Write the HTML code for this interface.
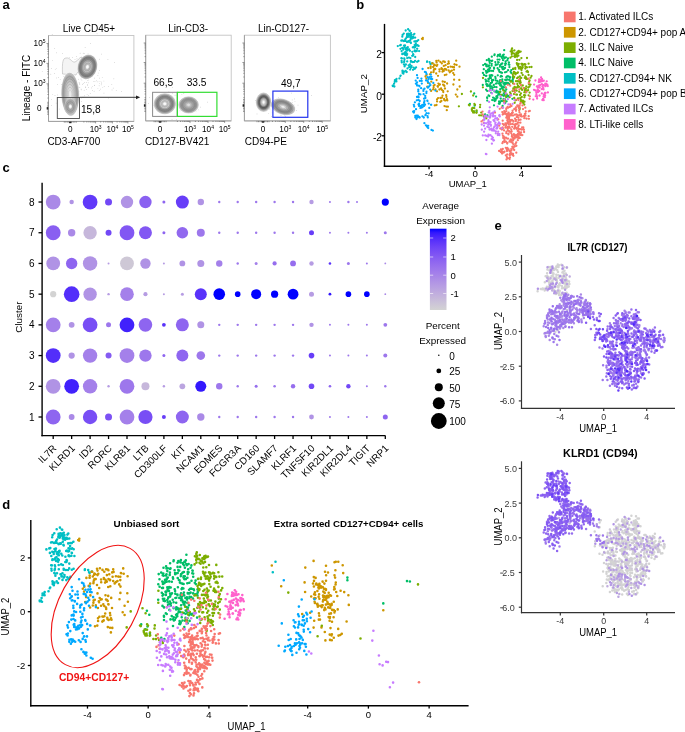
<!DOCTYPE html>
<html><head><meta charset="utf-8"><style>
html,body{margin:0;padding:0;background:#fff;}
svg{display:block;will-change:transform;}
text{font-family:"Liberation Sans", sans-serif;}
</style></head><body>
<svg width="685" height="732" viewBox="0 0 685 732" font-family='"Liberation Sans", sans-serif'>
<rect width="685" height="732" fill="#fff"/>
<text x="2.4" y="8.8" font-size="13" text-anchor="start" font-weight="bold" fill="#000" >a</text>
<rect x="48.5" y="35.5" width="85.4" height="85.9" fill="none" stroke="#c4c4c4" stroke-width="0.9"/>
<line x1="48.5" y1="35.5" x2="48.5" y2="121.4" stroke="#9a9a9a" stroke-width="0.9"/>
<line x1="48.5" y1="121.4" x2="133.9" y2="121.4" stroke="#9a9a9a" stroke-width="0.9"/>
<g stroke="#555" stroke-width="0.6"><line x1="64.3" y1="121.4" x2="64.3" y2="122.7"/><line x1="65.8" y1="121.4" x2="65.8" y2="122.7"/><line x1="67.3" y1="121.4" x2="67.3" y2="122.7"/><line x1="68.8" y1="121.4" x2="68.8" y2="122.7"/><line x1="70.3" y1="121.4" x2="70.3" y2="122.7"/><line x1="71.8" y1="121.4" x2="71.8" y2="122.7"/><line x1="73.3" y1="121.4" x2="73.3" y2="122.7"/><line x1="74.8" y1="121.4" x2="74.8" y2="122.7"/><line x1="76.3" y1="121.4" x2="76.3" y2="122.7"/><line x1="83.86" y1="121.4" x2="83.86" y2="122.5"/><line x1="86.82" y1="121.4" x2="86.82" y2="122.5"/><line x1="88.91" y1="121.4" x2="88.91" y2="122.5"/><line x1="90.54" y1="121.4" x2="90.54" y2="122.5"/><line x1="91.87" y1="121.4" x2="91.87" y2="122.5"/><line x1="93" y1="121.4" x2="93" y2="122.5"/><line x1="93.97" y1="121.4" x2="93.97" y2="122.5"/><line x1="94.83" y1="121.4" x2="94.83" y2="122.5"/><line x1="100.66" y1="121.4" x2="100.66" y2="122.5"/><line x1="103.62" y1="121.4" x2="103.62" y2="122.5"/><line x1="105.71" y1="121.4" x2="105.71" y2="122.5"/><line x1="107.34" y1="121.4" x2="107.34" y2="122.5"/><line x1="108.67" y1="121.4" x2="108.67" y2="122.5"/><line x1="109.8" y1="121.4" x2="109.8" y2="122.5"/><line x1="110.77" y1="121.4" x2="110.77" y2="122.5"/><line x1="111.63" y1="121.4" x2="111.63" y2="122.5"/><line x1="117.07" y1="121.4" x2="117.07" y2="122.5"/><line x1="119.8" y1="121.4" x2="119.8" y2="122.5"/><line x1="121.73" y1="121.4" x2="121.73" y2="122.5"/><line x1="123.23" y1="121.4" x2="123.23" y2="122.5"/><line x1="124.46" y1="121.4" x2="124.46" y2="122.5"/><line x1="125.5" y1="121.4" x2="125.5" y2="122.5"/><line x1="126.4" y1="121.4" x2="126.4" y2="122.5"/><line x1="127.19" y1="121.4" x2="127.19" y2="122.5"/><line x1="95.6" y1="121.4" x2="95.6" y2="123.4"/><line x1="112.4" y1="121.4" x2="112.4" y2="123.4"/><line x1="127.9" y1="121.4" x2="127.9" y2="123.4"/></g>
<rect x="69.1" y="121.7" width="2.4" height="1.5" fill="#222"/>
<g stroke="#555" stroke-width="0.6"><line x1="47.2" y1="102.3" x2="48.5" y2="102.3"/><line x1="47.2" y1="103.8" x2="48.5" y2="103.8"/><line x1="47.2" y1="105.3" x2="48.5" y2="105.3"/><line x1="47.2" y1="106.8" x2="48.5" y2="106.8"/><line x1="47.2" y1="108.3" x2="48.5" y2="108.3"/><line x1="47.2" y1="109.8" x2="48.5" y2="109.8"/><line x1="47.2" y1="111.3" x2="48.5" y2="111.3"/><line x1="47.2" y1="112.8" x2="48.5" y2="112.8"/><line x1="47.2" y1="114.3" x2="48.5" y2="114.3"/><line x1="47.4" y1="98.06" x2="48.5" y2="98.06"/><line x1="47.4" y1="94.47" x2="48.5" y2="94.47"/><line x1="47.4" y1="91.92" x2="48.5" y2="91.92"/><line x1="47.4" y1="89.94" x2="48.5" y2="89.94"/><line x1="47.4" y1="88.33" x2="48.5" y2="88.33"/><line x1="47.4" y1="86.96" x2="48.5" y2="86.96"/><line x1="47.4" y1="85.78" x2="48.5" y2="85.78"/><line x1="47.4" y1="84.73" x2="48.5" y2="84.73"/><line x1="47.4" y1="77.66" x2="48.5" y2="77.66"/><line x1="47.4" y1="74.07" x2="48.5" y2="74.07"/><line x1="47.4" y1="71.52" x2="48.5" y2="71.52"/><line x1="47.4" y1="69.54" x2="48.5" y2="69.54"/><line x1="47.4" y1="67.93" x2="48.5" y2="67.93"/><line x1="47.4" y1="66.56" x2="48.5" y2="66.56"/><line x1="47.4" y1="65.38" x2="48.5" y2="65.38"/><line x1="47.4" y1="64.33" x2="48.5" y2="64.33"/><line x1="47.4" y1="57.41" x2="48.5" y2="57.41"/><line x1="47.4" y1="53.91" x2="48.5" y2="53.91"/><line x1="47.4" y1="51.42" x2="48.5" y2="51.42"/><line x1="47.4" y1="49.49" x2="48.5" y2="49.49"/><line x1="47.4" y1="47.91" x2="48.5" y2="47.91"/><line x1="47.4" y1="46.58" x2="48.5" y2="46.58"/><line x1="47.4" y1="45.43" x2="48.5" y2="45.43"/><line x1="47.4" y1="44.41" x2="48.5" y2="44.41"/><line x1="46.5" y1="83.8" x2="48.5" y2="83.8"/><line x1="46.5" y1="63.4" x2="48.5" y2="63.4"/><line x1="46.5" y1="43.5" x2="48.5" y2="43.5"/></g>
<rect x="46.7" y="107.1" width="1.5" height="2.4" fill="#222"/>
<text x="88.9" y="31.5" font-size="10" text-anchor="middle" font-weight="normal" fill="#000" >Live CD45+</text>
<text x="45.5" y="45.7" font-size="8.2" text-anchor="end">10<tspan font-size="5" dy="-3">5</tspan></text>
<text x="45.5" y="65.6" font-size="8.2" text-anchor="end">10<tspan font-size="5" dy="-3">4</tspan></text>
<text x="45.5" y="86" font-size="8.2" text-anchor="end">10<tspan font-size="5" dy="-3">3</tspan></text>
<text x="41.6" y="111.2" font-size="8.2" text-anchor="end" font-weight="normal" fill="#000" >0</text>
<text x="70.3" y="131.5" font-size="8.2" text-anchor="middle" font-weight="normal" fill="#000" >0</text>
<text x="95.6" y="131.5" font-size="8.2" text-anchor="middle">10<tspan font-size="5" dy="-3">3</tspan></text>
<text x="112.4" y="131.5" font-size="8.2" text-anchor="middle">10<tspan font-size="5" dy="-3">4</tspan></text>
<text x="127.9" y="131.5" font-size="8.2" text-anchor="middle">10<tspan font-size="5" dy="-3">5</tspan></text>
<text x="26.6" y="88" font-size="10" text-anchor="middle" transform="rotate(-90 26.6 88)" dy="3.7">Lineage - FITC</text>
<text x="47.4" y="144.9" font-size="10" text-anchor="start" font-weight="normal" fill="#000" >CD3-AF700</text>
<g fill="#888" fill-opacity="0.8"><circle cx="71.93" cy="89.21" r="0.35"/><circle cx="72.29" cy="74.33" r="0.35"/><circle cx="63.84" cy="76.16" r="0.35"/><circle cx="88.34" cy="87.63" r="0.35"/><circle cx="87.44" cy="84.48" r="0.35"/><circle cx="79.74" cy="83.34" r="0.35"/><circle cx="55.01" cy="95.39" r="0.35"/><circle cx="81.08" cy="88.98" r="0.35"/><circle cx="54.7" cy="48.61" r="0.35"/><circle cx="64.32" cy="71.57" r="0.35"/><circle cx="78.67" cy="79.17" r="0.35"/><circle cx="81.25" cy="68.44" r="0.35"/><circle cx="78.7" cy="87.09" r="0.35"/><circle cx="67.07" cy="110.92" r="0.35"/><circle cx="81.68" cy="101.55" r="0.35"/><circle cx="67.56" cy="66.69" r="0.35"/><circle cx="70.87" cy="78.08" r="0.35"/><circle cx="82.58" cy="84.47" r="0.35"/><circle cx="69.63" cy="62.78" r="0.35"/><circle cx="68.75" cy="101.98" r="0.35"/><circle cx="65.3" cy="84.41" r="0.35"/><circle cx="80.12" cy="53.18" r="0.35"/><circle cx="75.58" cy="103.51" r="0.35"/><circle cx="50.83" cy="74.21" r="0.35"/><circle cx="73.73" cy="65.29" r="0.35"/><circle cx="80.97" cy="78.88" r="0.35"/><circle cx="57.42" cy="94.9" r="0.35"/><circle cx="83.03" cy="97.03" r="0.35"/><circle cx="92.29" cy="86.52" r="0.35"/><circle cx="76.43" cy="56.61" r="0.35"/><circle cx="82.39" cy="68.99" r="0.35"/><circle cx="69.57" cy="57.23" r="0.35"/><circle cx="63.39" cy="70.44" r="0.35"/><circle cx="90.47" cy="43.43" r="0.35"/><circle cx="57.51" cy="84.31" r="0.35"/><circle cx="92.32" cy="90.41" r="0.35"/><circle cx="52.2" cy="34.67" r="0.35"/><circle cx="79.29" cy="66.75" r="0.35"/><circle cx="61.56" cy="97.59" r="0.35"/><circle cx="88.22" cy="82.83" r="0.35"/><circle cx="77.95" cy="87.82" r="0.35"/><circle cx="94.13" cy="91.14" r="0.35"/><circle cx="81.22" cy="89.86" r="0.35"/><circle cx="56.18" cy="103.07" r="0.35"/><circle cx="86.46" cy="89.53" r="0.35"/><circle cx="51.31" cy="68.59" r="0.35"/><circle cx="85.11" cy="47.4" r="0.35"/><circle cx="72.79" cy="98.35" r="0.35"/><circle cx="59.27" cy="108.98" r="0.35"/><circle cx="81.62" cy="77.3" r="0.35"/><circle cx="78.9" cy="91.7" r="0.35"/><circle cx="76.44" cy="100.62" r="0.35"/><circle cx="67.06" cy="72.53" r="0.35"/><circle cx="87.5" cy="80.48" r="0.35"/><circle cx="64.43" cy="97.04" r="0.35"/><circle cx="92.59" cy="71.99" r="0.35"/><circle cx="58.44" cy="77.57" r="0.35"/><circle cx="73.21" cy="74.64" r="0.35"/><circle cx="91.86" cy="61.52" r="0.35"/><circle cx="90.13" cy="57.17" r="0.35"/><circle cx="65.56" cy="91.37" r="0.35"/><circle cx="88.54" cy="95.46" r="0.35"/><circle cx="79.14" cy="82.56" r="0.35"/><circle cx="76.83" cy="90.36" r="0.35"/><circle cx="72.89" cy="84.99" r="0.35"/><circle cx="81.87" cy="80.02" r="0.35"/><circle cx="84.17" cy="90.19" r="0.35"/><circle cx="99.13" cy="85.85" r="0.35"/><circle cx="69.87" cy="73.29" r="0.35"/><circle cx="74.84" cy="96.63" r="0.35"/><circle cx="70.96" cy="86.94" r="0.35"/><circle cx="97.05" cy="33.84" r="0.35"/><circle cx="61.51" cy="84.39" r="0.35"/><circle cx="79.78" cy="84.29" r="0.35"/><circle cx="69.83" cy="91.79" r="0.35"/><circle cx="78.39" cy="70.6" r="0.35"/><circle cx="104.16" cy="86.39" r="0.35"/><circle cx="68.35" cy="78.21" r="0.35"/><circle cx="72.29" cy="78.87" r="0.35"/><circle cx="42.26" cy="71.24" r="0.35"/><circle cx="87.1" cy="58.97" r="0.35"/><circle cx="74.2" cy="97.16" r="0.35"/><circle cx="85.27" cy="106.84" r="0.35"/><circle cx="54.58" cy="73.64" r="0.35"/><circle cx="70.91" cy="91.22" r="0.35"/><circle cx="88.1" cy="31.71" r="0.35"/><circle cx="88.06" cy="53.94" r="0.35"/><circle cx="83.2" cy="53.14" r="0.35"/><circle cx="77.11" cy="101.5" r="0.35"/><circle cx="73.21" cy="83.44" r="0.35"/><circle cx="84.57" cy="82.54" r="0.35"/><circle cx="73.94" cy="107.6" r="0.35"/><circle cx="87.58" cy="74.71" r="0.35"/><circle cx="107.94" cy="59.36" r="0.35"/><circle cx="85.98" cy="75.22" r="0.35"/><circle cx="76.59" cy="92.69" r="0.35"/><circle cx="77.67" cy="91.5" r="0.35"/><circle cx="56.67" cy="52.83" r="0.35"/><circle cx="82.38" cy="62.66" r="0.35"/><circle cx="62.68" cy="53.54" r="0.35"/><circle cx="90.2" cy="93.44" r="0.35"/><circle cx="92.68" cy="63.12" r="0.35"/><circle cx="75.01" cy="59.47" r="0.35"/><circle cx="84.19" cy="108.61" r="0.35"/><circle cx="64.32" cy="108.09" r="0.35"/><circle cx="86.86" cy="76.8" r="0.35"/><circle cx="51.34" cy="105.32" r="0.35"/><circle cx="73.84" cy="69.15" r="0.35"/><circle cx="79.8" cy="87.38" r="0.35"/><circle cx="92.98" cy="61.64" r="0.35"/><circle cx="88.63" cy="106.77" r="0.35"/><circle cx="92.43" cy="76.75" r="0.35"/><circle cx="66.07" cy="98.33" r="0.35"/><circle cx="76.38" cy="82.24" r="0.35"/><circle cx="92.09" cy="75.26" r="0.35"/><circle cx="47.44" cy="73.03" r="0.35"/><circle cx="52.75" cy="94.74" r="0.35"/><circle cx="78.8" cy="69" r="0.35"/><circle cx="74.88" cy="94.99" r="0.35"/><circle cx="75.95" cy="103.88" r="0.35"/><circle cx="74.26" cy="98.73" r="0.35"/><circle cx="92.9" cy="108.98" r="0.35"/><circle cx="66.94" cy="95.84" r="0.35"/><circle cx="52.49" cy="60.5" r="0.35"/><circle cx="51.45" cy="99.24" r="0.35"/><circle cx="60.22" cy="79.77" r="0.35"/><circle cx="72.69" cy="79.49" r="0.35"/><circle cx="67.9" cy="84.21" r="0.35"/><circle cx="96.5" cy="80.8" r="0.35"/><circle cx="81.37" cy="98.01" r="0.35"/><circle cx="72.62" cy="57.33" r="0.35"/><circle cx="68.34" cy="99.32" r="0.35"/><circle cx="55.25" cy="69.24" r="0.35"/><circle cx="87.09" cy="94.27" r="0.35"/><circle cx="75.09" cy="94.49" r="0.35"/><circle cx="76.99" cy="58.78" r="0.35"/><circle cx="56.23" cy="68.5" r="0.35"/><circle cx="86.07" cy="69.82" r="0.35"/><circle cx="64.17" cy="66.12" r="0.35"/><circle cx="56.62" cy="77.89" r="0.35"/></g>
<g fill="#888" fill-opacity="0.8"><circle cx="83.2" cy="83.64" r="0.35"/><circle cx="71.4" cy="83.28" r="0.35"/><circle cx="88.58" cy="60.58" r="0.35"/><circle cx="102.25" cy="77.24" r="0.35"/><circle cx="72.7" cy="71.25" r="0.35"/><circle cx="97.91" cy="75.41" r="0.35"/><circle cx="102.8" cy="87.48" r="0.35"/><circle cx="101.66" cy="83.27" r="0.35"/><circle cx="108.34" cy="86.6" r="0.35"/><circle cx="99.51" cy="59.16" r="0.35"/><circle cx="103.97" cy="93.09" r="0.35"/><circle cx="92.03" cy="75.3" r="0.35"/><circle cx="114.4" cy="62.42" r="0.35"/><circle cx="99.69" cy="104.24" r="0.35"/><circle cx="85.72" cy="86.9" r="0.35"/><circle cx="113.86" cy="78.8" r="0.35"/><circle cx="100.61" cy="89.03" r="0.35"/><circle cx="85.94" cy="79.11" r="0.35"/><circle cx="97.93" cy="88.25" r="0.35"/><circle cx="94.65" cy="78.05" r="0.35"/><circle cx="84.84" cy="76.41" r="0.35"/><circle cx="103.92" cy="81.02" r="0.35"/><circle cx="86.47" cy="71.58" r="0.35"/><circle cx="121.67" cy="91.4" r="0.35"/><circle cx="101.37" cy="54.07" r="0.35"/><circle cx="101.21" cy="84.81" r="0.35"/><circle cx="111.84" cy="84.28" r="0.35"/><circle cx="94.33" cy="85.22" r="0.35"/><circle cx="75.56" cy="90.33" r="0.35"/><circle cx="98.25" cy="72.98" r="0.35"/><circle cx="108.26" cy="98.09" r="0.35"/><circle cx="80.98" cy="73.34" r="0.35"/><circle cx="97.91" cy="81.83" r="0.35"/><circle cx="91.02" cy="70.26" r="0.35"/><circle cx="116.2" cy="90.37" r="0.35"/><circle cx="83.06" cy="66.55" r="0.35"/><circle cx="112.03" cy="89.89" r="0.35"/><circle cx="113.21" cy="88.1" r="0.35"/><circle cx="86.28" cy="82.61" r="0.35"/><circle cx="73.4" cy="72.52" r="0.35"/><circle cx="94.41" cy="85.23" r="0.35"/><circle cx="87.72" cy="78.76" r="0.35"/><circle cx="99.59" cy="83.77" r="0.35"/><circle cx="101.38" cy="82.09" r="0.35"/><circle cx="91.76" cy="87.89" r="0.35"/><circle cx="95.49" cy="71.74" r="0.35"/><circle cx="88.74" cy="80" r="0.35"/><circle cx="93.9" cy="81.57" r="0.35"/><circle cx="95" cy="81.76" r="0.35"/><circle cx="93.66" cy="67.42" r="0.35"/><circle cx="99.21" cy="90.54" r="0.35"/><circle cx="99.35" cy="78.11" r="0.35"/><circle cx="99.46" cy="70.34" r="0.35"/><circle cx="76.04" cy="80.6" r="0.35"/><circle cx="85.7" cy="87.4" r="0.35"/><circle cx="84.16" cy="53.71" r="0.35"/><circle cx="84.6" cy="95.78" r="0.35"/><circle cx="91.18" cy="66.31" r="0.35"/><circle cx="87.37" cy="85.21" r="0.35"/><circle cx="99.97" cy="81.77" r="0.35"/></g>
<path d="M62.5,74 C62,62 63,58 66,58 C70,57 72,63 75,62 C78,61 79,57 82,57 L81,70 C78,71 77,73 76,75 Z" fill="#f4f4f4" stroke="#aaaaaa" stroke-width="0.5"/>
<defs><radialGradient id="rg1" cx="0.5" cy="0.5" r="0.5"><stop offset="0" stop-color="#eeeeee"/><stop offset="0.35" stop-color="#d8d8d8"/><stop offset="0.6" stop-color="#c0c0c0"/><stop offset="0.78" stop-color="#a4a4a4"/><stop offset="0.9" stop-color="#b8b8b8"/><stop offset="1" stop-color="#f4f4f4"/></radialGradient></defs>
<g transform="translate(70.2,94.2) rotate(-2)"><ellipse rx="9" ry="22" fill="url(#rg1)"/><ellipse rx="8.55" ry="20.9" fill="none" stroke="#666" stroke-width="0.5" stroke-opacity="0.35"/><ellipse rx="7.38" ry="18.04" fill="none" stroke="#666" stroke-width="0.5" stroke-opacity="0.45"/><ellipse rx="6.3" ry="15.4" fill="none" stroke="#666" stroke-width="0.5" stroke-opacity="0.5"/><ellipse rx="5.22" ry="12.76" fill="none" stroke="#666" stroke-width="0.5" stroke-opacity="0.45"/><ellipse rx="4.05" ry="9.9" fill="none" stroke="#666" stroke-width="0.5" stroke-opacity="0.4"/><ellipse rx="2.88" ry="7.04" fill="none" stroke="#666" stroke-width="0.5" stroke-opacity="0.35"/><ellipse rx="1.8" ry="4.4" fill="none" stroke="#666" stroke-width="0.5" stroke-opacity="0.3"/></g>
<defs><radialGradient id="rg2" cx="0.5" cy="0.5" r="0.5"><stop offset="0" stop-color="#ffffff"/><stop offset="0.15" stop-color="#eeeeee"/><stop offset="0.35" stop-color="#b0b0b0"/><stop offset="0.6" stop-color="#a0a0a0"/><stop offset="0.85" stop-color="#b8b8b8"/><stop offset="1" stop-color="#c8c8c8"/></radialGradient></defs>
<g transform="translate(70.4,106.5) rotate(0)"><ellipse rx="6.2" ry="8.2" fill="url(#rg2)"/><ellipse rx="4.96" ry="6.56" fill="none" stroke="#666" stroke-width="0.5" stroke-opacity="0.3"/><ellipse rx="3.41" ry="4.51" fill="none" stroke="#666" stroke-width="0.5" stroke-opacity="0.4"/><ellipse rx="2.17" ry="2.87" fill="none" stroke="#666" stroke-width="0.5" stroke-opacity="0.4"/></g>
<defs><radialGradient id="rg3" cx="0.5" cy="0.5" r="0.5"><stop offset="0" stop-color="#ffffff"/><stop offset="0.12" stop-color="#f0f0f0"/><stop offset="0.25" stop-color="#b8b8b8"/><stop offset="0.4" stop-color="#c4c4c4"/><stop offset="0.6" stop-color="#8c8c8c"/><stop offset="0.78" stop-color="#7c7c7c"/><stop offset="0.9" stop-color="#b0b0b0"/><stop offset="1" stop-color="#f2f2f2"/></radialGradient></defs>
<g transform="translate(87.4,66.9) rotate(15)"><ellipse rx="9.8" ry="12.6" fill="url(#rg3)"/><ellipse rx="9.31" ry="11.97" fill="none" stroke="#666" stroke-width="0.5" stroke-opacity="0.35"/><ellipse rx="8.04" ry="10.33" fill="none" stroke="#666" stroke-width="0.5" stroke-opacity="0.45"/><ellipse rx="6.86" ry="8.82" fill="none" stroke="#666" stroke-width="0.5" stroke-opacity="0.5"/><ellipse rx="5.68" ry="7.31" fill="none" stroke="#666" stroke-width="0.5" stroke-opacity="0.45"/><ellipse rx="4.41" ry="5.67" fill="none" stroke="#666" stroke-width="0.5" stroke-opacity="0.4"/><ellipse rx="3.14" ry="4.03" fill="none" stroke="#666" stroke-width="0.5" stroke-opacity="0.35"/><ellipse rx="1.96" ry="2.52" fill="none" stroke="#666" stroke-width="0.5" stroke-opacity="0.3"/></g>
<rect x="57.3" y="97.5" width="22.2" height="21" fill="none" stroke="#4a4a4a" stroke-width="0.9"/>
<text x="80.9" y="113.4" font-size="10.2" text-anchor="start" font-weight="normal" fill="#000" >15,8</text>
<line x1="79.5" y1="97.3" x2="137" y2="97.3" stroke="#222" stroke-width="0.9"/>
<path d="M140.2,97.3 L136,95.4 L136,99.2 Z" fill="#222"/>
<rect x="145.7" y="35.2" width="85.5" height="85.7" fill="none" stroke="#c4c4c4" stroke-width="0.9"/>
<line x1="145.7" y1="35.2" x2="145.7" y2="120.9" stroke="#9a9a9a" stroke-width="0.9"/>
<line x1="145.7" y1="120.9" x2="231.2" y2="120.9" stroke="#9a9a9a" stroke-width="0.9"/>
<g stroke="#555" stroke-width="0.6"><line x1="154.1" y1="120.9" x2="154.1" y2="122.2"/><line x1="155.6" y1="120.9" x2="155.6" y2="122.2"/><line x1="157.1" y1="120.9" x2="157.1" y2="122.2"/><line x1="158.6" y1="120.9" x2="158.6" y2="122.2"/><line x1="160.1" y1="120.9" x2="160.1" y2="122.2"/><line x1="161.6" y1="120.9" x2="161.6" y2="122.2"/><line x1="163.1" y1="120.9" x2="163.1" y2="122.2"/><line x1="164.6" y1="120.9" x2="164.6" y2="122.2"/><line x1="166.1" y1="120.9" x2="166.1" y2="122.2"/><line x1="177.42" y1="120.9" x2="177.42" y2="122"/><line x1="180.59" y1="120.9" x2="180.59" y2="122"/><line x1="182.84" y1="120.9" x2="182.84" y2="122"/><line x1="184.58" y1="120.9" x2="184.58" y2="122"/><line x1="186.01" y1="120.9" x2="186.01" y2="122"/><line x1="187.21" y1="120.9" x2="187.21" y2="122"/><line x1="188.26" y1="120.9" x2="188.26" y2="122"/><line x1="189.18" y1="120.9" x2="189.18" y2="122"/><line x1="195.42" y1="120.9" x2="195.42" y2="122"/><line x1="198.59" y1="120.9" x2="198.59" y2="122"/><line x1="200.84" y1="120.9" x2="200.84" y2="122"/><line x1="202.58" y1="120.9" x2="202.58" y2="122"/><line x1="204.01" y1="120.9" x2="204.01" y2="122"/><line x1="205.21" y1="120.9" x2="205.21" y2="122"/><line x1="206.26" y1="120.9" x2="206.26" y2="122"/><line x1="207.18" y1="120.9" x2="207.18" y2="122"/><line x1="213" y1="120.9" x2="213" y2="122"/><line x1="215.92" y1="120.9" x2="215.92" y2="122"/><line x1="217.99" y1="120.9" x2="217.99" y2="122"/><line x1="219.6" y1="120.9" x2="219.6" y2="122"/><line x1="220.92" y1="120.9" x2="220.92" y2="122"/><line x1="222.03" y1="120.9" x2="222.03" y2="122"/><line x1="222.99" y1="120.9" x2="222.99" y2="122"/><line x1="223.84" y1="120.9" x2="223.84" y2="122"/><line x1="190" y1="120.9" x2="190" y2="122.9"/><line x1="208" y1="120.9" x2="208" y2="122.9"/><line x1="224.6" y1="120.9" x2="224.6" y2="122.9"/></g>
<rect x="158.9" y="121.2" width="2.4" height="1.5" fill="#222"/>
<g stroke="#555" stroke-width="0.6"><line x1="144.4" y1="99.5" x2="145.7" y2="99.5"/><line x1="144.4" y1="101" x2="145.7" y2="101"/><line x1="144.4" y1="102.5" x2="145.7" y2="102.5"/><line x1="144.4" y1="104" x2="145.7" y2="104"/><line x1="144.4" y1="105.5" x2="145.7" y2="105.5"/><line x1="144.4" y1="107" x2="145.7" y2="107"/><line x1="144.4" y1="108.5" x2="145.7" y2="108.5"/><line x1="144.4" y1="110" x2="145.7" y2="110"/><line x1="144.4" y1="111.5" x2="145.7" y2="111.5"/><line x1="144.6" y1="97.67" x2="145.7" y2="97.67"/><line x1="144.6" y1="94.02" x2="145.7" y2="94.02"/><line x1="144.6" y1="91.44" x2="145.7" y2="91.44"/><line x1="144.6" y1="89.43" x2="145.7" y2="89.43"/><line x1="144.6" y1="87.79" x2="145.7" y2="87.79"/><line x1="144.6" y1="86.41" x2="145.7" y2="86.41"/><line x1="144.6" y1="85.21" x2="145.7" y2="85.21"/><line x1="144.6" y1="84.15" x2="145.7" y2="84.15"/><line x1="144.6" y1="76.97" x2="145.7" y2="76.97"/><line x1="144.6" y1="73.32" x2="145.7" y2="73.32"/><line x1="144.6" y1="70.74" x2="145.7" y2="70.74"/><line x1="144.6" y1="68.73" x2="145.7" y2="68.73"/><line x1="144.6" y1="67.09" x2="145.7" y2="67.09"/><line x1="144.6" y1="65.71" x2="145.7" y2="65.71"/><line x1="144.6" y1="64.51" x2="145.7" y2="64.51"/><line x1="144.6" y1="63.45" x2="145.7" y2="63.45"/><line x1="144.6" y1="56.63" x2="145.7" y2="56.63"/><line x1="144.6" y1="53.2" x2="145.7" y2="53.2"/><line x1="144.6" y1="50.76" x2="145.7" y2="50.76"/><line x1="144.6" y1="48.87" x2="145.7" y2="48.87"/><line x1="144.6" y1="47.33" x2="145.7" y2="47.33"/><line x1="144.6" y1="46.02" x2="145.7" y2="46.02"/><line x1="144.6" y1="44.89" x2="145.7" y2="44.89"/><line x1="144.6" y1="43.89" x2="145.7" y2="43.89"/><line x1="143.7" y1="83.2" x2="145.7" y2="83.2"/><line x1="143.7" y1="62.5" x2="145.7" y2="62.5"/><line x1="143.7" y1="43" x2="145.7" y2="43"/></g>
<rect x="143.9" y="104.3" width="1.5" height="2.4" fill="#222"/>
<text x="188.2" y="31.5" font-size="10" text-anchor="middle" font-weight="normal" fill="#000" >Lin-CD3-</text>
<text x="160.1" y="131.5" font-size="8.2" text-anchor="middle" font-weight="normal" fill="#000" >0</text>
<text x="190" y="131.5" font-size="8.2" text-anchor="middle">10<tspan font-size="5" dy="-3">3</tspan></text>
<text x="208" y="131.5" font-size="8.2" text-anchor="middle">10<tspan font-size="5" dy="-3">4</tspan></text>
<text x="224.6" y="131.5" font-size="8.2" text-anchor="middle">10<tspan font-size="5" dy="-3">5</tspan></text>
<text x="144.9" y="144.9" font-size="10" text-anchor="start" font-weight="normal" fill="#000" >CD127-BV421</text>
<g fill="#888" fill-opacity="0.8"><circle cx="195.77" cy="108.24" r="0.35"/><circle cx="174.71" cy="107.58" r="0.35"/><circle cx="198.16" cy="109.83" r="0.35"/><circle cx="189.33" cy="97.5" r="0.35"/><circle cx="172.92" cy="108.38" r="0.35"/><circle cx="170.85" cy="110.41" r="0.35"/><circle cx="183.35" cy="109.45" r="0.35"/><circle cx="172.03" cy="119.28" r="0.35"/><circle cx="192.36" cy="102.71" r="0.35"/><circle cx="176.27" cy="119.57" r="0.35"/><circle cx="170.19" cy="109.24" r="0.35"/><circle cx="188.73" cy="104.04" r="0.35"/><circle cx="158.66" cy="105.13" r="0.35"/><circle cx="180.03" cy="110.78" r="0.35"/><circle cx="185.96" cy="104.15" r="0.35"/><circle cx="186.95" cy="107.24" r="0.35"/><circle cx="177.88" cy="104.33" r="0.35"/><circle cx="171.59" cy="108.12" r="0.35"/><circle cx="160.24" cy="100.23" r="0.35"/><circle cx="175.07" cy="95.22" r="0.35"/><circle cx="168.9" cy="91.95" r="0.35"/><circle cx="165.44" cy="107.41" r="0.35"/><circle cx="182.93" cy="103.67" r="0.35"/><circle cx="171.75" cy="95.5" r="0.35"/><circle cx="200.59" cy="107.1" r="0.35"/><circle cx="190.31" cy="98.71" r="0.35"/><circle cx="172.41" cy="93.08" r="0.35"/><circle cx="185.93" cy="109.61" r="0.35"/><circle cx="148.44" cy="103.69" r="0.35"/><circle cx="183.82" cy="93.43" r="0.35"/><circle cx="149.44" cy="97.61" r="0.35"/><circle cx="166.19" cy="95.58" r="0.35"/><circle cx="175.44" cy="105.5" r="0.35"/><circle cx="183.88" cy="108.21" r="0.35"/><circle cx="196.04" cy="110.99" r="0.35"/><circle cx="156.63" cy="100.97" r="0.35"/><circle cx="160.16" cy="97.54" r="0.35"/><circle cx="173.86" cy="104.03" r="0.35"/><circle cx="181.86" cy="94.48" r="0.35"/><circle cx="157.67" cy="103.86" r="0.35"/><circle cx="172.21" cy="102.13" r="0.35"/><circle cx="174.12" cy="99.44" r="0.35"/><circle cx="184.82" cy="106.13" r="0.35"/><circle cx="173.77" cy="99.97" r="0.35"/><circle cx="172.56" cy="87.67" r="0.35"/><circle cx="161.26" cy="104.22" r="0.35"/><circle cx="153.94" cy="105.2" r="0.35"/><circle cx="177.06" cy="95.73" r="0.35"/><circle cx="171.49" cy="102.12" r="0.35"/><circle cx="181.44" cy="107.67" r="0.35"/><circle cx="174.49" cy="98.89" r="0.35"/><circle cx="172.98" cy="103.61" r="0.35"/><circle cx="185.28" cy="105.77" r="0.35"/><circle cx="164.88" cy="95.87" r="0.35"/><circle cx="169.78" cy="99.56" r="0.35"/><circle cx="159.43" cy="103.3" r="0.35"/><circle cx="168.13" cy="104.63" r="0.35"/><circle cx="182.33" cy="101.52" r="0.35"/><circle cx="207.54" cy="102.07" r="0.35"/><circle cx="190.42" cy="104.73" r="0.35"/></g>
<defs><radialGradient id="rg4" cx="0.5" cy="0.5" r="0.5"><stop offset="0" stop-color="#ffffff"/><stop offset="0.1" stop-color="#f4f4f4"/><stop offset="0.25" stop-color="#c0c0c0"/><stop offset="0.38" stop-color="#d0d0d0"/><stop offset="0.55" stop-color="#8e8e8e"/><stop offset="0.72" stop-color="#858585"/><stop offset="0.87" stop-color="#b5b5b5"/><stop offset="1" stop-color="#f6f6f6"/></radialGradient></defs>
<g transform="translate(164.8,103.8) rotate(0)"><ellipse rx="11.2" ry="10.6" fill="url(#rg4)"/><ellipse rx="10.64" ry="10.07" fill="none" stroke="#666" stroke-width="0.5" stroke-opacity="0.35"/><ellipse rx="9.18" ry="8.69" fill="none" stroke="#666" stroke-width="0.5" stroke-opacity="0.45"/><ellipse rx="7.84" ry="7.42" fill="none" stroke="#666" stroke-width="0.5" stroke-opacity="0.5"/><ellipse rx="6.5" ry="6.15" fill="none" stroke="#666" stroke-width="0.5" stroke-opacity="0.45"/><ellipse rx="5.04" ry="4.77" fill="none" stroke="#666" stroke-width="0.5" stroke-opacity="0.4"/><ellipse rx="3.58" ry="3.39" fill="none" stroke="#666" stroke-width="0.5" stroke-opacity="0.35"/><ellipse rx="2.24" ry="2.12" fill="none" stroke="#666" stroke-width="0.5" stroke-opacity="0.3"/></g>
<defs><radialGradient id="rg5" cx="0.5" cy="0.5" r="0.5"><stop offset="0" stop-color="#e0e0e0"/><stop offset="0.15" stop-color="#d8d8d8"/><stop offset="0.35" stop-color="#b0b0b0"/><stop offset="0.6" stop-color="#959595"/><stop offset="0.78" stop-color="#a0a0a0"/><stop offset="0.9" stop-color="#c8c8c8"/><stop offset="1" stop-color="#f6f6f6"/></radialGradient></defs>
<g transform="translate(188.6,104.9) rotate(0)"><ellipse rx="10.3" ry="8.6" fill="url(#rg5)"/><ellipse rx="9.79" ry="8.17" fill="none" stroke="#666" stroke-width="0.5" stroke-opacity="0.35"/><ellipse rx="8.45" ry="7.05" fill="none" stroke="#666" stroke-width="0.5" stroke-opacity="0.45"/><ellipse rx="7.21" ry="6.02" fill="none" stroke="#666" stroke-width="0.5" stroke-opacity="0.5"/><ellipse rx="5.97" ry="4.99" fill="none" stroke="#666" stroke-width="0.5" stroke-opacity="0.45"/><ellipse rx="4.64" ry="3.87" fill="none" stroke="#666" stroke-width="0.5" stroke-opacity="0.4"/><ellipse rx="3.3" ry="2.75" fill="none" stroke="#666" stroke-width="0.5" stroke-opacity="0.35"/><ellipse rx="2.06" ry="1.72" fill="none" stroke="#666" stroke-width="0.5" stroke-opacity="0.3"/></g>
<rect x="152.6" y="92.3" width="24.6" height="24.1" fill="none" stroke="#8a8a8a" stroke-width="1.0"/>
<rect x="177.4" y="92.3" width="39.5" height="24.1" fill="none" stroke="#33dd33" stroke-width="1.2"/>
<text x="163.3" y="86.4" font-size="10.2" text-anchor="middle" font-weight="normal" fill="#000" >66,5</text>
<text x="196.6" y="86.4" font-size="10.2" text-anchor="middle" font-weight="normal" fill="#000" >33.5</text>
<rect x="244.4" y="35.2" width="86" height="85.7" fill="none" stroke="#c4c4c4" stroke-width="0.9"/>
<line x1="244.4" y1="35.2" x2="244.4" y2="120.9" stroke="#9a9a9a" stroke-width="0.9"/>
<line x1="244.4" y1="120.9" x2="330.4" y2="120.9" stroke="#9a9a9a" stroke-width="0.9"/>
<g stroke="#555" stroke-width="0.6"><line x1="257" y1="120.9" x2="257" y2="122.2"/><line x1="258.5" y1="120.9" x2="258.5" y2="122.2"/><line x1="260" y1="120.9" x2="260" y2="122.2"/><line x1="261.5" y1="120.9" x2="261.5" y2="122.2"/><line x1="263" y1="120.9" x2="263" y2="122.2"/><line x1="264.5" y1="120.9" x2="264.5" y2="122.2"/><line x1="266" y1="120.9" x2="266" y2="122.2"/><line x1="267.5" y1="120.9" x2="267.5" y2="122.2"/><line x1="269" y1="120.9" x2="269" y2="122.2"/><line x1="272.44" y1="120.9" x2="272.44" y2="122"/><line x1="275.68" y1="120.9" x2="275.68" y2="122"/><line x1="277.98" y1="120.9" x2="277.98" y2="122"/><line x1="279.76" y1="120.9" x2="279.76" y2="122"/><line x1="281.22" y1="120.9" x2="281.22" y2="122"/><line x1="282.45" y1="120.9" x2="282.45" y2="122"/><line x1="283.52" y1="120.9" x2="283.52" y2="122"/><line x1="284.46" y1="120.9" x2="284.46" y2="122"/><line x1="290.84" y1="120.9" x2="290.84" y2="122"/><line x1="294.08" y1="120.9" x2="294.08" y2="122"/><line x1="296.38" y1="120.9" x2="296.38" y2="122"/><line x1="298.16" y1="120.9" x2="298.16" y2="122"/><line x1="299.62" y1="120.9" x2="299.62" y2="122"/><line x1="300.85" y1="120.9" x2="300.85" y2="122"/><line x1="301.92" y1="120.9" x2="301.92" y2="122"/><line x1="302.86" y1="120.9" x2="302.86" y2="122"/><line x1="309.27" y1="120.9" x2="309.27" y2="122"/><line x1="312.53" y1="120.9" x2="312.53" y2="122"/><line x1="314.84" y1="120.9" x2="314.84" y2="122"/><line x1="316.63" y1="120.9" x2="316.63" y2="122"/><line x1="318.1" y1="120.9" x2="318.1" y2="122"/><line x1="319.33" y1="120.9" x2="319.33" y2="122"/><line x1="320.41" y1="120.9" x2="320.41" y2="122"/><line x1="321.35" y1="120.9" x2="321.35" y2="122"/><line x1="285.3" y1="120.9" x2="285.3" y2="122.9"/><line x1="303.7" y1="120.9" x2="303.7" y2="122.9"/><line x1="322.2" y1="120.9" x2="322.2" y2="122.9"/></g>
<rect x="261.8" y="121.2" width="2.4" height="1.5" fill="#222"/>
<g stroke="#555" stroke-width="0.6"><line x1="243.1" y1="99.5" x2="244.4" y2="99.5"/><line x1="243.1" y1="101" x2="244.4" y2="101"/><line x1="243.1" y1="102.5" x2="244.4" y2="102.5"/><line x1="243.1" y1="104" x2="244.4" y2="104"/><line x1="243.1" y1="105.5" x2="244.4" y2="105.5"/><line x1="243.1" y1="107" x2="244.4" y2="107"/><line x1="243.1" y1="108.5" x2="244.4" y2="108.5"/><line x1="243.1" y1="110" x2="244.4" y2="110"/><line x1="243.1" y1="111.5" x2="244.4" y2="111.5"/><line x1="243.3" y1="97.67" x2="244.4" y2="97.67"/><line x1="243.3" y1="94.02" x2="244.4" y2="94.02"/><line x1="243.3" y1="91.44" x2="244.4" y2="91.44"/><line x1="243.3" y1="89.43" x2="244.4" y2="89.43"/><line x1="243.3" y1="87.79" x2="244.4" y2="87.79"/><line x1="243.3" y1="86.41" x2="244.4" y2="86.41"/><line x1="243.3" y1="85.21" x2="244.4" y2="85.21"/><line x1="243.3" y1="84.15" x2="244.4" y2="84.15"/><line x1="243.3" y1="76.97" x2="244.4" y2="76.97"/><line x1="243.3" y1="73.32" x2="244.4" y2="73.32"/><line x1="243.3" y1="70.74" x2="244.4" y2="70.74"/><line x1="243.3" y1="68.73" x2="244.4" y2="68.73"/><line x1="243.3" y1="67.09" x2="244.4" y2="67.09"/><line x1="243.3" y1="65.71" x2="244.4" y2="65.71"/><line x1="243.3" y1="64.51" x2="244.4" y2="64.51"/><line x1="243.3" y1="63.45" x2="244.4" y2="63.45"/><line x1="243.3" y1="56.63" x2="244.4" y2="56.63"/><line x1="243.3" y1="53.2" x2="244.4" y2="53.2"/><line x1="243.3" y1="50.76" x2="244.4" y2="50.76"/><line x1="243.3" y1="48.87" x2="244.4" y2="48.87"/><line x1="243.3" y1="47.33" x2="244.4" y2="47.33"/><line x1="243.3" y1="46.02" x2="244.4" y2="46.02"/><line x1="243.3" y1="44.89" x2="244.4" y2="44.89"/><line x1="243.3" y1="43.89" x2="244.4" y2="43.89"/><line x1="242.4" y1="83.2" x2="244.4" y2="83.2"/><line x1="242.4" y1="62.5" x2="244.4" y2="62.5"/><line x1="242.4" y1="43" x2="244.4" y2="43"/></g>
<rect x="242.6" y="104.3" width="1.5" height="2.4" fill="#222"/>
<text x="283.5" y="31.5" font-size="10" text-anchor="middle" font-weight="normal" fill="#000" >Lin-CD127-</text>
<text x="263" y="131.5" font-size="8.2" text-anchor="middle" font-weight="normal" fill="#000" >0</text>
<text x="285.3" y="131.5" font-size="8.2" text-anchor="middle">10<tspan font-size="5" dy="-3">3</tspan></text>
<text x="303.7" y="131.5" font-size="8.2" text-anchor="middle">10<tspan font-size="5" dy="-3">4</tspan></text>
<text x="322.2" y="131.5" font-size="8.2" text-anchor="middle">10<tspan font-size="5" dy="-3">5</tspan></text>
<text x="244.7" y="144.9" font-size="10" text-anchor="start" font-weight="normal" fill="#000" >CD94-PE</text>
<g fill="#888" fill-opacity="0.8"><circle cx="291.39" cy="93.12" r="0.35"/><circle cx="268.98" cy="106.24" r="0.35"/><circle cx="285.23" cy="116.68" r="0.35"/><circle cx="281.87" cy="111.4" r="0.35"/><circle cx="287.2" cy="109.74" r="0.35"/><circle cx="284.12" cy="104.22" r="0.35"/><circle cx="284.11" cy="99.61" r="0.35"/><circle cx="292.18" cy="99.91" r="0.35"/><circle cx="280.99" cy="115.6" r="0.35"/><circle cx="275.32" cy="105.1" r="0.35"/><circle cx="291.96" cy="105.13" r="0.35"/><circle cx="268.31" cy="106.29" r="0.35"/><circle cx="284.99" cy="108.55" r="0.35"/><circle cx="268.73" cy="113.76" r="0.35"/><circle cx="298" cy="105.09" r="0.35"/><circle cx="281.22" cy="102.86" r="0.35"/><circle cx="294.97" cy="101.48" r="0.35"/><circle cx="286.09" cy="102.6" r="0.35"/><circle cx="269.67" cy="108.59" r="0.35"/><circle cx="294.01" cy="104.95" r="0.35"/><circle cx="269.87" cy="109.06" r="0.35"/><circle cx="277.41" cy="106.55" r="0.35"/><circle cx="296.27" cy="110.66" r="0.35"/><circle cx="271.76" cy="116.42" r="0.35"/><circle cx="278.04" cy="108.93" r="0.35"/><circle cx="270.23" cy="104.78" r="0.35"/><circle cx="257" cy="113.93" r="0.35"/><circle cx="294.39" cy="98.92" r="0.35"/><circle cx="259.94" cy="96.89" r="0.35"/><circle cx="292.11" cy="102.7" r="0.35"/><circle cx="277.27" cy="103.44" r="0.35"/><circle cx="276.55" cy="99.56" r="0.35"/><circle cx="278.29" cy="97.81" r="0.35"/><circle cx="277.14" cy="106.54" r="0.35"/><circle cx="283.61" cy="103.84" r="0.35"/><circle cx="267.16" cy="105.8" r="0.35"/><circle cx="272.18" cy="112.83" r="0.35"/><circle cx="287.21" cy="104.42" r="0.35"/><circle cx="272.35" cy="101.49" r="0.35"/><circle cx="266.75" cy="103.24" r="0.35"/><circle cx="281.54" cy="107.58" r="0.35"/><circle cx="284.83" cy="115.49" r="0.35"/><circle cx="269.54" cy="105.06" r="0.35"/><circle cx="311.54" cy="95.66" r="0.35"/><circle cx="271.74" cy="105.85" r="0.35"/><circle cx="279.85" cy="107.04" r="0.35"/><circle cx="275.14" cy="106.83" r="0.35"/><circle cx="278.63" cy="108.86" r="0.35"/><circle cx="255.29" cy="100.57" r="0.35"/><circle cx="277.97" cy="99.84" r="0.35"/></g>
<defs><radialGradient id="rg6" cx="0.5" cy="0.5" r="0.5"><stop offset="0" stop-color="#ffffff"/><stop offset="0.15" stop-color="#f0f0f0"/><stop offset="0.35" stop-color="#b8b8b8"/><stop offset="0.55" stop-color="#555555"/><stop offset="0.68" stop-color="#6a6a6a"/><stop offset="0.82" stop-color="#b0b0b0"/><stop offset="1" stop-color="#f6f6f6"/></radialGradient></defs>
<g transform="translate(263.6,102.2) rotate(0)"><ellipse rx="7.8" ry="9.8" fill="url(#rg6)"/><ellipse rx="7.41" ry="9.31" fill="none" stroke="#666" stroke-width="0.5" stroke-opacity="0.35"/><ellipse rx="6.4" ry="8.04" fill="none" stroke="#666" stroke-width="0.5" stroke-opacity="0.45"/><ellipse rx="5.46" ry="6.86" fill="none" stroke="#666" stroke-width="0.5" stroke-opacity="0.5"/><ellipse rx="4.52" ry="5.68" fill="none" stroke="#666" stroke-width="0.5" stroke-opacity="0.45"/><ellipse rx="3.51" ry="4.41" fill="none" stroke="#666" stroke-width="0.5" stroke-opacity="0.4"/><ellipse rx="2.5" ry="3.14" fill="none" stroke="#666" stroke-width="0.5" stroke-opacity="0.35"/><ellipse rx="1.56" ry="1.96" fill="none" stroke="#666" stroke-width="0.5" stroke-opacity="0.3"/></g>
<defs><radialGradient id="rg7" cx="0.5" cy="0.5" r="0.5"><stop offset="0" stop-color="#f4f4f4"/><stop offset="0.2" stop-color="#d8d8d8"/><stop offset="0.4" stop-color="#a8a8a8"/><stop offset="0.62" stop-color="#8a8a8a"/><stop offset="0.8" stop-color="#a8a8a8"/><stop offset="0.92" stop-color="#cfcfcf"/><stop offset="1" stop-color="#f6f6f6"/></radialGradient></defs>
<g transform="translate(283,106.8) rotate(18)"><ellipse rx="12.8" ry="7.8" fill="url(#rg7)"/><ellipse rx="12.16" ry="7.41" fill="none" stroke="#666" stroke-width="0.5" stroke-opacity="0.35"/><ellipse rx="10.5" ry="6.4" fill="none" stroke="#666" stroke-width="0.5" stroke-opacity="0.45"/><ellipse rx="8.96" ry="5.46" fill="none" stroke="#666" stroke-width="0.5" stroke-opacity="0.5"/><ellipse rx="7.42" ry="4.52" fill="none" stroke="#666" stroke-width="0.5" stroke-opacity="0.45"/><ellipse rx="5.76" ry="3.51" fill="none" stroke="#666" stroke-width="0.5" stroke-opacity="0.4"/><ellipse rx="4.1" ry="2.5" fill="none" stroke="#666" stroke-width="0.5" stroke-opacity="0.35"/><ellipse rx="2.56" ry="1.56" fill="none" stroke="#666" stroke-width="0.5" stroke-opacity="0.3"/></g>
<rect x="272.9" y="91.1" width="34.9" height="26.2" fill="none" stroke="#2233ee" stroke-width="1.2"/>
<text x="290.8" y="87.2" font-size="10.2" text-anchor="middle" font-weight="normal" fill="#000" >49,7</text>
<text x="356.2" y="8.8" font-size="13" text-anchor="start" font-weight="bold" fill="#000" >b</text>
<path d="M502.1 66.9h0M503.0 66.8h0M491.6 65.7h0M490.3 89.1h0M486.7 64.7h0M498.3 94.5h0M504.7 83.0h0M509.8 76.9h0M512.9 79.0h0M503.9 69.0h0M486.2 65.9h0M492.9 80.3h0M503.1 55.8h0M490.1 67.9h0M506.3 89.3h0M495.7 64.4h0M486.7 81.1h0M489.7 62.8h0M502.1 72.8h0M509.4 80.0h0M509.4 67.1h0M502.1 88.3h0M502.3 79.4h0M495.8 80.3h0M501.6 56.7h0M494.5 86.9h0M512.7 81.6h0M497.6 59.6h0M489.1 60.8h0M497.7 64.3h0M498.1 62.1h0M501.0 72.5h0M491.3 92.8h0M504.5 58.3h0M488.4 78.8h0M489.7 75.3h0M512.7 80.0h0M505.9 63.7h0M494.0 67.7h0M490.4 83.7h0M505.9 80.1h0M497.5 91.3h0M491.7 86.3h0M490.1 60.6h0M500.1 65.2h0M487.2 90.9h0M495.9 83.6h0M511.0 80.8h0M505.6 61.4h0M500.3 91.7h0M499.1 69.8h0M495.3 62.1h0M491.4 88.5h0M498.9 83.5h0M504.7 84.8h0M500.2 85.4h0M499.9 56.1h0M505.0 72.3h0M491.8 61.1h0M497.9 92.2h0M498.5 69.7h0M486.8 60.2h0M504.2 57.4h0M485.9 70.9h0M494.4 55.2h0M500.0 82.1h0M499.8 81.3h0M500.6 76.7h0M502.1 67.6h0M482.9 72.9h0M501.9 80.8h0M509.0 62.6h0M486.4 75.8h0M502.7 87.9h0M506.5 79.9h0M509.3 84.1h0M489.3 69.3h0M490.0 86.8h0M502.3 63.5h0M500.0 54.3h0M491.2 70.8h0M495.6 78.3h0M498.1 55.0h0M500.0 66.7h0M491.1 75.7h0M491.8 56.7h0M502.3 58.3h0M491.9 82.5h0M488.0 69.6h0M500.2 89.2h0M491.0 78.1h0M496.5 87.2h0M502.6 81.6h0M500.2 65.4h0M494.1 68.7h0M488.8 59.0h0M508.8 62.3h0M504.2 50.2h0M487.5 84.3h0M496.6 83.4h0M487.6 71.5h0M507.4 60.2h0M508.1 70.2h0M513.1 68.9h0M491.9 80.2h0M493.1 71.0h0M504.7 84.1h0M488.8 79.3h0M499.5 59.6h0M504.3 90.7h0M503.5 83.6h0M492.5 87.7h0M501.5 86.7h0M500.5 81.7h0M506.6 82.8h0M486.1 89.7h0M505.5 91.1h0M509.4 64.8h0M508.3 76.4h0M510.0 77.7h0M497.8 75.3h0M508.0 58.4h0M499.3 71.6h0M497.4 81.0h0M507.5 79.4h0M497.6 68.2h0M496.4 96.5h0M508.7 64.5h0M486.9 85.8h0M492.3 75.5h0M501.2 85.4h0M502.7 55.5h0M505.0 68.0h0M503.1 60.2h0M498.7 62.3h0M493.3 80.0h0M505.3 80.0h0M507.1 76.4h0M489.3 71.1h0M501.8 56.7h0M500.8 82.4h0M492.1 81.6h0M488.7 81.3h0M492.2 60.7h0M505.2 79.8h0M501.1 75.9h0M502.8 88.9h0M483.8 69.2h0M482.8 85.0h0M511.3 70.1h0M487.6 72.1h0M505.2 65.2h0M500.6 84.1h0M507.8 76.3h0M505.9 57.4h0M489.2 78.4h0M506.6 83.7h0M486.9 66.4h0M489.4 68.3h0M496.4 92.4h0M499.7 71.9h0M501.7 63.6h0M485.5 79.6h0M498.9 92.0h0M494.5 91.4h0M502.7 69.2h0M495.3 76.9h0M488.7 66.2h0M503.1 86.6h0M489.1 65.4h0M510.6 71.7h0M502.6 68.8h0M487.9 86.0h0M497.3 96.1h0M485.1 63.9h0M483.2 65.1h0M498.3 62.4h0M507.9 82.8h0M494.6 54.4h0M511.3 72.9h0M505.0 94.8h0M486.3 84.2h0M491.2 75.1h0M502.1 67.8h0M505.0 87.4h0M512.7 77.1h0M493.8 85.0h0M505.2 63.6h0M498.6 93.9h0M500.1 80.1h0M496.5 64.6h0M506.3 77.2h0M495.7 65.2h0M489.9 76.7h0M486.0 81.7h0M503.8 54.6h0M489.8 85.2h0M485.7 75.8h0M496.5 90.7h0M501.2 64.2h0M501.7 57.3h0M498.3 62.3h0M502.0 76.3h0M486.6 80.7h0M483.9 74.9h0M486.4 72.8h0M506.5 71.8h0M502.9 87.5h0M491.7 63.9h0M498.3 55.3h0M490.6 83.1h0M497.5 81.4h0M506.4 80.1h0M497.5 56.3h0M492.4 89.5h0M498.9 103.7h0M494.0 105.3h0M493.1 97.6h0M505.2 103.1h0M503.6 101.3h0M494.6 98.4h0M503.6 98.9h0M499.7 94.5h0M494.7 101.0h0M499.8 103.0h0M503.7 93.3h0M500.7 98.5h0M488.6 95.4h0M487.1 97.5h0M499.9 102.5h0M508.7 95.8h0M499.1 101.4h0M492.2 100.1h0M497.3 97.7h0M506.3 97.0h0M502.6 106.0h0M507.2 95.7h0M502.3 95.2h0M501.3 101.0h0M495.5 100.4h0M508.2 96.4h0M497.3 97.5h0M498.9 103.4h0M512.4 98.8h0M496.3 98.7h0M494.1 100.1h0M506.6 101.3h0M503.2 101.2h0M487.2 100.6h0M487.2 98.1h0M505.4 93.2h0M504.6 100.8h0M489.3 96.0h0M499.6 103.8h0M503.7 95.8h0M485.1 114.4h0M487.5 115.3h0M473.1 107.8h0M476.1 96.6h0M476.5 111.2h0M469.9 104.0h0M474.6 105.7h0M474.2 93.5h0" stroke="#00BE67" stroke-width="2.3" stroke-linecap="round" fill="none"/>
<path d="M521.6 72.9h0M514.2 77.0h0M515.3 67.8h0M514.6 86.8h0M525.4 64.5h0M517.1 78.2h0M513.6 73.1h0M519.8 76.3h0M510.4 81.7h0M521.2 77.9h0M520.1 95.0h0M521.9 68.0h0M521.4 58.1h0M518.1 98.5h0M525.9 88.6h0M518.7 63.9h0M518.3 66.7h0M528.9 84.1h0M515.3 68.9h0M522.4 65.4h0M517.6 87.4h0M529.5 86.5h0M518.0 86.1h0M515.2 88.8h0M515.2 89.3h0M514.2 98.0h0M512.5 91.1h0M522.1 89.9h0M525.0 90.3h0M528.0 72.0h0M528.6 95.3h0M514.7 102.8h0M524.3 92.3h0M519.7 108.9h0M513.1 83.4h0M515.6 87.7h0M517.6 81.2h0M520.1 83.4h0M515.0 72.7h0M530.5 84.6h0M513.8 77.7h0M525.6 92.4h0M519.0 68.6h0M528.3 87.6h0M522.8 85.5h0M520.9 93.4h0M515.5 74.3h0M516.1 100.0h0M529.4 67.1h0M525.8 66.9h0M517.7 72.8h0M526.1 77.5h0M525.2 95.3h0M515.3 100.4h0M523.0 100.7h0M531.5 67.0h0M524.8 90.2h0M515.4 87.7h0M528.1 90.2h0M524.8 77.9h0M513.2 68.7h0M524.1 101.8h0M526.5 71.6h0M522.7 75.0h0M516.8 63.2h0M520.0 79.0h0M520.2 81.0h0M520.3 78.3h0M527.7 90.6h0M516.3 94.7h0M521.3 100.4h0M522.2 68.3h0M517.9 72.5h0M524.0 64.5h0M524.1 95.2h0M531.5 76.0h0M514.0 73.2h0M529.6 92.6h0M519.3 67.0h0M520.7 82.5h0M516.2 87.5h0M516.7 90.7h0M530.6 77.7h0M511.4 81.5h0M517.1 64.4h0M529.6 80.5h0M527.3 71.0h0M520.3 98.0h0M517.9 65.4h0M519.5 80.7h0M524.3 104.5h0M524.5 64.1h0M528.6 75.0h0M512.7 74.3h0M520.6 68.7h0M528.6 63.7h0M523.3 102.9h0M526.3 86.4h0M521.2 88.4h0M521.5 70.1h0M525.3 68.6h0M524.0 88.2h0M516.0 81.2h0M517.0 94.7h0M524.5 101.7h0M524.4 97.3h0M517.4 84.0h0M518.0 77.3h0M520.4 66.8h0M527.0 58.0h0M521.0 88.5h0M518.8 81.6h0M516.9 73.1h0M524.9 77.9h0M525.4 66.7h0M527.0 67.3h0M513.9 71.8h0M519.1 86.8h0M522.4 102.3h0M514.4 91.0h0M529.1 81.9h0M522.1 63.9h0M521.8 96.9h0M513.1 76.1h0M521.3 85.6h0M520.7 99.4h0M525.8 89.9h0M521.4 63.8h0M514.0 94.1h0M520.7 101.3h0M519.2 91.7h0M524.7 88.3h0M519.4 59.8h0M513.3 88.3h0M527.2 78.9h0M525.3 76.3h0M522.7 67.2h0M518.0 85.8h0M513.4 89.2h0M526.1 78.9h0M517.9 51.3h0M510.7 51.4h0M515.3 54.8h0M516.4 52.9h0M512.1 48.3h0M520.7 51.6h0M518.1 53.2h0M513.5 53.3h0M517.6 53.5h0M515.0 57.1h0M518.4 55.7h0M510.4 57.7h0M516.3 55.5h0M519.5 52.1h0M517.1 56.7h0M517.4 52.6h0M511.7 49.5h0M514.1 53.6h0M517.7 51.7h0M514.4 50.4h0M512.0 52.5h0M515.8 54.7h0M512.4 51.1h0M511.7 54.1h0M517.1 60.0h0M514.2 56.3h0M518.8 50.9h0M511.9 56.3h0M473.1 112.5h0M474.3 108.2h0M472.4 108.0h0M484.3 115.8h0M483.5 116.1h0M473.9 111.1h0M476.7 112.5h0M471.9 110.1h0M476.4 112.8h0M474.2 112.5h0M481.2 112.6h0M486.3 118.3h0M486.1 116.5h0M472.4 111.2h0M468.9 104.9h0M471.8 109.2h0M469.5 105.4h0M481.1 115.4h0M479.2 115.3h0M476.6 110.3h0M475.0 104.9h0M461.9 94.0h0M470.9 91.5h0M480.2 104.8h0M480.0 107.2h0M483.0 78.0h0M473.2 95.5h0M474.4 103.9h0M458.9 106.3h0M482.9 87.3h0M510.7 93.7h0M505.9 94.1h0M505.1 99.3h0M509.6 97.2h0M501.3 94.9h0M504.9 92.5h0M506.8 94.4h0M505.6 96.4h0M510.1 92.4h0M503.6 99.9h0M505.1 92.8h0M503.3 90.4h0M499.9 92.1h0M504.6 101.7h0M510.4 95.0h0" stroke="#7CAE00" stroke-width="2.3" stroke-linecap="round" fill="none"/>
<path d="M413.0 55.7h0M416.8 45.5h0M404.0 45.7h0M407.9 35.7h0M403.2 48.4h0M400.0 45.3h0M417.4 45.1h0M400.8 45.0h0M414.4 41.4h0M412.0 38.5h0M408.2 36.7h0M414.8 50.5h0M415.2 37.6h0M413.2 37.0h0M412.3 51.8h0M402.6 34.9h0M415.3 45.3h0M414.6 51.0h0M404.2 58.3h0M415.2 57.0h0M409.3 34.4h0M410.3 40.1h0M404.2 53.4h0M406.8 50.2h0M415.3 51.4h0M412.9 47.3h0M407.1 33.9h0M405.5 40.9h0M415.1 47.2h0M397.8 46.1h0M401.6 51.1h0M414.4 33.8h0M407.8 37.0h0M405.2 40.4h0M401.3 40.7h0M416.0 41.1h0M415.8 43.4h0M407.4 47.4h0M409.2 49.4h0M411.0 35.0h0M417.1 48.8h0M402.3 54.2h0M414.5 47.7h0M407.8 47.2h0M413.7 47.2h0M406.7 55.5h0M411.1 33.1h0M410.7 42.5h0M410.3 37.6h0M402.2 40.5h0M407.0 42.0h0M402.7 54.0h0M413.1 54.2h0M404.7 46.5h0M408.7 41.2h0M417.2 48.8h0M418.6 45.9h0M409.8 35.2h0M406.5 54.2h0M405.7 30.5h0M408.3 36.3h0M410.9 43.0h0M403.3 49.5h0M405.8 49.3h0M411.5 35.0h0M409.8 30.9h0M405.9 38.4h0M410.8 38.1h0M407.5 41.8h0M417.1 41.2h0M407.5 47.3h0M408.1 29.2h0M418.3 40.1h0M404.6 54.0h0M402.3 36.7h0M406.2 48.3h0M405.0 45.4h0M419.1 51.1h0M414.6 45.1h0M409.5 30.7h0M404.2 46.1h0M405.2 39.4h0M408.4 33.6h0M404.6 47.4h0M402.4 53.6h0M413.4 54.8h0M410.6 36.5h0M412.0 37.1h0M408.7 41.7h0M413.7 37.8h0M407.5 41.7h0M406.9 36.5h0M412.2 55.8h0M409.8 33.8h0M405.5 52.0h0M402.3 47.8h0M405.2 54.9h0M403.7 41.0h0M403.8 33.6h0M404.2 40.9h0M407.4 48.5h0M409.9 50.8h0M413.8 34.6h0M407.3 50.5h0M400.5 48.8h0M416.8 51.0h0M406.6 53.4h0M412.8 47.3h0M404.7 52.6h0M407.1 34.8h0M407.2 54.1h0M409.5 66.6h0M416.1 67.3h0M401.9 58.4h0M401.8 62.4h0M404.4 64.7h0M414.6 68.8h0M415.1 60.8h0M413.7 67.6h0M417.1 61.8h0M405.7 70.8h0M408.6 65.3h0M412.7 62.0h0M418.5 61.0h0M407.2 58.1h0M414.2 61.9h0M411.0 67.7h0M410.9 60.9h0M404.5 59.3h0M407.5 68.4h0M401.4 58.2h0M410.0 64.4h0M410.4 58.1h0M407.2 61.4h0M415.1 68.5h0M410.1 69.6h0M406.7 72.0h0M403.9 64.4h0M409.3 66.9h0M406.4 71.9h0M401.6 61.0h0M411.5 67.0h0M409.0 57.6h0M405.9 64.5h0M404.6 66.4h0M404.3 61.1h0M413.0 69.8h0M410.9 61.8h0M411.5 65.9h0M404.1 62.0h0M399.4 78.4h0M396.5 79.0h0M394.9 80.1h0M402.5 70.7h0M394.1 83.7h0M400.7 75.6h0M403.8 72.1h0M402.4 71.0h0M400.4 76.1h0M396.4 81.4h0M403.9 71.7h0M403.4 73.7h0M396.1 80.2h0M394.8 81.5h0M402.6 72.9h0M394.4 86.5h0M392.7 85.6h0M392.8 86.1h0M393.2 86.0h0M393.6 85.8h0M393.1 85.8h0M427.0 61.9h0M430.3 63.7h0M429.6 62.1h0M427.1 61.4h0M430.6 64.2h0M432.4 63.2h0" stroke="#00BFC4" stroke-width="2.3" stroke-linecap="round" fill="none"/>
<path d="M443.8 70.9h0M444.8 75.1h0M448.1 67.1h0M434.3 64.7h0M443.2 61.4h0M446.4 74.6h0M437.3 64.8h0M441.6 68.9h0M428.2 68.1h0M434.4 68.9h0M447.8 63.8h0M439.4 69.3h0M441.8 63.4h0M439.5 71.4h0M432.6 63.3h0M445.6 65.2h0M443.1 71.0h0M433.9 69.9h0M450.6 66.7h0M443.8 65.9h0M456.2 60.7h0M432.1 63.3h0M433.5 72.2h0M449.8 72.3h0M448.9 63.4h0M450.7 71.3h0M454.6 64.5h0M454.4 64.3h0M456.6 64.9h0M444.4 61.6h0M436.6 62.4h0M431.1 72.4h0M448.6 61.4h0M434.9 65.1h0M433.1 67.0h0M445.0 69.0h0M448.6 70.5h0M436.3 61.0h0M446.2 69.8h0M438.5 60.6h0M435.3 69.0h0M446.2 69.5h0M434.1 65.6h0M444.9 62.1h0M452.5 67.0h0M442.5 71.7h0M433.7 71.1h0M430.7 68.0h0M430.6 67.9h0M442.7 69.5h0M441.5 68.2h0M451.9 70.6h0M436.7 65.9h0M454.0 67.2h0M453.2 73.1h0M440.4 61.9h0M430.7 66.3h0M436.2 73.5h0M447.1 83.5h0M439.2 84.8h0M444.8 82.0h0M431.3 81.6h0M437.6 86.2h0M443.1 84.7h0M444.4 85.9h0M442.7 81.5h0M447.7 91.3h0M439.4 89.5h0M437.9 86.8h0M443.7 85.0h0M443.3 92.1h0M441.8 89.8h0M433.6 87.3h0M445.0 88.6h0M436.6 80.1h0M434.6 84.9h0M438.0 75.8h0M443.1 91.0h0M441.1 88.4h0M433.7 85.6h0M433.1 89.4h0M437.0 91.3h0M444.9 88.5h0M438.4 83.6h0M435.4 89.4h0M439.9 84.5h0M447.9 106.7h0M444.2 99.9h0M446.2 95.2h0M437.0 99.3h0M445.1 100.5h0M446.2 106.6h0M441.2 101.2h0M436.5 105.0h0M440.4 97.9h0M442.5 95.6h0M446.9 100.0h0M447.3 100.4h0M440.3 101.9h0M447.0 99.2h0M434.8 105.4h0M440.8 98.1h0M437.1 101.4h0M446.4 96.9h0M444.5 106.1h0M441.9 97.7h0M444.1 98.9h0M441.4 100.9h0M446.8 110.2h0M438.1 98.1h0M457.3 96.7h0M459.7 86.5h0M453.4 84.5h0M459.3 79.9h0M454.1 79.7h0M455.8 94.6h0M454.0 69.7h0M459.5 66.7h0M457.3 89.5h0M454.2 74.8h0M426.6 74.9h0M426.4 78.7h0M425.5 76.5h0M428.0 82.9h0M429.9 74.3h0M431.1 90.9h0M427.3 86.7h0M422.0 38.8h0M422.8 37.9h0M422.7 39.2h0" stroke="#CD9600" stroke-width="2.3" stroke-linecap="round" fill="none"/>
<path d="M429.1 86.4h0M421.7 80.9h0M418.3 89.7h0M417.1 82.3h0M426.0 72.4h0M419.0 93.9h0M417.0 75.2h0M426.4 93.1h0M417.1 85.5h0M431.4 76.8h0M424.9 71.9h0M418.3 91.4h0M424.5 88.7h0M421.4 78.6h0M415.9 83.7h0M427.9 81.9h0M423.6 89.4h0M431.0 78.9h0M426.5 91.6h0M426.1 80.4h0M429.7 77.1h0M427.5 87.1h0M417.6 85.3h0M422.6 69.0h0M419.4 86.3h0M435.4 90.6h0M426.5 74.0h0M416.8 82.9h0M427.9 87.7h0M429.6 83.5h0M415.7 80.6h0M423.4 90.9h0M427.5 77.2h0M430.2 89.6h0M433.3 82.9h0M427.6 80.7h0M419.4 85.9h0M430.8 74.6h0M417.6 77.9h0M428.7 78.9h0M432.2 79.1h0M430.4 85.1h0M428.6 113.3h0M416.0 109.2h0M419.1 104.9h0M425.2 95.9h0M422.4 116.3h0M414.2 111.1h0M420.2 106.5h0M418.6 97.2h0M425.4 110.7h0M421.4 107.7h0M425.4 115.2h0M425.4 98.0h0M424.5 101.1h0M418.5 104.4h0M413.8 104.8h0M417.5 117.4h0M415.3 117.4h0M424.9 104.5h0M417.0 97.0h0M413.1 111.7h0M417.8 115.7h0M429.3 107.9h0M422.6 107.1h0M424.1 105.5h0M425.0 104.7h0M416.5 119.1h0M424.1 98.7h0M418.4 96.4h0M427.5 101.1h0M420.4 94.4h0M422.1 105.1h0M423.6 94.2h0M414.9 102.3h0M419.7 101.0h0M426.4 113.4h0M416.6 115.6h0M421.5 105.9h0M427.5 116.1h0M418.6 116.6h0M416.8 100.3h0M413.9 112.6h0M426.6 113.3h0M423.8 117.5h0M418.4 99.9h0M420.3 107.9h0M419.0 105.9h0M427.3 100.7h0M424.1 105.9h0M419.7 117.5h0M423.4 104.6h0M414.2 106.5h0M419.1 103.7h0M427.8 117.4h0M415.3 115.9h0M428.7 103.6h0M424.4 123.2h0M432.9 130.6h0M431.5 129.9h0M428.2 125.8h0M427.3 125.8h0M428.2 128.1h0M427.0 126.7h0M425.9 125.3h0M419.8 80.9h0M421.8 83.6h0M421.1 88.2h0M424.1 102.5h0M431.2 104.8h0M431.0 104.8h0" stroke="#00A9FF" stroke-width="2.3" stroke-linecap="round" fill="none"/>
<path d="M540.3 80.5h0M542.4 100.0h0M538.5 91.1h0M541.9 84.1h0M538.1 92.1h0M543.6 96.5h0M541.0 81.6h0M542.0 80.5h0M537.0 96.5h0M541.7 89.1h0M539.4 95.6h0M547.9 92.4h0M536.5 95.7h0M544.3 96.2h0M547.3 84.6h0M543.1 85.1h0M545.3 83.6h0M535.8 96.2h0M543.8 80.7h0M540.2 80.0h0M543.9 94.5h0M536.4 94.2h0M543.7 100.2h0M538.6 85.7h0M545.5 93.0h0M544.7 95.4h0M546.1 83.9h0M539.8 81.8h0M537.7 89.3h0M537.9 87.2h0M545.9 85.4h0M539.4 91.1h0M545.4 86.2h0M542.7 86.9h0M539.1 79.3h0M541.1 77.5h0M539.7 87.5h0M541.8 93.4h0M542.6 81.2h0M544.8 97.2h0M535.4 80.5h0M537.6 90.7h0M536.9 86.5h0M547.8 86.1h0M538.1 90.1h0M540.0 79.9h0M543.5 89.4h0M537.1 98.5h0M545.1 95.5h0M539.6 95.7h0M539.0 81.1h0M536.3 92.4h0M543.8 85.2h0M538.8 82.1h0M535.4 90.4h0M540.2 85.0h0M542.4 86.3h0M546.7 81.3h0M543.1 98.9h0M539.5 80.6h0M534.0 89.8h0M544.9 93.0h0M533.3 99.6h0M534.1 84.6h0M542.0 78.8h0M543.3 88.1h0M537.3 86.6h0" stroke="#FF61CC" stroke-width="2.3" stroke-linecap="round" fill="none"/>
<path d="M498.3 119.3h0M515.9 107.5h0M516.2 109.6h0M518.7 120.2h0M508.9 116.7h0M508.6 112.7h0M524.1 115.6h0M507.7 119.2h0M514.3 109.0h0M503.4 113.2h0M511.9 119.9h0M518.4 117.7h0M507.7 119.6h0M502.3 112.1h0M507.3 120.4h0M512.2 115.1h0M507.6 107.0h0M508.6 115.5h0M510.3 121.4h0M526.6 118.7h0M524.5 117.9h0M517.9 122.4h0M520.7 116.2h0M519.6 105.3h0M520.6 119.7h0M513.0 115.5h0M503.7 113.9h0M519.2 110.7h0M519.0 108.3h0M506.3 111.2h0M519.4 115.2h0M506.8 116.0h0M513.4 121.6h0M510.5 114.1h0M515.0 118.7h0M508.0 117.6h0M505.1 112.6h0M525.8 111.4h0M510.4 115.3h0M521.9 116.5h0M524.3 118.2h0M515.8 109.5h0M495.0 112.6h0M508.1 107.7h0M502.7 114.5h0M528.8 111.3h0M517.3 105.5h0M520.4 122.7h0M507.2 114.0h0M517.6 115.5h0M502.7 120.7h0M512.8 112.8h0M501.8 107.4h0M525.3 107.7h0M524.1 116.3h0M499.7 108.8h0M512.6 110.7h0M511.5 120.2h0M525.5 115.7h0M528.9 118.8h0M508.0 117.9h0M506.2 109.0h0M516.1 119.9h0M509.9 114.9h0M518.4 122.7h0M529.8 110.9h0M507.7 107.5h0M506.3 117.7h0M510.9 115.6h0M506.4 108.3h0M513.4 121.0h0M512.4 115.1h0M510.4 120.2h0M522.5 105.4h0M509.9 106.9h0M516.0 110.8h0M516.5 114.5h0M508.6 113.9h0M510.2 104.5h0M509.1 117.7h0M504.3 111.1h0M519.2 107.2h0M511.5 106.0h0M509.2 119.4h0M519.8 107.5h0M519.5 112.6h0M524.9 113.8h0M502.4 107.9h0M512.0 113.0h0M523.0 109.1h0M521.0 114.4h0M518.7 105.6h0M528.7 116.2h0M525.4 113.6h0M507.8 115.2h0M518.5 119.8h0M515.0 114.7h0M516.8 117.0h0M505.6 113.9h0M517.9 106.5h0M522.4 135.1h0M517.8 128.1h0M508.7 122.5h0M502.6 127.4h0M506.3 127.4h0M504.1 130.4h0M523.3 127.4h0M518.7 136.9h0M523.9 129.7h0M515.8 121.2h0M524.1 132.0h0M521.4 129.5h0M505.7 126.8h0M510.3 120.3h0M520.4 134.7h0M507.6 122.5h0M515.3 135.6h0M507.2 138.6h0M515.7 135.8h0M499.2 125.7h0M509.8 131.7h0M518.7 125.3h0M502.1 128.1h0M506.1 125.2h0M513.1 139.1h0M516.0 127.7h0M502.9 135.8h0M516.3 137.3h0M503.7 136.5h0M502.4 128.7h0M516.9 128.9h0M506.4 131.8h0M517.8 140.2h0M510.3 121.8h0M512.0 135.1h0M520.0 129.1h0M505.4 123.5h0M508.6 121.8h0M508.4 134.4h0M512.2 126.8h0M518.1 137.9h0M514.9 126.9h0M517.4 137.3h0M508.9 130.9h0M514.4 134.7h0M514.6 138.6h0M507.7 128.5h0M508.1 138.6h0M509.9 121.7h0M514.7 136.3h0M513.4 138.6h0M517.7 135.9h0M517.7 130.9h0M508.5 133.6h0M514.4 124.8h0M514.1 128.5h0M514.3 137.7h0M516.8 124.0h0M507.7 130.3h0M518.1 136.8h0M511.2 141.9h0M512.5 137.2h0M513.0 140.6h0M510.6 124.2h0M515.5 124.2h0M504.1 137.5h0M520.8 132.8h0M500.3 128.5h0M503.2 137.9h0M504.4 140.5h0M501.9 129.5h0M497.9 133.7h0M519.9 132.9h0M502.0 128.5h0M512.6 123.9h0M503.9 125.0h0M505.4 127.7h0M511.9 136.4h0M511.3 129.5h0M506.3 133.2h0M513.5 134.8h0M508.7 124.1h0M511.7 131.3h0M507.9 126.8h0M511.1 140.7h0M504.5 139.2h0M516.3 135.1h0M502.9 128.3h0M514.4 128.7h0M513.9 134.2h0M511.3 133.3h0M519.0 129.3h0M507.2 123.3h0M518.7 131.7h0M502.7 123.8h0M521.7 135.0h0M502.5 133.7h0M515.3 125.1h0M509.2 126.5h0M519.7 138.0h0M520.3 135.0h0M518.3 126.6h0M521.1 132.3h0M509.7 127.7h0M513.1 140.4h0M505.9 137.6h0M517.9 133.7h0M523.5 129.7h0M522.1 127.3h0M519.1 134.5h0M509.6 159.0h0M507.2 143.5h0M502.1 153.6h0M511.0 142.0h0M507.4 148.0h0M514.6 146.5h0M510.6 153.0h0M501.4 151.1h0M509.5 150.8h0M510.0 153.8h0M513.1 148.6h0M512.6 153.8h0M513.1 155.4h0M512.5 147.0h0M516.3 152.7h0M509.5 150.9h0M507.0 151.1h0M506.5 159.4h0M504.5 151.7h0M508.6 149.4h0M506.8 149.5h0M511.2 149.1h0M503.8 152.5h0M511.5 154.3h0M505.8 155.3h0M510.2 140.4h0M510.6 141.1h0M510.6 139.7h0M507.7 158.0h0M511.0 139.3h0M513.3 147.7h0M514.2 150.0h0M507.4 142.9h0M500.9 149.4h0M502.8 152.5h0M510.0 157.3h0M513.5 144.4h0M501.5 150.4h0M506.9 157.1h0M505.8 147.8h0M512.3 146.9h0M501.7 150.2h0M509.7 155.0h0M502.4 143.2h0M504.5 142.1h0M513.4 155.8h0M513.0 153.8h0M511.2 153.4h0M512.6 143.0h0M500.7 151.6h0M510.9 141.7h0M504.0 152.2h0M514.6 146.5h0M510.8 152.9h0M502.5 151.8h0M516.2 142.4h0M499.1 150.9h0M507.2 154.5h0M502.8 149.0h0M510.1 154.9h0M503.0 141.8h0M509.6 151.2h0M505.9 141.7h0M515.6 143.8h0M511.4 150.5h0M500.8 152.1h0M509.5 141.5h0M514.8 146.4h0M516.4 145.8h0M514.6 146.6h0M520.3 103.4h0M520.9 85.1h0M510.2 85.7h0M507.9 84.8h0M518.4 100.0h0M529.6 98.8h0M500.8 81.1h0M526.4 92.0h0M519.4 89.5h0M513.3 90.5h0M504.3 102.0h0M515.9 99.6h0M523.5 88.2h0M489.3 90.8h0M515.7 89.1h0M505.9 87.4h0M520.7 84.9h0M510.9 95.2h0M529.9 96.3h0M514.9 92.5h0M514.3 83.9h0M520.8 102.8h0M528.8 83.0h0M519.2 79.5h0M528.6 78.7h0M483.2 120.2h0M481.5 121.4h0M482.7 114.5h0M482.5 111.6h0M483.8 122.9h0" stroke="#F8766D" stroke-width="2.3" stroke-linecap="round" fill="none"/>
<path d="M498.2 123.8h0M494.7 126.3h0M496.4 128.6h0M490.8 124.7h0M491.2 128.7h0M493.6 115.8h0M484.7 116.6h0M498.8 122.5h0M488.5 135.8h0M488.4 120.2h0M495.8 133.3h0M485.9 115.6h0M493.5 120.2h0M481.7 124.5h0M495.5 122.7h0M484.6 119.4h0M499.5 123.1h0M497.6 127.0h0M493.3 139.7h0M488.9 127.3h0M498.6 134.2h0M489.2 116.7h0M499.5 115.1h0M497.0 125.4h0M488.5 134.7h0M499.3 135.2h0M484.1 131.7h0M489.5 129.5h0M499.9 123.9h0M493.3 130.5h0M493.0 115.8h0M497.3 119.8h0M488.1 136.5h0M488.9 135.2h0M494.6 111.3h0M495.2 118.3h0M490.5 135.2h0M499.4 134.1h0M494.3 130.5h0M491.2 113.3h0M490.9 125.8h0M497.8 135.1h0M496.5 125.4h0M484.4 123.0h0M497.1 118.2h0M493.0 116.4h0M495.3 124.0h0M488.7 112.4h0M491.9 136.6h0M493.3 140.6h0M486.1 123.3h0M482.8 135.4h0M495.9 131.4h0M491.6 139.1h0M497.1 128.4h0M486.4 140.0h0M488.6 123.5h0M490.1 116.7h0M496.8 128.0h0M488.2 124.8h0M490.6 122.1h0M494.0 140.3h0M499.2 115.8h0M499.8 116.4h0M490.4 116.8h0M494.2 121.2h0M492.1 129.4h0M481.8 129.7h0M490.6 115.7h0M489.0 112.5h0M483.9 120.1h0M485.1 128.7h0M498.2 131.7h0M493.1 114.0h0M491.9 143.7h0M487.1 116.8h0M495.2 116.1h0M493.9 127.4h0M492.0 130.4h0M494.5 120.2h0M489.6 124.2h0M492.9 112.6h0M487.8 122.3h0M487.3 126.8h0M489.9 117.7h0M484.6 115.9h0M486.9 116.3h0M486.4 135.8h0M484.0 125.7h0M489.4 110.9h0M492.9 137.6h0M484.0 117.8h0M485.2 135.4h0M489.0 121.7h0M498.0 134.1h0M501.8 128.3h0M490.4 114.5h0M491.5 130.0h0M493.5 129.6h0M493.0 129.2h0M503.1 107.7h0M492.0 93.4h0M494.4 90.7h0M505.8 93.5h0M504.3 103.5h0M500.6 96.4h0M497.6 106.6h0M491.2 90.0h0M504.4 99.3h0M508.4 104.4h0M489.4 90.9h0M507.9 99.2h0M514.4 100.1h0M489.1 101.9h0M489.8 107.3h0M512.7 103.8h0M511.3 95.3h0M510.1 95.5h0M485.9 154.0h0M486.4 154.2h0" stroke="#C77CFF" stroke-width="2.3" stroke-linecap="round" fill="none"/>
<line x1="384.5" y1="23.9" x2="384.5" y2="166.9" stroke="#000" stroke-width="1.4"/>
<line x1="383.8" y1="166.2" x2="551.8" y2="166.2" stroke="#000" stroke-width="1.4"/>
<line x1="381.6" y1="52.6" x2="384.5" y2="52.6" stroke="#000" stroke-width="1.3"/>
<text x="382.1" y="57.9" font-size="10.3" text-anchor="end" font-weight="normal" fill="#000" >2</text>
<line x1="381.6" y1="94.2" x2="384.5" y2="94.2" stroke="#000" stroke-width="1.3"/>
<text x="382.1" y="99.5" font-size="10.3" text-anchor="end" font-weight="normal" fill="#000" >0</text>
<line x1="381.6" y1="135.8" x2="384.5" y2="135.8" stroke="#000" stroke-width="1.3"/>
<text x="382.1" y="141.1" font-size="10.3" text-anchor="end" font-weight="normal" fill="#000" >-2</text>
<line x1="429.04" y1="166.2" x2="429.04" y2="169.2" stroke="#000" stroke-width="1.3"/>
<text x="429.04" y="177.4" font-size="9.7" text-anchor="middle" font-weight="normal" fill="#000" >-4</text>
<line x1="475.2" y1="166.2" x2="475.2" y2="169.2" stroke="#000" stroke-width="1.3"/>
<text x="475.2" y="177.4" font-size="9.7" text-anchor="middle" font-weight="normal" fill="#000" >0</text>
<line x1="521.36" y1="166.2" x2="521.36" y2="169.2" stroke="#000" stroke-width="1.3"/>
<text x="521.36" y="177.4" font-size="9.7" text-anchor="middle" font-weight="normal" fill="#000" >4</text>
<text x="467.7" y="187.4" font-size="9.5" text-anchor="middle" font-weight="normal" fill="#000" >UMAP_1</text>
<text x="367.5" y="93.6" font-size="9.8" text-anchor="middle" transform="rotate(-90 367.5 93.6)">UMAP_2</text>
<rect x="563.9" y="11.6" width="11.7" height="10.7" fill="#F8766D" stroke="none" stroke-width="1"/>
<text x="578.3" y="20.3" font-size="10" text-anchor="start" font-weight="normal" fill="#000" >1. Activated ILCs</text>
<rect x="563.9" y="26.95" width="11.7" height="10.7" fill="#CD9600" stroke="none" stroke-width="1"/>
<text x="578.3" y="35.65" font-size="10" text-anchor="start" font-weight="normal" fill="#000" >2. CD127+CD94+ pop A</text>
<rect x="563.9" y="42.3" width="11.7" height="10.7" fill="#7CAE00" stroke="none" stroke-width="1"/>
<text x="578.3" y="51" font-size="10" text-anchor="start" font-weight="normal" fill="#000" >3. ILC Naive</text>
<rect x="563.9" y="57.65" width="11.7" height="10.7" fill="#00BE67" stroke="none" stroke-width="1"/>
<text x="578.3" y="66.35" font-size="10" text-anchor="start" font-weight="normal" fill="#000" >4. ILC Naive</text>
<rect x="563.9" y="73" width="11.7" height="10.7" fill="#00BFC4" stroke="none" stroke-width="1"/>
<text x="578.3" y="81.7" font-size="10" text-anchor="start" font-weight="normal" fill="#000" >5. CD127-CD94+ NK</text>
<rect x="563.9" y="88.35" width="11.7" height="10.7" fill="#00A9FF" stroke="none" stroke-width="1"/>
<text x="578.3" y="97.05" font-size="10" text-anchor="start" font-weight="normal" fill="#000" >6. CD127+CD94+ pop B</text>
<rect x="563.9" y="103.7" width="11.7" height="10.7" fill="#C77CFF" stroke="none" stroke-width="1"/>
<text x="578.3" y="112.4" font-size="10" text-anchor="start" font-weight="normal" fill="#000" >7. Activated ILCs</text>
<rect x="563.9" y="119.05" width="11.7" height="10.7" fill="#FF61CC" stroke="none" stroke-width="1"/>
<text x="578.3" y="127.75" font-size="10" text-anchor="start" font-weight="normal" fill="#000" >8. LTi-like cells</text>
<text x="2.4" y="172" font-size="13" text-anchor="start" font-weight="bold" fill="#000" >c</text>
<circle cx="53.2" cy="202.03" r="7.4" fill="#aa89e7"/><circle cx="71.65" cy="202.03" r="2.2" fill="#b093e5"/><circle cx="90.1" cy="202.03" r="7.4" fill="#6139f9"/><circle cx="108.55" cy="202.03" r="3.5" fill="#7248f6"/><circle cx="127" cy="202.03" r="6.2" fill="#b093e5"/><circle cx="145.45" cy="202.03" r="6.2" fill="#8a61f1"/><circle cx="163.9" cy="202.03" r="1.5" fill="#8e65f0"/><circle cx="182.35" cy="202.03" r="6.5" fill="#673df8"/><circle cx="200.8" cy="202.03" r="3.2" fill="#b093e5"/><circle cx="219.25" cy="202.03" r="1.2" fill="#9d77ec"/><circle cx="237.7" cy="202.03" r="1.2" fill="#9d77ec"/><circle cx="256.15" cy="202.03" r="1.2" fill="#9d77ec"/><circle cx="274.6" cy="202.03" r="1.2" fill="#9d77ec"/><circle cx="293.05" cy="202.03" r="1.2" fill="#9d77ec"/><circle cx="311.5" cy="202.03" r="2.2" fill="#b69ce3"/><circle cx="329.95" cy="202.03" r="1" fill="#9d77ec"/><circle cx="348.4" cy="202.03" r="1.2" fill="#9d77ec"/><circle cx="357" cy="202.03" r="1" fill="#9d77ec"/><circle cx="385.3" cy="202.03" r="3.6" fill="#0000ff"/><circle cx="53.2" cy="232.74" r="7.4" fill="#895ff1"/><circle cx="71.65" cy="232.74" r="3.7" fill="#aa89e7"/><circle cx="90.1" cy="232.74" r="6.7" fill="#c6b7db"/><circle cx="108.55" cy="232.74" r="3" fill="#7248f6"/><circle cx="127" cy="232.74" r="7.4" fill="#8257f3"/><circle cx="145.45" cy="232.74" r="6.5" fill="#8257f3"/><circle cx="163.9" cy="232.74" r="1.5" fill="#8e65f0"/><circle cx="182.35" cy="232.74" r="5.8" fill="#9168ef"/><circle cx="200.8" cy="232.74" r="4" fill="#9d77ec"/><circle cx="219.25" cy="232.74" r="1.2" fill="#9d77ec"/><circle cx="237.7" cy="232.74" r="1.2" fill="#9d77ec"/><circle cx="256.15" cy="232.74" r="1.2" fill="#9d77ec"/><circle cx="274.6" cy="232.74" r="1.2" fill="#9d77ec"/><circle cx="293.05" cy="232.74" r="1.2" fill="#9d77ec"/><circle cx="311.5" cy="232.74" r="2.5" fill="#673df8"/><circle cx="329.95" cy="232.74" r="1" fill="#9d77ec"/><circle cx="348.4" cy="232.74" r="1" fill="#9d77ec"/><circle cx="366.85" cy="232.74" r="1" fill="#9d77ec"/><circle cx="385.3" cy="232.74" r="1.5" fill="#9d77ec"/><circle cx="53.2" cy="263.45" r="6.9" fill="#b093e5"/><circle cx="71.65" cy="263.45" r="5.7" fill="#8e65f0"/><circle cx="90.1" cy="263.45" r="7.2" fill="#b093e5"/><circle cx="108.55" cy="263.45" r="1" fill="#b69ce3"/><circle cx="127" cy="263.45" r="6.9" fill="#cec8d6"/><circle cx="145.45" cy="263.45" r="5.2" fill="#b093e5"/><circle cx="163.9" cy="263.45" r="1" fill="#b69ce3"/><circle cx="182.35" cy="263.45" r="2.9" fill="#b093e5"/><circle cx="200.8" cy="263.45" r="3.5" fill="#b093e5"/><circle cx="219.25" cy="263.45" r="3.2" fill="#a480ea"/><circle cx="237.7" cy="263.45" r="1.2" fill="#9d77ec"/><circle cx="256.15" cy="263.45" r="1.5" fill="#a480ea"/><circle cx="274.6" cy="263.45" r="2.1" fill="#966eee"/><circle cx="293.05" cy="263.45" r="2.9" fill="#966eee"/><circle cx="311.5" cy="263.45" r="2.2" fill="#b69ce3"/><circle cx="329.95" cy="263.45" r="1.3" fill="#5932fa"/><circle cx="348.4" cy="263.45" r="1.5" fill="#9d77ec"/><circle cx="366.85" cy="263.45" r="1" fill="#9d77ec"/><circle cx="385.3" cy="263.45" r="0.9" fill="#aa89e7"/><circle cx="53.2" cy="294.16" r="3.1" fill="#d3d3d3"/><circle cx="71.65" cy="294.16" r="7.8" fill="#532efa"/><circle cx="90.1" cy="294.16" r="6.7" fill="#b093e5"/><circle cx="108.55" cy="294.16" r="1.2" fill="#b69ce3"/><circle cx="127" cy="294.16" r="6.8" fill="#a480ea"/><circle cx="145.45" cy="294.16" r="2.1" fill="#b69ce3"/><circle cx="163.9" cy="294.16" r="1" fill="#b69ce3"/><circle cx="182.35" cy="294.16" r="1.5" fill="#b69ce3"/><circle cx="200.8" cy="294.16" r="6" fill="#5932fa"/><circle cx="219.25" cy="294.16" r="5.8" fill="#0000ff"/><circle cx="237.7" cy="294.16" r="2.8" fill="#0000ff"/><circle cx="256.15" cy="294.16" r="5" fill="#0000ff"/><circle cx="274.6" cy="294.16" r="3.6" fill="#0000ff"/><circle cx="293.05" cy="294.16" r="5.4" fill="#0000ff"/><circle cx="311.5" cy="294.16" r="2.5" fill="#b69ce3"/><circle cx="329.95" cy="294.16" r="1.4" fill="#3318fd"/><circle cx="348.4" cy="294.16" r="2.8" fill="#0000ff"/><circle cx="366.85" cy="294.16" r="2.8" fill="#0000ff"/><circle cx="385.3" cy="294.16" r="0.9" fill="#aa89e7"/><circle cx="53.2" cy="324.87" r="7.4" fill="#a480ea"/><circle cx="71.65" cy="324.87" r="2.9" fill="#b093e5"/><circle cx="90.1" cy="324.87" r="7.4" fill="#784ef5"/><circle cx="108.55" cy="324.87" r="2.5" fill="#9d77ec"/><circle cx="127" cy="324.87" r="7.4" fill="#4121fc"/><circle cx="145.45" cy="324.87" r="6.8" fill="#8e65f0"/><circle cx="163.9" cy="324.87" r="1.9" fill="#5932fa"/><circle cx="182.35" cy="324.87" r="6.5" fill="#8e65f0"/><circle cx="200.8" cy="324.87" r="3.5" fill="#b093e5"/><circle cx="219.25" cy="324.87" r="1.2" fill="#9d77ec"/><circle cx="237.7" cy="324.87" r="1.2" fill="#9d77ec"/><circle cx="256.15" cy="324.87" r="1.2" fill="#9d77ec"/><circle cx="274.6" cy="324.87" r="1.2" fill="#9d77ec"/><circle cx="293.05" cy="324.87" r="1.2" fill="#9d77ec"/><circle cx="311.5" cy="324.87" r="2.2" fill="#b093e5"/><circle cx="329.95" cy="324.87" r="1" fill="#9d77ec"/><circle cx="348.4" cy="324.87" r="1" fill="#9d77ec"/><circle cx="366.85" cy="324.87" r="1" fill="#9d77ec"/><circle cx="385.3" cy="324.87" r="1.9" fill="#9d77ec"/><circle cx="53.2" cy="355.58" r="7.4" fill="#532efa"/><circle cx="71.65" cy="355.58" r="3.1" fill="#b093e5"/><circle cx="90.1" cy="355.58" r="7.2" fill="#a480ea"/><circle cx="108.55" cy="355.58" r="3" fill="#855bf2"/><circle cx="127" cy="355.58" r="7.4" fill="#a480ea"/><circle cx="145.45" cy="355.58" r="6.2" fill="#9d77ec"/><circle cx="163.9" cy="355.58" r="1.5" fill="#8e65f0"/><circle cx="182.35" cy="355.58" r="6" fill="#8e65f0"/><circle cx="200.8" cy="355.58" r="4.3" fill="#9d77ec"/><circle cx="219.25" cy="355.58" r="1.2" fill="#9d77ec"/><circle cx="237.7" cy="355.58" r="1.2" fill="#9d77ec"/><circle cx="256.15" cy="355.58" r="1.2" fill="#9d77ec"/><circle cx="274.6" cy="355.58" r="1.2" fill="#9d77ec"/><circle cx="293.05" cy="355.58" r="1.2" fill="#9d77ec"/><circle cx="311.5" cy="355.58" r="2.8" fill="#673df8"/><circle cx="329.95" cy="355.58" r="1" fill="#9d77ec"/><circle cx="348.4" cy="355.58" r="1" fill="#9d77ec"/><circle cx="366.85" cy="355.58" r="1" fill="#9d77ec"/><circle cx="385.3" cy="355.58" r="2" fill="#9d77ec"/><circle cx="53.2" cy="386.29" r="7.4" fill="#b093e5"/><circle cx="71.65" cy="386.29" r="7.4" fill="#4121fc"/><circle cx="90.1" cy="386.29" r="7.2" fill="#a480ea"/><circle cx="108.55" cy="386.29" r="1.2" fill="#b69ce3"/><circle cx="127" cy="386.29" r="7.4" fill="#9d77ec"/><circle cx="145.45" cy="386.29" r="4" fill="#c6b7db"/><circle cx="163.9" cy="386.29" r="1.2" fill="#b69ce3"/><circle cx="182.35" cy="386.29" r="2.9" fill="#bba5e0"/><circle cx="200.8" cy="386.29" r="5.5" fill="#3318fd"/><circle cx="219.25" cy="386.29" r="3.2" fill="#9d77ec"/><circle cx="237.7" cy="386.29" r="1.2" fill="#9d77ec"/><circle cx="256.15" cy="386.29" r="1.5" fill="#966eee"/><circle cx="274.6" cy="386.29" r="1.3" fill="#9d77ec"/><circle cx="293.05" cy="386.29" r="2.2" fill="#966eee"/><circle cx="311.5" cy="386.29" r="2.8" fill="#7248f6"/><circle cx="329.95" cy="386.29" r="1.3" fill="#8e65f0"/><circle cx="348.4" cy="386.29" r="2.2" fill="#7248f6"/><circle cx="366.85" cy="386.29" r="1" fill="#9d77ec"/><circle cx="385.3" cy="386.29" r="1.2" fill="#9d77ec"/><circle cx="53.2" cy="417" r="7.4" fill="#8e65f0"/><circle cx="71.65" cy="417" r="2.9" fill="#aa89e7"/><circle cx="90.1" cy="417" r="7.2" fill="#784ef5"/><circle cx="108.55" cy="417" r="3.5" fill="#7c51f4"/><circle cx="127" cy="417" r="7.4" fill="#a480ea"/><circle cx="145.45" cy="417" r="7.1" fill="#784ef5"/><circle cx="163.9" cy="417" r="2" fill="#673df8"/><circle cx="182.35" cy="417" r="6.5" fill="#8e65f0"/><circle cx="200.8" cy="417" r="3.7" fill="#aa89e7"/><circle cx="219.25" cy="417" r="1.2" fill="#9d77ec"/><circle cx="237.7" cy="417" r="1.2" fill="#9d77ec"/><circle cx="256.15" cy="417" r="1.2" fill="#9d77ec"/><circle cx="274.6" cy="417" r="1.2" fill="#9d77ec"/><circle cx="293.05" cy="417" r="1.2" fill="#9d77ec"/><circle cx="311.5" cy="417" r="2.4" fill="#b093e5"/><circle cx="329.95" cy="417" r="1" fill="#9d77ec"/><circle cx="348.4" cy="417" r="1" fill="#9d77ec"/><circle cx="366.85" cy="417" r="1" fill="#9d77ec"/><circle cx="385.3" cy="417" r="2.5" fill="#8e65f0"/>
<line x1="42.1" y1="182.8" x2="42.1" y2="436.3" stroke="#000" stroke-width="1.4"/>
<line x1="41.4" y1="435.6" x2="385.3" y2="435.6" stroke="#000" stroke-width="1.4"/>
<line x1="38.5" y1="417" x2="42" y2="417" stroke="#000" stroke-width="1.3"/>
<text x="34.6" y="420.6" font-size="10" text-anchor="end" font-weight="normal" fill="#000" >1</text>
<line x1="38.5" y1="386.29" x2="42" y2="386.29" stroke="#000" stroke-width="1.3"/>
<text x="34.6" y="389.89" font-size="10" text-anchor="end" font-weight="normal" fill="#000" >2</text>
<line x1="38.5" y1="355.58" x2="42" y2="355.58" stroke="#000" stroke-width="1.3"/>
<text x="34.6" y="359.18" font-size="10" text-anchor="end" font-weight="normal" fill="#000" >3</text>
<line x1="38.5" y1="324.87" x2="42" y2="324.87" stroke="#000" stroke-width="1.3"/>
<text x="34.6" y="328.47" font-size="10" text-anchor="end" font-weight="normal" fill="#000" >4</text>
<line x1="38.5" y1="294.16" x2="42" y2="294.16" stroke="#000" stroke-width="1.3"/>
<text x="34.6" y="297.76" font-size="10" text-anchor="end" font-weight="normal" fill="#000" >5</text>
<line x1="38.5" y1="263.45" x2="42" y2="263.45" stroke="#000" stroke-width="1.3"/>
<text x="34.6" y="267.05" font-size="10" text-anchor="end" font-weight="normal" fill="#000" >6</text>
<line x1="38.5" y1="232.74" x2="42" y2="232.74" stroke="#000" stroke-width="1.3"/>
<text x="34.6" y="236.34" font-size="10" text-anchor="end" font-weight="normal" fill="#000" >7</text>
<line x1="38.5" y1="202.03" x2="42" y2="202.03" stroke="#000" stroke-width="1.3"/>
<text x="34.6" y="205.63" font-size="10" text-anchor="end" font-weight="normal" fill="#000" >8</text>
<line x1="53.2" y1="435.6" x2="53.2" y2="439" stroke="#000" stroke-width="1.3"/>
<text x="57.1" y="448.9" font-size="9.9" text-anchor="end" transform="rotate(-45 57.1 448.9)">IL7R</text>
<line x1="71.65" y1="435.6" x2="71.65" y2="439" stroke="#000" stroke-width="1.3"/>
<text x="75.55" y="448.9" font-size="9.9" text-anchor="end" transform="rotate(-45 75.55 448.9)">KLRD1</text>
<line x1="90.1" y1="435.6" x2="90.1" y2="439" stroke="#000" stroke-width="1.3"/>
<text x="94" y="448.9" font-size="9.9" text-anchor="end" transform="rotate(-45 94 448.9)">ID2</text>
<line x1="108.55" y1="435.6" x2="108.55" y2="439" stroke="#000" stroke-width="1.3"/>
<text x="112.45" y="448.9" font-size="9.9" text-anchor="end" transform="rotate(-45 112.45 448.9)">RORC</text>
<line x1="127" y1="435.6" x2="127" y2="439" stroke="#000" stroke-width="1.3"/>
<text x="130.9" y="448.9" font-size="9.9" text-anchor="end" transform="rotate(-45 130.9 448.9)">KLRB1</text>
<line x1="145.45" y1="435.6" x2="145.45" y2="439" stroke="#000" stroke-width="1.3"/>
<text x="149.35" y="448.9" font-size="9.9" text-anchor="end" transform="rotate(-45 149.35 448.9)">LTB</text>
<line x1="163.9" y1="435.6" x2="163.9" y2="439" stroke="#000" stroke-width="1.3"/>
<text x="167.8" y="448.9" font-size="9.9" text-anchor="end" transform="rotate(-45 167.8 448.9)">CD300LF</text>
<line x1="182.35" y1="435.6" x2="182.35" y2="439" stroke="#000" stroke-width="1.3"/>
<text x="186.25" y="448.9" font-size="9.9" text-anchor="end" transform="rotate(-45 186.25 448.9)">KIT</text>
<line x1="200.8" y1="435.6" x2="200.8" y2="439" stroke="#000" stroke-width="1.3"/>
<text x="204.7" y="448.9" font-size="9.9" text-anchor="end" transform="rotate(-45 204.7 448.9)">NCAM1</text>
<line x1="219.25" y1="435.6" x2="219.25" y2="439" stroke="#000" stroke-width="1.3"/>
<text x="223.15" y="448.9" font-size="9.9" text-anchor="end" transform="rotate(-45 223.15 448.9)">EOMES</text>
<line x1="237.7" y1="435.6" x2="237.7" y2="439" stroke="#000" stroke-width="1.3"/>
<text x="241.6" y="448.9" font-size="9.9" text-anchor="end" transform="rotate(-45 241.6 448.9)">FCGR3A</text>
<line x1="256.15" y1="435.6" x2="256.15" y2="439" stroke="#000" stroke-width="1.3"/>
<text x="260.05" y="448.9" font-size="9.9" text-anchor="end" transform="rotate(-45 260.05 448.9)">CD160</text>
<line x1="274.6" y1="435.6" x2="274.6" y2="439" stroke="#000" stroke-width="1.3"/>
<text x="278.5" y="448.9" font-size="9.9" text-anchor="end" transform="rotate(-45 278.5 448.9)">SLAMF7</text>
<line x1="293.05" y1="435.6" x2="293.05" y2="439" stroke="#000" stroke-width="1.3"/>
<text x="296.95" y="448.9" font-size="9.9" text-anchor="end" transform="rotate(-45 296.95 448.9)">KLRF1</text>
<line x1="311.5" y1="435.6" x2="311.5" y2="439" stroke="#000" stroke-width="1.3"/>
<text x="315.4" y="448.9" font-size="9.9" text-anchor="end" transform="rotate(-45 315.4 448.9)">TNFSF10</text>
<line x1="329.95" y1="435.6" x2="329.95" y2="439" stroke="#000" stroke-width="1.3"/>
<text x="333.85" y="448.9" font-size="9.9" text-anchor="end" transform="rotate(-45 333.85 448.9)">KIR2DL1</text>
<line x1="348.4" y1="435.6" x2="348.4" y2="439" stroke="#000" stroke-width="1.3"/>
<text x="352.3" y="448.9" font-size="9.9" text-anchor="end" transform="rotate(-45 352.3 448.9)">KIR2DL4</text>
<line x1="366.85" y1="435.6" x2="366.85" y2="439" stroke="#000" stroke-width="1.3"/>
<text x="370.75" y="448.9" font-size="9.9" text-anchor="end" transform="rotate(-45 370.75 448.9)">TIGIT</text>
<line x1="385.3" y1="435.6" x2="385.3" y2="439" stroke="#000" stroke-width="1.3"/>
<text x="389.2" y="448.9" font-size="9.9" text-anchor="end" transform="rotate(-45 389.2 448.9)">NRP1</text>
<text x="22.5" y="317.1" font-size="9.8" text-anchor="middle" transform="rotate(-90 22.5 317.1)">Cluster</text>
<text x="440.6" y="209.2" font-size="9.9" text-anchor="middle" font-weight="normal" fill="#000" >Average</text>
<text x="440.6" y="224.4" font-size="9.9" text-anchor="middle" font-weight="normal" fill="#000" >Expression</text>
<defs><linearGradient id="cb" x1="0" y1="0" x2="0" y2="1"><stop offset="0" stop-color="#0000ff"/><stop offset="0.05" stop-color="#3318fd"/><stop offset="0.1" stop-color="#4926fb"/><stop offset="0.15" stop-color="#5932fa"/><stop offset="0.2" stop-color="#673df8"/><stop offset="0.25" stop-color="#7248f6"/><stop offset="0.3" stop-color="#7c51f4"/><stop offset="0.35" stop-color="#855bf2"/><stop offset="0.4" stop-color="#8e65f0"/><stop offset="0.45" stop-color="#966eee"/><stop offset="0.5" stop-color="#9d77ec"/><stop offset="0.55" stop-color="#a480ea"/><stop offset="0.6" stop-color="#aa89e7"/><stop offset="0.65" stop-color="#b093e5"/><stop offset="0.7" stop-color="#b69ce3"/><stop offset="0.75" stop-color="#bba5e0"/><stop offset="0.8" stop-color="#c1aede"/><stop offset="0.85" stop-color="#c6b7db"/><stop offset="0.9" stop-color="#cac1d9"/><stop offset="0.95" stop-color="#cfcad6"/><stop offset="1" stop-color="#d3d3d3"/></linearGradient></defs>
<rect x="429.9" y="228.7" width="16.6" height="81.3" fill="url(#cb)" stroke="none" stroke-width="1"/>
<line x1="429.9" y1="238" x2="433.2" y2="238" stroke="#fff" stroke-width="0.6"/>
<line x1="443.2" y1="238" x2="446.5" y2="238" stroke="#fff" stroke-width="0.6"/>
<text x="450.4" y="241.4" font-size="9.5" text-anchor="start" font-weight="normal" fill="#000" >2</text>
<line x1="429.9" y1="257" x2="433.2" y2="257" stroke="#fff" stroke-width="0.6"/>
<line x1="443.2" y1="257" x2="446.5" y2="257" stroke="#fff" stroke-width="0.6"/>
<text x="450.4" y="260.4" font-size="9.5" text-anchor="start" font-weight="normal" fill="#000" >1</text>
<line x1="429.9" y1="275.2" x2="433.2" y2="275.2" stroke="#fff" stroke-width="0.6"/>
<line x1="443.2" y1="275.2" x2="446.5" y2="275.2" stroke="#fff" stroke-width="0.6"/>
<text x="450.4" y="278.6" font-size="9.5" text-anchor="start" font-weight="normal" fill="#000" >0</text>
<line x1="429.9" y1="293.5" x2="433.2" y2="293.5" stroke="#fff" stroke-width="0.6"/>
<line x1="443.2" y1="293.5" x2="446.5" y2="293.5" stroke="#fff" stroke-width="0.6"/>
<text x="450.4" y="296.9" font-size="9.5" text-anchor="start" font-weight="normal" fill="#000" >-1</text>
<text x="442.7" y="329.1" font-size="9.9" text-anchor="middle" font-weight="normal" fill="#000" >Percent</text>
<text x="442.6" y="344.2" font-size="9.9" text-anchor="middle" font-weight="normal" fill="#000" >Expressed</text>
<circle cx="438.8" cy="355.3" r="0.75" fill="#000"/>
<text x="449.2" y="359.7" font-size="10" text-anchor="start" font-weight="normal" fill="#000" >0</text>
<circle cx="438.8" cy="370.9" r="2.4" fill="#000"/>
<text x="449.2" y="375.3" font-size="10" text-anchor="start" font-weight="normal" fill="#000" >25</text>
<circle cx="438.8" cy="387.3" r="4.0" fill="#000"/>
<text x="449.2" y="391.7" font-size="10" text-anchor="start" font-weight="normal" fill="#000" >50</text>
<circle cx="438.8" cy="403.3" r="6.0" fill="#000"/>
<text x="449.2" y="407.7" font-size="10" text-anchor="start" font-weight="normal" fill="#000" >75</text>
<circle cx="438.8" cy="421" r="7.9" fill="#000"/>
<text x="449.2" y="425.4" font-size="10" text-anchor="start" font-weight="normal" fill="#000" >100</text>
<text x="2.3" y="508.8" font-size="13" text-anchor="start" font-weight="bold" fill="#000" >d</text>
<path d="M183.6 576.4h0M184.8 576.3h0M169.7 574.9h0M168.0 605.1h0M163.3 573.6h0M178.6 612.1h0M186.9 597.3h0M193.7 589.3h0M197.8 592.0h0M185.9 579.1h0M162.7 575.2h0M171.5 593.7h0M184.9 562.0h0M167.8 577.6h0M189.0 605.3h0M175.1 573.1h0M163.3 594.8h0M167.3 571.1h0M183.6 584.0h0M193.1 593.4h0M193.2 576.7h0M183.6 604.1h0M183.9 592.5h0M175.3 593.7h0M182.9 563.3h0M173.6 602.2h0M197.5 595.5h0M177.6 566.9h0M166.5 568.4h0M177.7 573.0h0M178.3 570.1h0M182.2 583.6h0M169.4 609.9h0M186.8 565.2h0M165.5 591.8h0M167.3 587.2h0M197.5 593.3h0M188.6 572.3h0M172.9 577.4h0M168.1 598.2h0M188.6 593.5h0M177.5 608.0h0M169.9 601.5h0M167.8 568.3h0M181.0 574.2h0M164.0 607.4h0M175.4 598.0h0M195.3 594.3h0M188.2 569.3h0M181.2 608.5h0M179.6 580.2h0M174.6 570.2h0M169.5 604.4h0M179.3 597.9h0M187.1 599.6h0M181.1 600.3h0M180.6 562.4h0M187.3 583.3h0M170.0 568.9h0M178.0 609.1h0M178.9 580.0h0M163.5 567.7h0M186.3 564.1h0M162.3 581.6h0M173.5 561.2h0M180.9 596.0h0M180.5 595.0h0M181.6 589.1h0M183.6 577.3h0M158.3 584.2h0M183.4 594.4h0M192.7 570.8h0M163.0 587.9h0M184.4 603.6h0M189.3 593.2h0M193.0 598.6h0M166.7 579.5h0M167.7 602.2h0M183.9 572.0h0M180.9 560.1h0M169.2 581.4h0M175.1 591.1h0M178.3 561.0h0M180.8 576.1h0M169.1 587.8h0M170.1 563.2h0M183.9 565.2h0M170.1 596.6h0M165.0 579.9h0M181.1 605.2h0M169.0 590.9h0M176.2 602.7h0M184.2 595.4h0M181.1 574.4h0M173.1 578.7h0M166.1 566.2h0M192.4 570.5h0M186.4 554.8h0M164.3 598.9h0M176.3 597.8h0M164.5 582.3h0M190.6 567.7h0M191.5 580.7h0M198.0 579.0h0M170.1 593.6h0M171.8 581.7h0M187.1 598.7h0M166.1 592.5h0M180.2 566.9h0M186.5 607.1h0M185.4 598.0h0M170.9 603.3h0M182.9 601.9h0M181.5 595.6h0M189.5 596.9h0M162.5 605.9h0M188.0 607.7h0M193.2 573.6h0M191.7 588.7h0M194.0 590.3h0M177.9 587.2h0M191.4 565.4h0M179.9 582.5h0M177.4 594.6h0M190.6 592.6h0M177.7 578.0h0M176.1 614.7h0M192.3 573.3h0M163.6 600.8h0M170.7 587.5h0M182.4 600.4h0M184.4 561.7h0M187.4 577.8h0M184.9 567.7h0M179.2 570.5h0M172.0 593.3h0M187.8 593.4h0M190.2 588.7h0M166.7 581.8h0M183.1 563.1h0M181.9 596.5h0M170.4 595.5h0M165.9 595.0h0M170.5 568.4h0M187.7 593.1h0M182.2 588.1h0M184.5 604.9h0M159.5 579.3h0M158.2 599.8h0M195.6 580.6h0M164.5 583.1h0M187.7 574.1h0M181.6 598.6h0M191.1 588.6h0M188.6 564.1h0M166.6 591.3h0M189.5 598.1h0M163.6 575.7h0M166.8 578.3h0M176.1 609.4h0M180.4 582.9h0M183.0 572.2h0M161.8 592.8h0M179.3 608.8h0M173.6 608.1h0M184.4 579.3h0M174.7 589.3h0M166.0 575.4h0M185.0 601.9h0M166.5 574.4h0M194.8 582.7h0M184.3 578.9h0M164.9 601.1h0M177.3 614.1h0M161.2 572.6h0M158.7 574.1h0M178.6 570.6h0M191.2 597.0h0M173.7 560.3h0M195.8 584.1h0M187.5 612.4h0M162.9 598.7h0M169.2 587.0h0M183.5 577.6h0M187.4 602.9h0M197.5 589.6h0M172.7 599.7h0M187.7 572.1h0M178.9 611.3h0M181.0 593.4h0M176.2 573.5h0M189.1 589.8h0M175.2 574.2h0M167.5 589.1h0M162.5 595.6h0M185.8 560.4h0M167.3 600.1h0M162.0 588.0h0M176.3 607.2h0M182.4 572.9h0M183.1 563.9h0M178.5 570.5h0M183.4 588.5h0M163.3 594.3h0M159.6 586.7h0M162.9 584.0h0M189.4 582.8h0M184.6 603.1h0M169.9 572.6h0M178.6 561.4h0M168.4 597.3h0M177.5 595.1h0M189.3 593.5h0M177.5 562.7h0M170.8 605.6h0M179.3 624.0h0M173.0 626.0h0M171.7 616.1h0M187.7 623.2h0M185.6 620.8h0M173.7 617.2h0M185.6 617.8h0M180.4 612.1h0M173.9 620.5h0M180.6 623.0h0M185.7 610.6h0M181.7 617.2h0M165.8 613.2h0M163.9 615.9h0M180.7 622.4h0M192.2 613.7h0M179.6 621.0h0M170.5 619.4h0M177.3 616.3h0M189.1 615.3h0M184.3 627.0h0M190.3 613.7h0M183.8 613.0h0M182.5 620.5h0M174.9 619.7h0M191.6 614.6h0M177.2 615.9h0M179.4 623.6h0M197.1 617.6h0M176.0 617.6h0M173.0 619.3h0M189.6 620.9h0M185.1 620.7h0M164.0 620.0h0M164.0 616.8h0M187.9 610.4h0M186.9 620.2h0M166.7 614.0h0M180.2 624.1h0M185.7 613.7h0M161.3 637.9h0M164.4 639.0h0M145.5 629.4h0M149.3 614.7h0M149.9 633.7h0M141.2 624.4h0M147.5 626.5h0M146.9 610.8h0" stroke="#00BE67" stroke-width="2.6" stroke-linecap="round" fill="none"/>
<path d="M209.3 584.1h0M199.5 589.4h0M201.0 577.5h0M200.0 602.1h0M214.2 573.3h0M203.3 591.0h0M198.7 584.4h0M206.9 588.5h0M194.4 595.5h0M208.7 590.6h0M207.2 612.8h0M209.6 577.9h0M209.0 565.0h0M204.6 617.3h0M214.9 604.5h0M205.4 572.5h0M204.9 576.2h0M218.8 598.6h0M200.9 578.9h0M210.3 574.4h0M204.0 602.9h0M219.7 601.7h0M204.5 601.3h0M200.8 604.7h0M200.8 605.3h0M199.5 616.5h0M197.3 607.7h0M209.8 606.1h0M213.7 606.7h0M217.6 582.9h0M218.5 613.1h0M200.2 622.9h0M212.7 609.2h0M206.7 630.7h0M198.0 597.8h0M201.3 603.3h0M204.0 594.8h0M207.3 597.8h0M200.6 583.9h0M221.0 599.2h0M199.0 590.3h0M214.5 609.4h0M205.8 578.7h0M218.1 603.1h0M210.9 600.5h0M208.3 610.7h0M201.2 585.9h0M202.0 619.2h0M219.4 576.6h0M214.8 576.4h0M204.1 584.0h0M215.1 590.2h0M214.0 613.1h0M200.9 619.7h0M211.1 620.0h0M222.2 576.5h0M213.5 606.5h0M201.1 603.2h0M217.8 606.5h0M213.5 590.6h0M198.2 578.7h0M212.5 621.6h0M215.7 582.4h0M210.6 586.8h0M203.0 571.7h0M207.2 592.1h0M207.4 594.7h0M207.5 591.1h0M217.2 607.0h0M202.3 612.4h0M208.8 619.7h0M210.0 578.3h0M204.4 583.7h0M212.4 573.2h0M212.5 613.0h0M222.3 588.1h0M199.2 584.6h0M219.8 609.6h0M206.2 576.6h0M208.0 596.6h0M202.1 603.0h0M202.8 607.2h0M221.1 590.4h0M195.9 595.2h0M203.3 573.1h0M219.8 594.0h0M216.7 581.7h0M207.5 616.6h0M204.3 574.4h0M206.5 594.3h0M212.8 625.0h0M213.0 572.8h0M218.4 586.9h0M197.5 586.0h0M208.0 578.8h0M218.4 572.2h0M211.5 622.9h0M215.4 601.6h0M208.8 604.2h0M209.1 580.6h0M214.1 578.6h0M212.4 603.9h0M201.9 594.9h0M203.2 612.3h0M213.0 621.5h0M212.9 615.7h0M203.8 598.5h0M204.5 589.8h0M207.6 576.3h0M216.3 564.9h0M208.5 604.4h0M205.6 595.4h0M203.0 584.4h0M213.5 590.7h0M214.2 576.1h0M216.3 576.9h0M199.1 582.7h0M205.9 602.1h0M210.3 622.2h0M199.7 607.6h0M219.1 595.8h0M209.9 572.5h0M209.5 615.2h0M198.1 588.3h0M208.8 600.6h0M208.0 618.4h0M214.8 606.1h0M209.0 572.4h0M199.2 611.6h0M208.1 620.9h0M206.1 608.5h0M213.3 604.0h0M206.3 567.2h0M198.3 604.1h0M216.5 591.9h0M214.1 588.5h0M210.7 576.7h0M204.5 600.8h0M198.4 605.2h0M215.1 591.9h0M204.4 556.3h0M194.9 556.3h0M200.9 560.8h0M202.4 558.3h0M196.8 552.4h0M208.0 556.6h0M204.7 558.6h0M198.5 558.9h0M203.9 559.0h0M200.6 563.7h0M205.0 561.9h0M194.6 564.4h0M202.3 561.7h0M206.5 557.3h0M203.3 563.2h0M203.7 557.9h0M196.3 553.9h0M199.4 559.2h0M204.1 556.8h0M199.8 555.0h0M196.6 557.8h0M201.6 560.6h0M197.1 555.9h0M196.2 559.9h0M203.3 567.5h0M199.5 562.7h0M205.6 555.7h0M196.5 562.6h0M145.4 635.4h0M147.0 629.8h0M144.6 629.6h0M160.1 639.7h0M159.1 640.0h0M146.5 633.6h0M150.2 635.3h0M143.9 632.3h0M149.8 635.7h0M146.9 635.4h0M156.1 635.5h0M162.8 642.9h0M162.6 640.6h0M144.5 633.7h0M140.0 625.5h0M143.7 631.1h0M140.8 626.1h0M156.0 639.1h0M153.4 639.0h0M150.0 632.5h0M148.0 625.6h0M130.7 611.4h0M142.5 608.2h0M154.8 625.4h0M154.5 628.5h0M158.4 590.8h0M145.6 613.3h0M147.1 624.2h0M126.7 627.4h0M158.3 602.8h0M194.9 611.0h0M188.6 611.6h0M187.5 618.3h0M193.5 615.6h0M182.5 612.6h0M187.2 609.5h0M189.8 612.0h0M188.1 614.6h0M194.0 609.3h0M185.6 619.1h0M187.5 609.9h0M185.1 606.7h0M180.7 609.0h0M186.8 621.4h0M194.5 612.7h0" stroke="#7CAE00" stroke-width="2.6" stroke-linecap="round" fill="none"/>
<path d="M66.4 562.0h0M71.4 548.7h0M54.5 549.0h0M59.7 536.0h0M53.5 552.4h0M49.3 548.4h0M72.2 548.2h0M50.3 548.1h0M68.2 543.4h0M65.1 539.7h0M60.1 537.3h0M68.7 555.2h0M69.3 538.5h0M66.7 537.7h0M65.4 556.8h0M52.6 535.0h0M69.5 548.4h0M68.5 555.8h0M54.8 565.3h0M69.3 563.6h0M61.5 534.4h0M62.8 541.7h0M54.8 559.0h0M58.2 554.8h0M69.4 556.3h0M66.3 551.0h0M58.6 533.7h0M56.6 542.8h0M69.1 550.9h0M46.4 549.4h0M51.3 556.0h0M68.3 533.6h0M59.5 537.7h0M56.1 542.2h0M51.0 542.5h0M70.3 543.0h0M70.1 546.0h0M59.0 551.2h0M61.3 553.8h0M63.7 535.2h0M71.7 552.9h0M52.3 560.0h0M68.3 551.5h0M59.6 550.9h0M67.3 550.9h0M58.1 561.7h0M63.8 532.7h0M63.4 544.9h0M62.8 538.5h0M52.2 542.3h0M58.5 544.1h0M52.8 559.7h0M66.6 560.0h0M55.5 550.0h0M60.7 543.2h0M71.9 553.0h0M73.7 549.2h0M62.2 535.4h0M57.8 559.9h0M56.7 529.3h0M60.2 536.8h0M63.7 545.4h0M53.7 553.9h0M56.9 553.7h0M64.4 535.1h0M62.2 529.8h0M57.0 539.5h0M63.4 539.1h0M59.1 543.9h0M71.8 543.1h0M59.2 551.0h0M59.9 527.6h0M73.4 541.7h0M55.3 559.7h0M52.2 537.3h0M57.4 552.3h0M55.9 548.6h0M74.4 556.0h0M68.5 548.2h0M61.8 529.6h0M54.8 549.5h0M56.2 540.9h0M60.3 533.4h0M55.3 551.2h0M52.5 559.2h0M66.9 560.8h0M63.2 537.0h0M65.0 537.8h0M60.8 543.8h0M67.3 538.8h0M59.2 543.8h0M58.3 537.1h0M65.3 562.0h0M62.1 533.6h0M56.5 557.1h0M52.3 551.7h0M56.1 560.9h0M54.1 542.9h0M54.3 533.3h0M54.8 542.8h0M59.0 552.6h0M62.3 555.5h0M67.4 534.6h0M58.9 555.2h0M49.9 552.9h0M71.4 555.8h0M58.0 559.0h0M66.2 551.0h0M55.4 557.9h0M58.6 534.9h0M58.8 559.9h0M61.7 576.1h0M70.4 576.9h0M51.8 565.4h0M51.6 570.6h0M55.1 573.5h0M68.5 578.8h0M69.2 568.4h0M67.3 577.3h0M71.8 569.8h0M56.7 581.4h0M60.5 574.3h0M65.9 570.0h0M73.6 568.8h0M58.7 565.0h0M68.0 570.0h0M63.8 577.4h0M63.7 568.7h0M55.1 566.6h0M59.1 578.4h0M51.2 565.2h0M62.5 573.2h0M62.9 565.0h0M58.8 569.2h0M69.1 578.5h0M62.5 579.9h0M58.0 583.0h0M54.3 573.1h0M61.5 576.4h0M57.7 582.9h0M51.4 568.8h0M64.5 576.6h0M61.2 564.4h0M57.0 573.3h0M55.4 575.7h0M54.9 569.0h0M66.3 580.1h0M63.7 569.8h0M64.5 575.1h0M54.6 570.1h0M48.5 591.3h0M44.7 592.1h0M42.6 593.5h0M52.5 581.3h0M41.6 598.1h0M50.2 587.6h0M54.3 583.2h0M52.5 581.7h0M49.8 588.3h0M44.6 595.2h0M54.3 582.5h0M53.8 585.3h0M44.2 593.6h0M42.5 595.2h0M52.7 584.1h0M42.0 601.7h0M39.7 600.5h0M39.8 601.2h0M40.4 601.2h0M40.9 600.8h0M40.2 600.8h0M84.8 569.9h0M89.1 572.3h0M88.2 570.1h0M84.9 569.3h0M89.6 572.9h0M91.9 571.6h0" stroke="#00BFC4" stroke-width="2.6" stroke-linecap="round" fill="none"/>
<path d="M106.9 581.6h0M108.2 587.0h0M112.6 576.7h0M94.4 573.5h0M106.1 569.3h0M110.3 586.3h0M98.3 573.7h0M104.0 578.9h0M86.4 577.9h0M94.5 579.0h0M112.2 572.4h0M101.1 579.5h0M104.3 571.8h0M101.2 582.2h0M92.2 571.8h0M109.3 574.2h0M105.9 581.7h0M93.9 580.3h0M115.9 576.2h0M106.9 575.1h0M123.2 568.4h0M91.6 571.8h0M93.4 583.2h0M114.7 583.4h0M113.6 571.9h0M116.0 582.1h0M121.1 573.2h0M120.9 573.0h0M123.7 573.8h0M107.7 569.5h0M97.5 570.6h0M90.2 583.6h0M113.2 569.3h0M95.2 574.1h0M92.8 576.5h0M108.5 579.1h0M113.2 581.0h0M97.0 568.8h0M110.0 580.2h0M99.9 568.3h0M95.7 579.1h0M110.1 579.8h0M94.1 574.7h0M108.4 570.2h0M118.3 576.6h0M105.1 582.6h0M93.6 581.9h0M89.7 577.8h0M89.5 577.7h0M105.5 579.8h0M103.8 578.1h0M117.5 581.1h0M97.5 575.1h0M120.3 576.8h0M119.2 584.4h0M102.5 569.9h0M89.7 575.6h0M97.0 585.0h0M111.2 597.9h0M100.8 599.6h0M108.2 595.9h0M90.4 595.4h0M98.8 601.4h0M106.0 599.5h0M107.7 600.9h0M105.5 595.2h0M112.0 608.0h0M101.1 605.7h0M99.1 602.2h0M106.8 599.8h0M106.2 608.9h0M104.3 606.0h0M93.4 602.7h0M108.5 604.4h0M97.5 593.4h0M94.8 599.7h0M99.2 588.0h0M106.0 607.6h0M103.3 604.2h0M93.6 600.6h0M92.8 605.5h0M97.9 608.0h0M108.3 604.3h0M99.7 598.0h0M95.8 605.4h0M101.7 599.2h0M112.3 627.9h0M107.5 619.1h0M110.0 613.0h0M98.0 618.3h0M108.6 619.9h0M110.0 627.8h0M103.5 620.7h0M97.3 625.6h0M102.4 616.5h0M105.2 613.5h0M110.9 619.2h0M111.5 619.7h0M102.3 621.6h0M111.0 618.2h0M95.0 626.2h0M103.0 616.7h0M98.1 621.0h0M110.3 615.2h0M107.8 627.1h0M104.4 616.3h0M107.3 617.8h0M103.7 620.4h0M110.9 632.4h0M99.4 616.7h0M124.6 615.0h0M127.9 601.7h0M119.5 599.2h0M127.3 593.2h0M120.4 592.9h0M122.7 612.2h0M120.3 580.1h0M127.6 576.2h0M124.6 605.7h0M120.5 586.6h0M84.3 586.7h0M84.1 591.6h0M82.8 588.8h0M86.1 597.1h0M88.7 585.9h0M90.1 607.5h0M85.2 602.0h0M78.2 540.1h0M79.3 538.8h0M79.1 540.6h0" stroke="#CD9600" stroke-width="2.6" stroke-linecap="round" fill="none"/>
<path d="M87.6 601.6h0M77.8 594.5h0M73.3 605.8h0M71.8 596.3h0M83.4 583.5h0M74.2 611.4h0M71.7 587.1h0M84.0 610.3h0M71.8 600.5h0M90.6 589.2h0M82.0 582.8h0M73.4 608.0h0M81.6 604.6h0M77.5 591.5h0M70.2 598.2h0M86.0 595.7h0M80.3 605.6h0M90.1 591.9h0M84.1 608.3h0M83.7 593.9h0M88.3 589.6h0M85.5 602.6h0M72.4 600.2h0M79.1 579.2h0M74.8 601.4h0M95.9 607.1h0M84.1 585.6h0M71.4 597.0h0M86.0 603.3h0M88.2 597.8h0M69.9 594.2h0M80.1 607.5h0M85.5 589.7h0M89.0 605.8h0M93.1 597.1h0M85.5 594.2h0M74.8 601.0h0M89.8 586.4h0M72.5 590.7h0M87.1 592.0h0M91.6 592.2h0M89.2 599.9h0M87.0 636.4h0M70.3 631.1h0M74.4 625.5h0M82.4 613.9h0M78.8 640.2h0M67.9 633.6h0M75.9 627.6h0M73.7 615.6h0M82.7 633.1h0M77.4 629.2h0M82.7 638.9h0M82.6 616.7h0M81.5 620.6h0M73.7 624.8h0M67.4 625.4h0M72.3 641.7h0M69.3 641.7h0M82.1 625.1h0M71.7 615.4h0M66.5 634.3h0M72.7 639.5h0M87.8 629.4h0M79.1 628.4h0M80.9 626.3h0M82.1 625.3h0M70.9 643.8h0M81.0 617.5h0M73.5 614.5h0M85.5 620.7h0M76.1 612.0h0M78.3 625.8h0M80.3 611.7h0M68.9 622.1h0M75.2 620.4h0M84.0 636.5h0M71.1 639.4h0M77.6 626.9h0M85.4 640.1h0M73.8 640.7h0M71.3 619.6h0M67.6 635.5h0M84.2 636.4h0M80.6 641.9h0M73.5 619.0h0M76.0 629.4h0M74.2 626.9h0M85.2 620.1h0M81.0 626.8h0M75.2 641.8h0M80.0 625.2h0M68.0 627.6h0M74.3 624.0h0M85.8 641.7h0M69.4 639.8h0M87.1 623.9h0M81.4 649.2h0M92.6 658.8h0M90.8 657.8h0M86.4 652.6h0M85.2 652.6h0M86.4 655.5h0M84.8 653.7h0M83.4 651.9h0M75.4 594.5h0M78.0 598.0h0M77.1 603.9h0M80.9 622.4h0M90.4 625.5h0M90.0 625.5h0" stroke="#00A9FF" stroke-width="2.6" stroke-linecap="round" fill="none"/>
<path d="M233.8 593.9h0M236.5 619.2h0M231.5 607.7h0M235.9 598.6h0M230.9 609.0h0M238.2 614.7h0M234.8 595.3h0M236.1 594.0h0M229.5 614.6h0M235.7 605.1h0M232.6 613.5h0M243.8 609.4h0M228.9 613.7h0M239.1 614.3h0M243.0 599.3h0M237.5 599.9h0M240.4 598.0h0M227.9 614.3h0M238.5 594.2h0M233.7 593.4h0M238.6 612.1h0M228.7 611.7h0M238.3 619.5h0M231.6 600.8h0M240.7 610.1h0M239.7 613.2h0M241.5 598.4h0M233.2 595.7h0M230.4 605.3h0M230.6 602.6h0M241.2 600.3h0M232.7 607.7h0M240.5 601.3h0M237.0 602.3h0M232.2 592.5h0M234.8 590.2h0M233.0 603.0h0M235.8 610.7h0M236.8 594.9h0M239.7 615.5h0M227.4 594.0h0M230.3 607.2h0M229.3 601.8h0M243.7 601.2h0M230.9 606.4h0M233.5 593.2h0M238.1 605.5h0M229.6 617.2h0M240.2 613.4h0M232.9 613.6h0M232.1 594.8h0M228.5 609.3h0M238.4 600.0h0M231.8 596.0h0M227.4 606.8h0M233.7 599.9h0M236.6 601.5h0M242.3 595.1h0M237.5 617.8h0M232.8 594.1h0M225.6 606.0h0M239.9 610.1h0M224.6 618.7h0M225.7 599.3h0M236.1 591.8h0M237.7 603.8h0M229.8 601.8h0" stroke="#FF61CC" stroke-width="2.6" stroke-linecap="round" fill="none"/>
<path d="M178.6 644.2h0M201.8 628.9h0M202.2 631.6h0M205.4 645.3h0M192.5 640.7h0M192.1 635.6h0M212.6 639.4h0M191.0 644.0h0M199.7 630.9h0M185.3 636.2h0M196.5 645.0h0M205.0 642.1h0M190.9 644.6h0M183.9 634.9h0M190.4 645.6h0M196.9 638.7h0M190.9 628.2h0M192.2 639.3h0M194.4 646.9h0M215.9 643.4h0M213.1 642.3h0M204.4 648.1h0M208.0 640.2h0M206.7 626.0h0M207.9 644.7h0M197.9 639.3h0M185.7 637.2h0M206.1 633.0h0M205.8 629.9h0M189.1 633.7h0M206.3 638.8h0M189.8 639.9h0M198.4 647.1h0M194.6 637.5h0M200.6 643.3h0M191.3 641.9h0M187.5 635.4h0M214.7 634.0h0M194.5 638.9h0M209.6 640.5h0M212.7 642.8h0M201.6 631.4h0M174.3 635.6h0M191.5 629.1h0M184.4 637.9h0M218.8 633.8h0M203.6 626.3h0M207.7 648.5h0M190.4 637.3h0M203.9 639.2h0M184.4 646.0h0M197.7 635.7h0M183.1 628.7h0M214.2 629.2h0M212.5 640.3h0M180.4 630.5h0M197.4 633.0h0M196.0 645.3h0M214.3 639.5h0M218.8 643.5h0M191.3 642.3h0M188.9 630.9h0M202.0 644.9h0M193.9 638.5h0M205.0 648.5h0M220.0 633.3h0M191.0 628.8h0M189.1 642.1h0M195.2 639.3h0M189.3 629.9h0M198.4 646.4h0M197.1 638.8h0M194.5 645.3h0M210.4 626.1h0M193.9 628.1h0M201.8 633.2h0M202.6 637.9h0M192.1 637.2h0M194.3 625.0h0M192.7 642.2h0M186.5 633.6h0M206.0 628.6h0M195.9 626.9h0M193.0 644.3h0M206.9 629.0h0M206.5 635.5h0M213.6 637.1h0M184.0 629.4h0M196.7 636.0h0M211.1 631.0h0M208.4 637.8h0M205.4 626.5h0M218.6 640.1h0M214.3 636.8h0M191.0 638.9h0M205.2 644.8h0M200.6 638.2h0M202.9 641.2h0M188.1 637.1h0M204.3 627.6h0M210.3 664.7h0M204.2 655.6h0M192.3 648.3h0M184.2 654.6h0M189.1 654.6h0M186.2 658.6h0M211.5 654.7h0M205.4 666.9h0M212.2 657.7h0M201.7 646.6h0M212.5 660.6h0M209.0 657.3h0M188.3 653.9h0M194.4 645.4h0M207.7 664.1h0M190.8 648.3h0M201.0 665.2h0M190.3 669.1h0M201.5 665.6h0M179.7 652.4h0M193.8 660.2h0M205.4 651.9h0M183.6 655.5h0M188.8 651.8h0M198.1 669.8h0M201.9 655.1h0M184.7 665.5h0M202.3 667.4h0M185.7 666.5h0M184.0 656.4h0M203.0 656.6h0M189.2 660.3h0M204.3 671.2h0M194.3 647.4h0M196.6 664.6h0M207.1 656.8h0M187.9 649.6h0M192.1 647.3h0M191.9 663.7h0M196.9 653.8h0M204.6 668.2h0M200.4 653.9h0M203.7 667.4h0M192.5 659.1h0M199.7 664.1h0M200.0 669.1h0M190.9 656.1h0M191.5 669.1h0M193.9 647.2h0M200.1 666.2h0M198.4 669.1h0M204.1 665.7h0M204.1 659.1h0M192.0 662.7h0M199.8 651.3h0M199.4 656.1h0M199.7 667.9h0M202.9 650.2h0M191.0 658.3h0M204.6 666.8h0M195.6 673.4h0M197.3 667.3h0M197.9 671.7h0M194.8 650.5h0M201.2 650.5h0M186.2 667.7h0M208.1 661.6h0M181.2 656.1h0M185.0 668.3h0M186.6 671.6h0M183.3 657.3h0M178.1 662.8h0M207.0 661.8h0M183.5 656.1h0M197.4 650.2h0M186.0 651.5h0M188.0 655.1h0M196.4 666.2h0M195.7 657.4h0M189.2 662.1h0M198.6 664.2h0M192.3 650.4h0M196.2 659.7h0M191.2 653.9h0M195.4 671.8h0M186.8 669.8h0M202.2 664.6h0M184.6 655.8h0M199.7 656.3h0M199.1 663.4h0M195.7 662.2h0M205.8 657.1h0M190.3 649.3h0M205.4 660.2h0M184.4 650.0h0M209.4 664.4h0M184.2 662.8h0M200.9 651.6h0M192.9 653.5h0M206.8 668.4h0M207.5 664.5h0M204.9 653.5h0M208.6 660.9h0M193.6 655.1h0M198.0 671.5h0M188.6 667.8h0M204.4 662.8h0M211.8 657.6h0M209.9 654.5h0M205.9 663.8h0M193.5 695.5h0M190.3 675.5h0M183.5 688.5h0M195.3 673.6h0M190.5 681.2h0M200.1 679.3h0M194.7 687.8h0M182.6 685.3h0M193.3 684.9h0M194.0 688.8h0M198.0 682.1h0M197.4 688.7h0M198.0 690.9h0M197.3 680.0h0M202.3 687.4h0M193.4 685.0h0M190.0 685.3h0M189.4 696.1h0M186.8 686.1h0M192.1 683.1h0M189.7 683.2h0M195.6 682.7h0M185.8 687.1h0M196.0 689.4h0M188.4 690.7h0M194.3 671.5h0M194.8 672.3h0M194.7 670.5h0M191.0 694.2h0M195.3 670.0h0M198.3 680.9h0M199.5 683.9h0M190.5 674.7h0M182.0 683.1h0M184.6 687.1h0M194.0 693.4h0M198.5 676.7h0M182.8 684.4h0M189.9 693.0h0M188.4 681.0h0M197.0 679.9h0M183.1 684.2h0M193.6 690.3h0M184.0 675.1h0M186.7 673.7h0M198.4 691.3h0M197.9 688.8h0M195.5 688.2h0M197.3 674.8h0M181.8 686.0h0M195.2 673.1h0M186.1 686.7h0M200.1 679.3h0M195.0 687.7h0M184.1 686.2h0M202.1 674.0h0M179.6 685.0h0M190.3 689.6h0M184.5 682.6h0M194.1 690.2h0M184.8 673.2h0M193.4 685.5h0M188.6 673.1h0M201.3 675.8h0M195.8 684.5h0M181.9 686.6h0M193.4 672.9h0M200.3 679.2h0M202.4 678.4h0M200.0 679.4h0M207.5 623.6h0M208.4 599.9h0M194.3 600.7h0M191.2 599.6h0M205.0 619.3h0M219.8 617.6h0M181.9 594.8h0M215.6 608.9h0M206.4 605.6h0M198.3 606.9h0M186.5 621.8h0M201.8 618.7h0M211.8 604.0h0M166.7 607.3h0M201.5 605.1h0M188.5 602.9h0M208.1 599.7h0M195.1 612.9h0M220.1 614.5h0M200.5 609.5h0M199.7 598.4h0M208.2 622.8h0M218.7 597.2h0M206.0 592.7h0M218.5 591.7h0M158.7 645.3h0M156.5 646.9h0M158.1 638.0h0M157.8 634.2h0M159.6 648.8h0" stroke="#F8766D" stroke-width="2.6" stroke-linecap="round" fill="none"/>
<path d="M178.4 650.0h0M173.9 653.2h0M176.1 656.2h0M168.7 651.2h0M169.3 656.3h0M172.5 639.7h0M160.8 640.7h0M179.2 648.3h0M165.8 665.5h0M165.6 645.3h0M175.3 662.3h0M162.2 639.3h0M172.2 645.3h0M156.7 651.0h0M174.9 648.6h0M160.5 644.3h0M180.1 649.1h0M177.7 654.2h0M172.0 670.6h0M166.2 654.5h0M179.0 663.4h0M166.6 640.7h0M180.1 638.7h0M176.8 652.0h0M165.7 664.1h0M179.9 664.8h0M159.9 660.2h0M167.0 657.3h0M180.7 650.1h0M172.0 658.6h0M171.6 639.6h0M177.3 644.8h0M165.2 666.4h0M166.2 664.7h0M173.7 633.8h0M174.4 642.8h0M168.3 664.7h0M180.0 663.2h0M173.3 658.6h0M169.3 636.4h0M168.9 652.6h0M177.9 664.6h0M176.2 652.0h0M160.3 648.9h0M177.1 642.7h0M171.6 640.4h0M174.6 650.2h0M165.9 635.2h0M170.2 666.6h0M172.0 671.8h0M162.5 649.4h0M158.2 665.0h0M175.4 659.8h0M169.8 669.8h0M177.1 655.9h0M162.9 670.9h0M165.8 649.6h0M167.8 640.8h0M176.6 655.4h0M165.2 651.3h0M168.4 647.8h0M173.0 671.4h0M179.8 639.7h0M180.5 640.4h0M168.2 640.9h0M173.2 646.7h0M170.5 657.2h0M156.9 657.7h0M168.4 639.5h0M166.3 635.3h0M159.7 645.2h0M161.3 656.4h0M178.5 660.2h0M171.8 637.3h0M170.2 675.8h0M163.9 640.9h0M174.5 640.0h0M172.8 654.6h0M170.3 658.5h0M173.6 645.3h0M167.1 650.4h0M171.5 635.5h0M164.8 648.1h0M164.1 653.9h0M167.5 642.1h0M160.6 639.7h0M163.6 640.3h0M162.9 665.5h0M159.7 652.4h0M166.9 633.3h0M171.5 667.8h0M159.7 642.3h0M161.4 665.0h0M166.3 647.2h0M178.2 663.3h0M183.2 655.9h0M168.2 638.0h0M169.6 658.0h0M172.3 657.5h0M171.6 657.0h0M184.9 629.2h0M170.3 610.6h0M173.4 607.2h0M188.5 610.8h0M186.5 623.8h0M181.7 614.6h0M177.7 627.8h0M169.3 606.3h0M186.7 618.2h0M191.8 624.9h0M166.9 607.5h0M191.2 618.2h0M199.8 619.4h0M166.5 621.6h0M167.5 628.7h0M197.6 624.1h0M195.7 613.1h0M194.1 613.4h0M162.3 689.1h0M162.9 689.2h0" stroke="#C77CFF" stroke-width="2.6" stroke-linecap="round" fill="none"/>
<line x1="30.8" y1="520" x2="30.8" y2="706.5" stroke="#000" stroke-width="1.4"/>
<line x1="30.1" y1="705.8" x2="247.8" y2="705.8" stroke="#000" stroke-width="1.4"/>
<line x1="249.5" y1="705.8" x2="468.6" y2="705.8" stroke="#000" stroke-width="1.4"/>
<line x1="27.8" y1="557.9" x2="30.8" y2="557.9" stroke="#000" stroke-width="1.3"/>
<text x="25.2" y="561.3" font-size="9.5" text-anchor="end" font-weight="normal" fill="#000" >2</text>
<line x1="27.8" y1="611.7" x2="30.8" y2="611.7" stroke="#000" stroke-width="1.3"/>
<text x="25.2" y="615.1" font-size="9.5" text-anchor="end" font-weight="normal" fill="#000" >0</text>
<line x1="27.8" y1="665.5" x2="30.8" y2="665.5" stroke="#000" stroke-width="1.3"/>
<text x="25.2" y="668.9" font-size="9.5" text-anchor="end" font-weight="normal" fill="#000" >-2</text>
<line x1="87.48" y1="705.8" x2="87.48" y2="708.6" stroke="#000" stroke-width="1.3"/>
<text x="87.48" y="717.8" font-size="9.5" text-anchor="middle" font-weight="normal" fill="#000" >-4</text>
<line x1="148.2" y1="705.8" x2="148.2" y2="708.6" stroke="#000" stroke-width="1.3"/>
<text x="148.2" y="717.8" font-size="9.5" text-anchor="middle" font-weight="normal" fill="#000" >0</text>
<line x1="208.92" y1="705.8" x2="208.92" y2="708.6" stroke="#000" stroke-width="1.3"/>
<text x="208.92" y="717.8" font-size="9.5" text-anchor="middle" font-weight="normal" fill="#000" >4</text>
<line x1="307.68" y1="705.8" x2="307.68" y2="708.6" stroke="#000" stroke-width="1.3"/>
<text x="307.68" y="717.8" font-size="9.5" text-anchor="middle" font-weight="normal" fill="#000" >-4</text>
<line x1="368.4" y1="705.8" x2="368.4" y2="708.6" stroke="#000" stroke-width="1.3"/>
<text x="368.4" y="717.8" font-size="9.5" text-anchor="middle" font-weight="normal" fill="#000" >0</text>
<line x1="429.12" y1="705.8" x2="429.12" y2="708.6" stroke="#000" stroke-width="1.3"/>
<text x="429.12" y="717.8" font-size="9.5" text-anchor="middle" font-weight="normal" fill="#000" >4</text>
<text x="227.6" y="729.6" font-size="10.6" textLength="38" lengthAdjust="spacingAndGlyphs">UMAP_1</text>
<text x="8.7" y="635.6" font-size="11.2" textLength="38" lengthAdjust="spacingAndGlyphs" transform="rotate(-90 8.7 635.6)">UMAP_2</text>
<text x="146.5" y="526.6" font-size="9.9" text-anchor="middle" font-weight="bold" fill="#000" >Unbiased sort</text>
<text x="348.6" y="526.5" font-size="9.7" text-anchor="middle" font-weight="bold" fill="#000" >Extra sorted CD127+CD94+ cells</text>
<ellipse cx="97.7" cy="606.5" rx="66.5" ry="38.3" transform="rotate(-60.9 97.7 606.5)" fill="none" stroke="#f01414" stroke-width="1.1"/>
<text x="94.1" y="680.8" font-size="10.3" text-anchor="middle" font-weight="bold" fill="#f01414" >CD94+CD127+</text>
<path d="M329.3 604.3h0M313.6 627.6h0M324.9 596.7h0M323.2 600.0h0M323.3 597.1h0M314.9 603.0h0M328.6 597.3h0M318.9 588.5h0M334.7 589.1h0M334.5 575.3h0M324.8 607.9h0M314.0 598.5h0M320.1 585.8h0M314.0 580.9h0M333.8 610.1h0M313.8 577.1h0M314.6 601.7h0M318.9 586.4h0M314.9 592.4h0M340.6 590.7h0M333.8 601.8h0M318.8 619.6h0M324.3 596.4h0M334.3 587.0h0M323.9 588.8h0M337.7 609.4h0M314.2 620.7h0M320.0 619.6h0M321.1 605.7h0M327.8 603.9h0M327.3 601.7h0M334.5 612.4h0M336.2 592.0h0M305.1 592.0h0M317.4 603.9h0M335.8 582.5h0M328.2 607.4h0M346.6 621.5h0M319.4 598.8h0M348.4 595.3h0M327.3 595.8h0M331.7 603.9h0M311.2 596.5h0M334.1 589.4h0M315.2 594.7h0M316.0 584.5h0M326.0 589.3h0M326.0 580.8h0M322.6 581.6h0M328.2 595.9h0M322.7 587.0h0M325.9 590.0h0M322.7 605.2h0M335.6 584.5h0M321.1 587.6h0M315.6 577.9h0M323.0 595.6h0M324.7 592.9h0M325.8 596.5h0M315.6 598.2h0M332.2 609.9h0M325.5 609.4h0M330.6 605.7h0M335.1 577.6h0M313.9 586.5h0M318.6 596.7h0M318.8 584.6h0M318.6 587.1h0M334.9 611.0h0M332.0 621.7h0M324.3 609.8h0M344.2 592.1h0M321.6 605.6h0M328.7 592.8h0M337.3 596.0h0M318.7 605.8h0M319.3 615.7h0M330.0 617.1h0M317.8 606.8h0M321.5 627.4h0M317.4 591.0h0M327.7 603.0h0M325.7 599.8h0M324.9 588.8h0M331.6 604.9h0M324.4 583.6h0M324.5 599.6h0M319.4 583.7h0M327.3 596.4h0M330.2 607.9h0M302.2 614.1h0M314.6 598.0h0M329.6 620.8h0M324.8 632.0h0M319.1 594.3h0M328.6 617.1h0M348.8 604.9h0M304.6 582.4h0M321.7 607.1h0M318.9 613.2h0M324.2 610.1h0M325.9 604.6h0M323.3 591.6h0M317.1 604.4h0M310.1 612.8h0M321.2 606.2h0M318.4 587.6h0M326.4 598.4h0M333.6 617.3h0M313.0 583.5h0M329.3 613.8h0M331.0 595.7h0M321.0 586.4h0M317.4 584.6h0M316.3 583.6h0M322.9 601.5h0M331.0 613.4h0M329.8 618.0h0M314.1 594.3h0M329.9 595.2h0M305.3 567.6h0M328.0 572.5h0M325.0 571.8h0M335.4 570.3h0M313.6 560.9h0M326.0 565.7h0M342.7 565.3h0M343.2 573.1h0M338.3 561.7h0M326.1 575.3h0M335.8 561.7h0M334.5 562.3h0M331.9 634.2h0M331.8 640.2h0M329.7 634.6h0M330.5 628.1h0M338.5 635.6h0M330.0 639.9h0M331.6 635.4h0M341.8 633.7h0M340.3 635.0h0M325.4 640.4h0M338.2 628.9h0M333.8 637.8h0" stroke="#CD9600" stroke-width="2.6" stroke-linecap="round" fill="none"/>
<path d="M306.9 621.2h0M300.0 647.8h0M299.2 624.1h0M306.8 618.7h0M311.6 611.5h0M300.1 635.9h0M296.2 639.4h0M298.9 616.2h0M299.0 621.8h0M299.1 642.4h0M301.5 637.5h0M302.7 620.3h0M294.9 622.5h0M295.5 622.2h0M293.6 620.2h0M303.8 631.6h0M301.7 599.5h0M314.5 599.2h0M305.6 644.0h0M300.7 636.6h0M302.8 639.9h0M298.1 614.4h0M293.9 626.3h0M310.1 632.3h0M303.0 617.0h0M308.2 629.1h0M298.9 606.6h0M301.8 624.8h0M306.3 612.7h0M303.9 615.7h0M304.9 623.4h0M303.7 625.8h0M307.2 614.4h0M296.5 632.9h0M299.0 635.3h0M306.4 613.1h0M298.1 627.4h0M298.7 624.7h0M303.7 629.7h0M290.7 639.0h0M301.7 624.9h0M298.2 633.4h0M310.6 617.7h0M304.0 620.2h0M295.0 627.5h0M297.0 643.2h0M290.0 649.6h0M299.2 649.3h0M300.4 643.5h0M278.7 645.7h0M284.4 651.3h0M288.4 634.7h0M294.0 646.0h0M288.7 640.0h0M292.3 654.9h0M299.5 646.0h0M291.6 651.1h0M290.0 645.0h0M287.9 646.0h0M296.5 652.8h0M291.5 648.0h0M285.3 646.7h0M302.1 643.3h0M291.0 651.0h0M305.9 646.8h0M299.5 639.0h0M304.7 644.1h0M300.2 644.8h0M304.3 650.9h0M295.6 644.8h0M294.9 643.4h0M290.4 649.3h0M291.8 646.8h0M284.9 650.6h0M291.0 648.7h0" stroke="#00A9FF" stroke-width="2.6" stroke-linecap="round" fill="none"/>
<path d="M271.8 565.5h0M281.2 586.3h0M383.3 610.3h0" stroke="#CD9600" stroke-width="2.6" stroke-linecap="round" fill="none"/>
<path d="M275.5 561.8h0M272.8 572.3h0" stroke="#00BFC4" stroke-width="2.6" stroke-linecap="round" fill="none"/>
<path d="M283.8 580.3h0M281.8 623.4h0M306.4 654.5h0" stroke="#00A9FF" stroke-width="2.6" stroke-linecap="round" fill="none"/>
<path d="M288.3 592.6h0M321.8 625.7h0M317.6 636.2h0M360.5 638.5h0M418.0 584.4h0" stroke="#7CAE00" stroke-width="2.6" stroke-linecap="round" fill="none"/>
<path d="M347.4 577.6h0M347.4 580.3h0M407.0 581.1h0M409.9 581.5h0M383.3 603.4h0" stroke="#00BE67" stroke-width="2.6" stroke-linecap="round" fill="none"/>
<path d="M308.9 651.5h0M311.3 653.5h0M373.4 630.7h0M372.3 640.6h0M378.9 655.5h0M379.6 664.3h0M382.6 665.4h0M386.2 661.8h0M388.0 662.1h0M393.1 682.6h0M389.9 687.3h0" stroke="#C77CFF" stroke-width="2.6" stroke-linecap="round" fill="none"/>
<path d="M419.0 682.2h0" stroke="#F8766D" stroke-width="2.6" stroke-linecap="round" fill="none"/>
<text x="494.5" y="229.7" font-size="13" text-anchor="start" font-weight="bold" fill="#000" >e</text>
<path d="M548.0 287.3h0M560.5 275.8h0M553.6 277.5h0M567.5 280.7h0M563.7 283.2h0M556.0 291.6h0M564.2 283.6h0M551.8 267.8h0M567.1 280.4h0M550.4 279.2h0M554.2 270.0h0M550.2 267.1h0M562.7 269.3h0M558.3 287.5h0M553.1 284.8h0M559.6 285.2h0M559.7 290.7h0M562.5 276.6h0M556.3 266.6h0M544.2 288.8h0M559.9 283.2h0M546.9 286.8h0M547.4 269.4h0M557.3 270.3h0M558.1 286.1h0M557.8 264.6h0M565.0 286.3h0M557.0 281.7h0M547.1 273.3h0M565.7 277.2h0M564.7 273.4h0M544.8 282.2h0M555.7 268.5h0M551.9 270.6h0M569.2 284.1h0M558.5 275.3h0M558.4 287.0h0M552.7 270.1h0M563.2 281.9h0M551.6 276.0h0M552.5 281.5h0M553.9 277.7h0M537.6 291.2h0M548.2 267.1h0M553.4 279.2h0M548.6 281.1h0M559.3 291.5h0M566.4 288.1h0M562.7 272.2h0M551.5 271.8h0M548.4 277.1h0M565.6 281.5h0M547.7 277.6h0M556.6 280.5h0M562.5 269.3h0M566.6 292.8h0M552.5 288.8h0M567.5 286.2h0M545.0 289.9h0M559.0 265.3h0M565.5 283.8h0M550.7 271.4h0M549.7 283.9h0M564.5 275.1h0M551.7 318.2h0M548.5 286.9h0M555.2 268.9h0M551.4 267.5h0M562.6 281.2h0M558.5 266.9h0M562.0 281.1h0M561.2 294.9h0M540.8 289.1h0M562.4 277.5h0M553.5 273.5h0M561.4 264.8h0M554.6 291.4h0M555.1 287.2h0M555.4 268.8h0M542.3 289.2h0M550.4 269.3h0M556.3 274.8h0M566.0 286.5h0M556.0 293.9h0M558.1 291.2h0M544.7 290.6h0M557.7 265.8h0M564.1 288.0h0M586.7 306.8h0M553.7 268.4h0M556.7 279.2h0M559.6 291.5h0M566.5 282.4h0M563.5 279.0h0M569.4 284.0h0M549.0 282.6h0M562.3 276.9h0M569.1 281.5h0M567.5 286.9h0M563.3 288.0h0M552.3 272.7h0M561.9 286.1h0M556.8 280.6h0M557.4 286.6h0M558.8 292.2h0M558.4 287.6h0M587.9 302.2h0M558.6 290.6h0M566.0 284.2h0M552.4 281.0h0M550.6 272.5h0M559.2 284.2h0M551.4 268.0h0M566.0 279.5h0M564.9 288.4h0M555.4 331.7h0M550.7 282.6h0M564.5 270.8h0M562.4 272.4h0M558.8 277.8h0M566.3 279.3h0M564.0 267.3h0M565.5 277.1h0M549.5 288.2h0M554.4 290.5h0M549.5 270.5h0M563.0 268.4h0M555.3 290.9h0M554.9 292.2h0M568.7 286.6h0M547.3 276.0h0M565.4 314.5h0M556.2 277.3h0M565.8 273.4h0M549.3 284.0h0M559.0 295.0h0M558.0 272.1h0M562.0 288.3h0M562.7 280.8h0M558.1 293.1h0M549.5 283.1h0M542.6 288.4h0M565.4 274.1h0M557.7 286.2h0M545.6 276.2h0M551.4 266.9h0M557.8 266.9h0M553.4 274.4h0M565.7 283.1h0M559.4 292.9h0M565.0 294.7h0M567.1 267.6h0M552.5 275.4h0M563.9 274.5h0M550.5 268.0h0M553.8 290.1h0" stroke="#d3d3d3" stroke-width="2.5" stroke-linecap="round" fill="none"/>
<path d="M556.4 324.3h0M585.4 310.8h0M566.6 295.2h0M582.9 315.7h0M563.5 294.0h0M552.5 311.6h0M556.1 326.7h0M559.1 321.7h0M558.0 307.0h0M575.9 318.0h0M565.5 297.1h0" stroke="#cfcad6" stroke-width="2.5" stroke-linecap="round" fill="none"/>
<path d="M571.1 307.3h0M567.0 310.0h0M582.5 307.9h0M589.9 306.9h0M558.0 330.3h0" stroke="#cac1d9" stroke-width="2.5" stroke-linecap="round" fill="none"/>
<path d="M562.3 293.5h0M550.6 278.0h0M566.7 275.0h0M569.7 276.6h0M566.0 280.1h0M557.9 290.4h0M549.9 287.5h0M552.8 287.5h0M548.3 279.2h0M550.8 271.3h0M562.4 282.0h0M552.2 290.4h0" stroke="#c1aede" stroke-width="2.5" stroke-linecap="round" fill="none"/>
<path d="M547.5 290.3h0M567.0 284.0h0M547.3 277.8h0M554.5 278.8h0M556.2 292.9h0M555.7 279.8h0M565.1 293.2h0M563.9 276.2h0" stroke="#bba5e0" stroke-width="2.5" stroke-linecap="round" fill="none"/>
<path d="M565.0 280.2h0M552.0 288.2h0M552.2 283.7h0M565.1 289.7h0M546.8 281.0h0M562.4 265.6h0M566.7 267.5h0M562.1 279.6h0M554.2 293.2h0M547.5 267.2h0M551.0 284.1h0M562.5 292.8h0M546.2 288.4h0M560.6 279.9h0" stroke="#b69ce3" stroke-width="2.5" stroke-linecap="round" fill="none"/>
<path d="M555.9 284.2h0M580.1 311.9h0M537.9 288.7h0M552.9 283.6h0M565.6 326.2h0M549.9 285.5h0M561.8 319.4h0M551.6 286.7h0M544.5 333.5h0M558.0 322.4h0M559.7 304.2h0M573.4 302.8h0M559.9 326.7h0M561.3 300.2h0M560.1 276.2h0M590.3 311.9h0M583.9 304.0h0M582.4 298.3h0M558.3 306.9h0M552.4 266.4h0M565.4 299.2h0M566.2 294.3h0M568.2 313.5h0M556.8 316.5h0M556.6 283.0h0M546.7 333.0h0M582.8 311.3h0M548.0 332.7h0M569.9 306.0h0M554.7 291.6h0M574.0 307.7h0" stroke="#b093e5" stroke-width="2.5" stroke-linecap="round" fill="none"/>
<path d="M559.4 307.7h0M559.3 305.7h0M562.5 282.7h0M568.5 299.6h0M580.8 300.4h0M566.9 305.6h0M590.8 309.4h0M562.6 268.5h0M578.7 303.5h0M573.1 302.7h0M567.2 321.6h0M551.1 314.2h0M560.0 328.5h0M562.3 316.4h0M547.8 319.5h0M583.3 306.8h0M573.9 323.2h0M584.7 301.9h0M560.5 317.3h0M581.3 319.5h0M560.2 315.7h0M554.9 328.5h0M545.8 337.1h0M589.7 308.8h0M570.3 312.1h0M581.5 320.6h0M569.7 309.3h0M555.5 323.2h0M566.1 320.1h0M561.8 322.4h0M561.7 280.9h0M551.7 311.3h0M553.8 322.9h0M580.5 305.7h0M562.3 316.3h0M586.7 309.4h0M549.7 339.9h0M567.3 299.1h0M567.2 298.5h0M558.9 317.6h0M555.6 325.8h0M557.1 344.7h0M560.9 306.5h0M550.6 332.2h0M560.1 326.8h0M550.3 272.8h0M548.2 313.3h0M550.7 320.5h0M562.4 301.4h0M559.2 308.2h0M556.1 316.3h0M590.6 310.5h0M562.5 311.5h0M574.2 301.0h0M556.4 307.8h0M563.9 323.9h0M566.9 296.5h0M575.9 309.1h0M549.5 322.9h0M549.0 316.3h0M568.2 303.2h0M550.9 270.2h0M581.4 302.8h0M548.9 312.9h0M584.2 308.2h0M580.9 294.5h0M549.9 288.5h0M584.1 303.8h0M559.9 320.7h0M576.6 308.2h0M566.6 315.1h0M557.5 321.2h0M554.9 286.6h0M555.6 320.9h0M552.3 330.8h0M557.3 327.2h0M548.5 289.0h0M567.0 314.5h0M558.8 318.3h0M575.3 315.6h0M576.0 315.8h0M548.8 335.7h0M560.1 313.6h0M578.5 304.6h0M564.2 301.7h0M548.0 322.5h0M568.3 294.7h0M552.5 268.2h0M591.0 309.4h0M563.3 328.0h0M557.9 318.6h0M577.4 310.8h0M563.5 305.6h0M584.7 305.1h0M588.4 309.6h0" stroke="#aa89e7" stroke-width="2.5" stroke-linecap="round" fill="none"/>
<path d="M663.4 340.4h0M617.3 333.6h0M636.1 317.0h0M638.9 312.3h0M646.3 357.5h0M553.7 331.0h0M623.7 335.4h0M560.4 325.2h0M561.2 314.5h0M545.3 333.1h0M619.8 371.9h0M551.2 328.8h0M647.2 339.0h0M631.6 352.2h0M610.5 325.7h0M621.1 369.9h0M637.7 358.7h0M556.4 321.8h0M564.1 302.6h0M549.7 311.3h0M578.1 302.0h0M551.1 319.7h0M578.3 299.8h0M562.2 312.3h0M580.4 310.5h0M653.0 345.0h0M573.8 304.4h0M589.9 305.6h0M558.3 336.4h0M607.5 328.9h0M560.3 297.7h0M587.7 311.6h0M578.6 318.4h0M551.9 324.3h0M552.8 313.4h0M559.9 319.8h0M617.0 313.9h0M555.2 323.3h0M572.9 321.8h0M565.1 321.6h0M554.8 315.9h0M621.4 376.6h0M622.0 315.0h0M573.7 296.8h0M571.2 319.6h0M554.9 319.8h0M545.6 335.9h0M565.0 298.2h0M559.0 332.3h0M567.1 321.4h0M582.2 310.2h0M586.1 313.3h0M575.6 315.7h0M614.6 373.6h0M632.4 347.7h0M640.1 350.7h0M618.2 327.1h0M636.6 363.0h0M552.8 312.8h0M552.8 338.6h0M588.7 312.9h0M641.0 373.3h0M575.9 303.8h0M565.1 306.9h0M544.4 323.8h0M570.2 310.9h0M638.7 319.4h0M577.4 320.8h0M645.9 369.8h0M593.4 312.4h0M583.8 317.9h0M590.0 303.3h0M565.3 316.2h0M567.7 302.5h0M649.8 337.2h0M570.0 302.8h0M550.3 319.4h0M627.5 327.7h0M664.0 341.9h0M622.6 320.7h0M570.5 321.1h0M552.6 338.2h0M625.2 357.7h0M624.1 384.5h0M581.8 309.3h0M629.7 312.6h0M565.0 323.6h0M634.9 380.9h0M545.1 320.9h0M554.8 339.2h0M611.9 332.6h0M644.7 350.1h0M624.6 310.8h0M552.2 312.0h0M557.7 315.9h0M631.0 328.4h0M586.7 305.7h0M589.4 315.9h0M553.6 331.0h0M655.8 350.2h0M577.3 310.0h0M574.6 315.2h0M561.0 305.9h0M637.4 353.3h0M615.5 356.5h0M623.8 373.8h0M547.8 331.8h0M625.5 311.7h0M634.1 347.2h0M571.1 322.7h0M585.9 304.1h0M607.5 361.8h0M543.7 326.3h0M638.8 331.6h0M562.4 324.0h0M561.6 322.1h0M652.1 337.0h0M564.0 304.0h0M552.4 313.4h0M639.4 325.3h0M637.3 319.2h0M622.2 368.3h0M585.8 300.1h0M569.4 298.5h0M571.7 296.1h0M622.2 334.7h0M547.8 324.9h0M569.6 320.0h0M547.0 316.8h0M569.4 300.1h0M559.2 316.9h0M576.4 312.5h0M610.7 349.0h0M570.5 315.3h0M627.3 382.9h0M563.8 303.8h0M551.5 310.2h0M577.6 303.3h0M611.5 345.7h0M547.0 315.5h0M578.7 300.1h0M635.3 345.1h0M590.0 316.2h0M617.2 362.6h0M564.8 319.5h0M637.5 331.2h0M616.3 358.6h0M556.8 312.2h0M563.7 309.3h0M585.5 308.1h0M623.3 337.2h0M618.5 369.6h0M555.5 325.0h0M554.3 333.9h0M573.2 314.2h0M561.9 313.1h0M631.7 342.6h0M620.7 323.3h0M566.3 316.2h0M577.6 317.1h0M586.5 312.2h0M563.9 322.4h0M560.1 321.6h0M573.0 306.6h0M609.2 373.0h0M609.9 323.2h0M624.3 355.7h0" stroke="#a480ea" stroke-width="2.5" stroke-linecap="round" fill="none"/>
<path d="M616.3 370.4h0M568.5 298.0h0M644.3 339.6h0M632.1 385.5h0M664.5 338.4h0M617.7 374.4h0M617.1 326.0h0M616.6 364.2h0M640.1 355.0h0M616.9 361.6h0M608.9 365.1h0M552.2 314.0h0M612.4 357.6h0M622.3 339.8h0M572.4 309.5h0M558.6 321.2h0M578.3 317.7h0M622.3 326.0h0M626.7 342.3h0M643.5 341.6h0M631.0 351.7h0M562.3 323.7h0M636.9 335.2h0M614.8 325.9h0M618.3 337.7h0M567.0 306.7h0M556.0 325.3h0M642.3 343.8h0M633.6 342.8h0M561.3 326.2h0M625.3 340.9h0M658.0 342.3h0M631.8 359.2h0M632.0 328.2h0M635.0 314.8h0M612.9 344.8h0M643.7 350.4h0M617.6 376.2h0M581.1 297.7h0M617.7 369.2h0M569.0 322.4h0M635.7 357.0h0M562.7 319.7h0M608.9 365.0h0M614.9 358.5h0M655.3 342.0h0M557.1 305.9h0M620.7 357.8h0M577.1 313.4h0M621.1 320.0h0M571.2 304.3h0M634.0 344.2h0M611.4 372.9h0M637.0 337.5h0M614.9 385.7h0M648.3 349.3h0M619.3 387.8h0M569.7 308.0h0M576.9 302.6h0M587.0 307.0h0M615.9 359.0h0M613.2 375.5h0M635.2 375.4h0M610.3 362.4h0M561.5 324.1h0M548.1 314.7h0M636.8 373.1h0M609.8 333.2h0M619.0 326.1h0M634.4 338.9h0M640.9 362.4h0M615.8 358.4h0M615.0 359.5h0M619.8 367.9h0M621.3 359.1h0M614.3 373.1h0M609.9 385.8h0M588.5 314.2h0M610.9 325.3h0M584.8 305.0h0M588.6 310.8h0M619.2 352.3h0M658.3 337.9h0M571.3 296.1h0M549.6 333.6h0M574.1 313.5h0M583.0 313.7h0M645.2 359.0h0M623.7 327.0h0M628.1 354.7h0M636.8 332.0h0M553.2 319.1h0M576.0 316.3h0M610.0 354.0h0M620.1 344.0h0M655.4 341.3h0M584.8 314.9h0M618.8 371.4h0M617.4 363.2h0M556.3 325.2h0M609.1 373.2h0M563.1 299.1h0M618.8 383.1h0M618.2 362.3h0M606.8 373.2h0M617.9 323.2h0M571.4 314.7h0M550.2 319.3h0M637.3 318.8h0M639.7 340.6h0M637.0 342.8h0M618.7 318.1h0M624.4 347.2h0M563.8 299.9h0M633.5 343.4h0M664.1 337.7h0M639.8 349.2h0M636.8 369.7h0M566.9 314.9h0M643.8 373.7h0M650.2 339.7h0M565.3 326.8h0M630.1 361.7h0M571.8 296.6h0M619.1 367.7h0M618.1 329.9h0M636.7 319.7h0M557.8 318.3h0M611.1 363.1h0M654.5 340.3h0M606.2 336.5h0M564.3 321.5h0M640.8 367.5h0M579.7 309.6h0M603.0 340.8h0M640.4 355.2h0M586.3 309.9h0M558.8 327.3h0M646.0 337.2h0M634.2 330.4h0M642.9 367.1h0M636.1 383.7h0M623.3 316.2h0M642.1 337.3h0M646.3 360.2h0M568.1 313.6h0M617.0 366.2h0M631.2 378.8h0M616.4 321.9h0M639.1 326.7h0M554.4 311.6h0M628.3 380.9h0M632.2 355.1h0M636.7 325.3h0M599.5 347.5h0M628.6 312.4h0M618.6 355.3h0M624.0 317.3h0M556.2 321.7h0M634.7 322.7h0M658.1 340.2h0M604.1 346.1h0M654.2 330.8h0M556.4 317.5h0M549.9 332.3h0M633.7 334.3h0M607.9 336.7h0M616.6 383.5h0M560.5 325.2h0M639.0 339.0h0M553.9 329.8h0M622.2 361.7h0M625.0 316.0h0M610.4 357.4h0M630.3 366.5h0M620.2 378.6h0M570.4 307.0h0M637.6 312.2h0M618.3 321.3h0M569.0 319.9h0M648.3 331.7h0M640.0 368.9h0M664.6 340.5h0M633.0 343.7h0M612.2 373.3h0M614.4 382.2h0M565.1 308.4h0M555.1 315.6h0M628.7 356.8h0M564.7 298.4h0M577.2 296.3h0M626.0 378.1h0M660.2 331.1h0M634.5 378.7h0M645.0 365.1h0M620.9 339.5h0M630.9 354.2h0M651.5 348.6h0M656.7 338.8h0M561.6 307.6h0M625.9 370.3h0M613.5 357.5h0M593.1 312.5h0M602.5 348.5h0M609.6 351.9h0M610.0 341.8h0M602.7 379.9h0M612.6 364.9h0M627.4 355.8h0M625.1 324.0h0M613.9 357.5h0M635.3 323.2h0M644.1 361.0h0M565.7 322.6h0M613.4 363.5h0M606.5 367.4h0M653.7 337.8h0M586.9 314.7h0M610.1 376.0h0M570.9 296.5h0M584.7 302.7h0M622.4 332.1h0M611.0 355.6h0M577.3 300.4h0M553.5 313.6h0M653.3 336.8h0M557.0 327.0h0M652.2 346.7h0M606.5 365.7h0M630.2 343.1h0M616.4 330.5h0M621.3 360.6h0M636.5 370.0h0M640.1 352.9h0M619.9 367.5h0M570.2 312.5h0M603.1 365.2h0M614.3 383.6h0M576.1 316.8h0M617.5 323.9h0M632.4 357.2h0M626.7 351.2h0M596.8 317.9h0M556.2 308.3h0M638.1 319.7h0M640.5 335.6h0M545.2 323.1h0M625.7 312.9h0M565.6 305.9h0M579.6 303.4h0M566.2 317.8h0M555.1 310.9h0M643.1 331.9h0M623.9 367.1h0M560.5 308.2h0M564.0 295.2h0M579.0 321.2h0M590.7 314.0h0M648.1 343.7h0M558.7 322.2h0M641.5 338.9h0M555.5 312.4h0M659.1 335.5h0M627.0 339.1h0M550.2 312.1h0M635.8 334.0h0M567.8 315.2h0M649.8 330.1h0M644.1 347.5h0M607.4 379.9h0M558.4 327.1h0M624.5 345.8h0M570.7 310.7h0M614.6 382.7h0M574.3 315.2h0M616.5 342.5h0M659.0 338.6h0M553.6 342.1h0M661.1 339.0h0M631.6 323.8h0M638.7 357.7h0M622.3 364.6h0M619.4 370.8h0M555.5 309.2h0M633.3 322.6h0M611.1 367.6h0M546.1 327.1h0M585.8 300.8h0M632.8 352.5h0M622.6 345.6h0M659.4 343.8h0M627.7 357.8h0M558.6 306.6h0M547.0 318.0h0M636.3 348.4h0M570.0 310.5h0M559.0 311.7h0M652.0 331.5h0M608.0 360.4h0M616.0 333.8h0M557.8 307.2h0M572.0 327.3h0M617.7 371.8h0M556.5 323.3h0M655.8 350.7h0M590.4 304.1h0M638.5 350.3h0M645.4 351.4h0M625.1 326.2h0M581.7 322.3h0M568.2 303.9h0M615.8 345.1h0M626.6 323.9h0M620.1 364.1h0M640.1 363.7h0M624.0 314.3h0M605.8 340.3h0M640.0 332.4h0M628.9 354.6h0M557.8 322.2h0M581.1 301.9h0M648.6 350.3h0M574.4 318.3h0M552.8 323.9h0M636.5 337.3h0M633.5 346.5h0M646.9 330.4h0" stroke="#9d77ec" stroke-width="2.5" stroke-linecap="round" fill="none"/>
<path d="M617.3 365.8h0M633.8 388.0h0M590.9 329.0h0M640.3 370.8h0M631.4 316.3h0M587.6 313.9h0M615.4 352.7h0M583.6 311.4h0M610.4 351.8h0M634.9 326.4h0M610.4 361.0h0M549.5 309.6h0M628.2 348.5h0M641.6 334.8h0M611.4 341.9h0M645.5 364.8h0M618.3 361.6h0M620.9 331.4h0M632.2 354.0h0M629.7 352.7h0M595.2 335.0h0M659.3 332.1h0M625.7 380.3h0M619.5 361.2h0M594.7 325.3h0M620.2 377.6h0M620.4 366.9h0M587.1 311.0h0M647.0 354.5h0M622.9 319.0h0M613.6 331.5h0M638.7 347.2h0M636.8 340.8h0M646.7 347.2h0M626.9 317.2h0M618.5 361.1h0M627.0 315.0h0M626.0 363.9h0M555.6 321.9h0M582.2 310.4h0M627.1 352.2h0M629.4 329.6h0M630.7 372.6h0M609.4 363.6h0M616.4 365.9h0M610.0 335.1h0M618.2 336.1h0M616.9 372.2h0M549.6 330.1h0M608.0 359.4h0M642.7 362.4h0M575.3 300.9h0M613.9 370.9h0M571.4 301.7h0M635.3 378.4h0M614.3 349.1h0M622.5 324.6h0M559.5 340.1h0M566.8 318.7h0M578.5 314.1h0M556.8 316.0h0M626.9 353.4h0M610.4 371.4h0M628.8 385.4h0M650.1 345.9h0M637.4 386.4h0M627.4 357.9h0M647.3 343.9h0M636.5 336.8h0M644.3 339.9h0M636.2 376.6h0M635.3 357.2h0M620.5 332.5h0M629.7 342.6h0M592.9 317.1h0M641.0 340.7h0M588.1 310.1h0M619.0 325.8h0M583.0 311.4h0M635.6 333.1h0M657.2 343.1h0M578.8 321.9h0M587.3 303.7h0M569.1 327.3h0M626.8 346.9h0M612.9 363.3h0M633.4 346.6h0M645.2 343.3h0M567.1 315.9h0M612.3 384.1h0M560.0 313.9h0M613.2 356.5h0M628.4 359.2h0M608.6 351.0h0M599.0 313.2h0M596.4 332.8h0M635.5 355.2h0M635.7 358.2h0M635.1 380.9h0M553.9 329.0h0M629.2 375.0h0M579.2 314.1h0M566.6 299.6h0M566.6 299.9h0M624.6 342.0h0M631.9 336.7h0M625.9 353.2h0M631.8 389.5h0M607.7 326.6h0M612.7 348.8h0M624.9 318.9h0M574.0 304.9h0M636.2 315.2h0M621.2 367.0h0M615.7 371.5h0M564.4 315.2h0M588.1 306.2h0M612.6 362.7h0M583.4 309.8h0M650.6 331.7h0M564.6 313.9h0M645.6 328.8h0M625.7 351.5h0M621.9 333.0h0M634.8 319.0h0M628.2 333.7h0M590.8 307.6h0M569.7 307.1h0M575.6 303.8h0M585.6 311.2h0M651.9 346.1h0M552.4 337.5h0M610.6 363.1h0M614.0 323.3h0M578.1 319.9h0M652.9 342.0h0M610.1 343.4h0M582.3 312.5h0M566.0 303.7h0M627.1 378.4h0M619.5 328.5h0M610.9 353.2h0M565.1 312.0h0M551.2 327.7h0M574.4 318.0h0M638.0 381.1h0M640.9 351.6h0M644.4 346.1h0M588.2 316.4h0M653.8 336.2h0M626.0 353.8h0M637.1 371.9h0M565.3 295.7h0M648.8 372.3h0M627.2 365.4h0M606.2 341.6h0M616.7 384.5h0M579.6 297.2h0M635.0 380.2h0M641.0 345.5h0M633.7 378.6h0M617.8 321.0h0M593.5 314.0h0M636.4 365.1h0M613.3 375.4h0M646.7 343.1h0M628.2 364.2h0M622.0 361.8h0M630.3 339.0h0M627.5 367.1h0M627.8 333.0h0M556.8 329.3h0M630.5 369.6h0M569.1 303.3h0M633.9 331.8h0M641.8 368.9h0M610.2 362.4h0M616.3 363.5h0M621.6 370.4h0M618.1 333.5h0M658.5 344.4h0M644.9 368.1h0M649.2 364.6h0M639.8 355.7h0M660.3 335.6h0M615.8 379.5h0M617.5 380.7h0M641.3 360.6h0M654.9 327.4h0M551.5 317.7h0M609.2 361.4h0M629.8 355.1h0M631.8 342.8h0M633.8 314.6h0M641.1 377.4h0M623.4 319.0h0M625.0 372.7h0M626.3 323.3h0M604.9 338.8h0M570.9 314.4h0M621.2 344.4h0M629.8 372.1h0M559.8 320.6h0M562.5 324.0h0M654.5 352.8h0M556.6 335.8h0M625.6 320.8h0M607.8 345.9h0M563.4 297.3h0M609.1 369.6h0M569.6 317.2h0M629.5 322.1h0M657.9 339.4h0M661.0 347.2h0M626.3 335.0h0M617.9 359.1h0M628.4 327.1h0M580.3 304.8h0M627.3 317.3h0M631.4 309.5h0M610.7 363.8h0M636.6 379.2h0M609.0 334.9h0M662.4 347.0h0M638.3 318.0h0M657.0 340.7h0M622.1 383.2h0M637.6 347.8h0M608.6 336.5h0M633.7 347.2h0M587.4 303.2h0M551.7 321.5h0M640.2 357.7h0M570.7 298.1h0M612.5 366.1h0M583.3 315.1h0M613.6 349.7h0M623.3 378.4h0M639.8 349.3h0M586.9 313.5h0M622.2 382.1h0M626.4 339.3h0M658.9 337.9h0M612.1 357.5h0M567.2 311.7h0M652.5 340.5h0M615.6 336.6h0M584.4 308.4h0M613.6 317.9h0M609.0 361.7h0M589.9 304.1h0M618.2 366.0h0M620.1 373.2h0M606.3 376.6h0M649.1 357.5h0M565.7 294.2h0M619.6 375.0h0M584.1 310.0h0M652.8 329.8h0M599.6 316.2h0M583.1 307.1h0M608.6 357.8h0M627.3 316.1h0M625.1 378.3h0M616.3 328.7h0M653.9 345.1h0M606.7 334.3h0M627.3 376.9h0M624.5 355.5h0M552.8 306.2h0M601.2 337.9h0M552.4 311.3h0M627.8 315.4h0M621.6 354.3h0M611.7 334.5h0M574.2 319.4h0M548.2 328.0h0M631.4 342.4h0M621.5 319.3h0M635.6 314.0h0M572.1 320.5h0M575.0 317.8h0M615.8 320.1h0M635.2 331.6h0M618.8 355.5h0M621.7 372.6h0M622.3 355.8h0M624.4 378.1h0M625.9 325.2h0" stroke="#966eee" stroke-width="2.5" stroke-linecap="round" fill="none"/>
<path d="M621.9 368.7h0M619.8 319.1h0M611.0 358.3h0M605.1 334.9h0M636.5 327.4h0M594.8 339.9h0M636.0 309.9h0M606.6 353.9h0M634.4 381.4h0M626.1 379.0h0M640.7 356.9h0M635.4 317.3h0M626.0 317.9h0M629.7 362.7h0M636.0 369.3h0M621.7 331.3h0M613.7 363.8h0M626.6 325.8h0M656.3 341.5h0M623.4 338.6h0M626.5 379.1h0M651.5 351.5h0M641.5 333.5h0M621.2 357.5h0M625.6 360.4h0M641.6 360.3h0M627.9 388.8h0M616.3 332.2h0M643.2 372.9h0M633.8 384.7h0M634.1 387.5h0M639.9 354.4h0M643.2 362.7h0M623.4 342.2h0M643.8 364.0h0M625.5 324.6h0M619.9 337.4h0M642.6 375.1h0M641.5 366.7h0M610.1 329.1h0M647.8 336.8h0M639.5 376.9h0M628.0 325.4h0M620.4 329.1h0M634.8 351.9h0M640.8 337.5h0M637.6 355.1h0M636.7 338.6h0M625.2 375.0h0M624.0 317.2h0M625.0 368.7h0M613.4 328.6h0M644.4 328.6h0M636.6 369.8h0M642.8 361.0h0M618.2 379.0h0M632.7 318.3h0M609.7 347.3h0M628.9 383.8h0M640.8 340.3h0M646.5 364.2h0M607.2 340.7h0M629.3 378.7h0M648.9 348.8h0M636.8 320.4h0M641.4 331.4h0M612.6 354.2h0M635.5 317.7h0M618.5 361.2h0M658.0 345.7h0M638.7 379.6h0M612.2 343.8h0M637.5 359.7h0M634.1 316.7h0M638.4 381.1h0M616.1 323.5h0M632.5 352.6h0M622.2 344.9h0M631.9 377.4h0M630.2 363.6h0M636.0 360.9h0M624.6 332.9h0M637.5 324.7h0M614.9 378.6h0M622.8 320.8h0M625.0 348.2h0M621.7 372.4h0M634.4 377.4h0M613.2 355.6h0M618.3 337.4h0M618.3 372.6h0M612.0 334.4h0M645.7 352.7h0M612.9 341.5h0M644.6 342.1h0M646.6 354.7h0M618.1 379.6h0M640.5 361.9h0M622.7 365.2h0M649.0 339.7h0M607.2 351.4h0M630.1 368.9h0M612.6 336.9h0M611.9 355.1h0M628.9 377.7h0M631.5 333.6h0M650.0 341.3h0M622.2 388.2h0M625.6 383.6h0M625.2 370.6h0M607.5 369.9h0M626.6 337.9h0M653.5 348.1h0M611.1 368.7h0M625.9 319.5h0M652.2 335.3h0M634.2 325.4h0M612.2 369.0h0M608.0 346.9h0M655.5 350.7h0M625.4 348.3h0M624.9 320.3h0M651.9 334.8h0M597.0 334.5h0M636.9 356.0h0M648.1 334.4h0M612.6 370.0h0M608.9 334.6h0M622.3 346.9h0M636.7 370.4h0M634.8 321.8h0M621.2 359.9h0M623.2 349.0h0M629.4 336.0h0M646.1 333.3h0" stroke="#8e65f0" stroke-width="2.5" stroke-linecap="round" fill="none"/>
<path d="M615.6 358.3h0M626.6 340.8h0M621.8 355.2h0M635.0 368.5h0M629.1 340.7h0M600.3 337.6h0M659.7 345.4h0M610.2 352.9h0M639.3 330.7h0M611.9 327.3h0M644.6 378.6h0M627.4 378.3h0M663.1 334.8h0M626.0 336.7h0M594.0 319.4h0M647.4 334.2h0M629.3 318.6h0M635.4 332.4h0M642.8 365.4h0M607.1 330.8h0M652.1 332.6h0M633.9 335.4h0M613.3 381.3h0M611.0 332.3h0M615.0 354.8h0M618.8 332.7h0M634.6 377.1h0M632.1 366.7h0M618.3 371.7h0M654.7 340.9h0M608.3 363.0h0M586.1 322.8h0M618.6 370.1h0M643.8 338.0h0M622.3 313.3h0M618.9 335.4h0M655.5 334.8h0M659.2 335.3h0M621.0 381.8h0M635.1 362.9h0M623.8 346.4h0M610.8 378.8h0M625.8 369.6h0M619.3 338.8h0M629.6 327.6h0M631.1 376.8h0M620.8 339.7h0M605.1 338.3h0M614.4 377.9h0M633.3 319.0h0M611.7 357.4h0M617.8 313.3h0M618.4 370.1h0M620.7 381.4h0M609.1 364.6h0M642.8 334.5h0M622.1 381.2h0M646.8 345.4h0M627.8 371.5h0M616.8 336.6h0M629.1 338.9h0M646.3 339.8h0M622.1 347.8h0M622.6 382.8h0M596.4 328.9h0M651.4 332.3h0M611.5 377.0h0M615.7 315.4h0M630.2 359.7h0M615.3 329.5h0M650.6 341.8h0M596.9 320.0h0M636.4 316.2h0M631.2 354.8h0M640.5 320.0h0M643.2 369.7h0M618.6 330.1h0M637.2 375.3h0M616.3 335.8h0M625.3 345.1h0M610.2 326.8h0M626.5 352.5h0M624.5 366.9h0M617.6 327.5h0M643.6 343.6h0M624.8 350.5h0M633.7 335.3h0M634.9 341.0h0M604.0 356.6h0M627.0 361.9h0M621.9 378.9h0M637.9 368.8h0M625.6 356.4h0M623.4 347.4h0M636.8 363.2h0M631.7 362.3h0M640.4 339.7h0M631.2 363.2h0M608.5 333.0h0M641.0 349.2h0M619.7 373.5h0M644.5 343.7h0M631.5 322.6h0M614.4 365.0h0M636.1 322.6h0M615.5 349.2h0M612.7 381.4h0M600.8 313.9h0M634.0 371.0h0M651.0 331.4h0M636.8 350.2h0M611.8 335.7h0M642.3 359.1h0M632.9 336.8h0M635.7 387.9h0M620.6 330.6h0M629.7 374.1h0M619.4 364.7h0M626.6 370.8h0M646.6 359.6h0M637.9 328.6h0M616.9 386.7h0M653.0 343.3h0M627.7 375.3h0" stroke="#855bf2" stroke-width="2.5" stroke-linecap="round" fill="none"/>
<path d="M654.4 336.2h0M636.3 387.9h0M606.6 339.3h0M638.3 381.9h0M642.4 358.2h0M599.9 339.1h0M616.9 355.2h0M637.6 370.9h0M618.2 383.9h0M628.5 321.4h0M597.6 333.2h0M627.7 322.9h0M626.9 387.4h0M631.5 323.4h0M611.9 353.4h0M598.6 330.0h0M625.9 375.5h0M621.7 330.6h0M627.5 342.7h0M627.9 331.1h0M634.7 324.4h0M641.2 362.1h0M617.2 370.2h0M600.2 334.5h0M615.6 376.9h0" stroke="#7c51f4" stroke-width="2.5" stroke-linecap="round" fill="none"/>
<path d="M588.1 316.8h0M598.6 321.0h0M602.9 329.3h0M604.1 345.6h0M625.0 317.4h0M654.3 339.7h0M598.3 332.4h0M654.3 331.8h0M637.7 364.8h0M630.7 373.4h0M588.3 311.4h0M633.9 323.6h0M602.5 340.9h0M613.6 378.9h0M595.3 337.5h0M606.4 357.6h0M622.7 318.7h0M602.0 339.4h0M599.0 333.0h0M626.0 337.4h0M602.4 336.7h0M603.8 336.7h0M625.6 358.9h0M604.3 338.7h0M599.6 329.0h0M614.3 337.8h0" stroke="#7248f6" stroke-width="2.5" stroke-linecap="round" fill="none"/>
<path d="M645.4 367.3h0M621.5 336.0h0M618.4 390.4h0M655.9 339.1h0M608.0 345.3h0M654.3 346.0h0M603.9 335.6h0M590.0 318.3h0M619.9 368.6h0M611.0 368.8h0M621.1 375.2h0M615.1 356.4h0M621.8 336.9h0M648.2 336.3h0M599.6 321.0h0M608.9 353.7h0M657.0 350.4h0M647.5 340.2h0M623.6 343.7h0M620.9 375.4h0M621.3 363.5h0M641.8 368.2h0M619.9 332.9h0M625.8 360.1h0M658.2 341.8h0M635.1 322.3h0M613.4 346.6h0M618.1 358.8h0" stroke="#673df8" stroke-width="2.5" stroke-linecap="round" fill="none"/>
<path d="M616.9 345.8h0M628.4 375.2h0M632.9 345.7h0M616.6 372.8h0M627.3 354.5h0M617.8 368.8h0M638.5 375.7h0M613.6 359.2h0M626.8 357.6h0M619.2 370.2h0M647.1 360.9h0M634.7 343.8h0M650.2 344.5h0M642.4 374.6h0M638.1 337.2h0M616.7 339.4h0M647.0 335.2h0M647.6 363.9h0M627.6 336.8h0M618.5 377.5h0M635.8 355.3h0M638.6 331.6h0M632.0 364.0h0M650.6 334.8h0M627.4 361.7h0M615.1 368.4h0M620.5 353.4h0M624.9 342.7h0M610.9 333.1h0M646.1 370.1h0M631.3 381.6h0M613.7 332.2h0M628.5 374.8h0" stroke="#5932fa" stroke-width="2.5" stroke-linecap="round" fill="none"/>
<path d="M626.9 371.3h0M652.5 345.7h0M605.3 346.7h0M633.6 324.4h0M621.8 342.8h0M637.0 315.9h0M626.2 328.1h0M608.6 374.0h0M625.9 334.5h0M629.4 387.7h0" stroke="#4926fb" stroke-width="2.5" stroke-linecap="round" fill="none"/>
<line x1="521.5" y1="255" x2="521.5" y2="408.9" stroke="#333" stroke-width="1.2"/>
<line x1="520.9" y1="408.3" x2="675" y2="408.3" stroke="#333" stroke-width="1.2"/>
<line x1="518.8" y1="262.1" x2="521.5" y2="262.1" stroke="#333" stroke-width="1.2"/>
<text x="517" y="265.5" font-size="9.0" text-anchor="end" font-weight="normal" fill="#3a3a3a" >5.0</text>
<line x1="518.8" y1="296.8" x2="521.5" y2="296.8" stroke="#333" stroke-width="1.2"/>
<text x="517" y="300.2" font-size="9.0" text-anchor="end" font-weight="normal" fill="#3a3a3a" >2.5</text>
<line x1="518.8" y1="331.5" x2="521.5" y2="331.5" stroke="#333" stroke-width="1.2"/>
<text x="517" y="334.9" font-size="9.0" text-anchor="end" font-weight="normal" fill="#3a3a3a" >0.0</text>
<line x1="518.8" y1="366.2" x2="521.5" y2="366.2" stroke="#333" stroke-width="1.2"/>
<text x="514.8" y="369.6" font-size="9.0" text-anchor="end" font-weight="normal" fill="#3a3a3a" >2.5</text>
<line x1="500.2" y1="366.8" x2="503.4" y2="366.8" stroke="#3a3a3a" stroke-width="0.9"/>
<line x1="518.8" y1="400.9" x2="521.5" y2="400.9" stroke="#333" stroke-width="1.2"/>
<text x="514.8" y="404.3" font-size="9.0" text-anchor="end" font-weight="normal" fill="#3a3a3a" >6.0</text>
<line x1="500.2" y1="401.5" x2="503.4" y2="401.5" stroke="#3a3a3a" stroke-width="0.9"/>
<line x1="560.3" y1="408.3" x2="560.3" y2="411" stroke="#333" stroke-width="1.2"/>
<text x="560.3" y="419.6" font-size="8.9" text-anchor="middle" font-weight="normal" fill="#3a3a3a" >-4</text>
<line x1="603.7" y1="408.3" x2="603.7" y2="411" stroke="#333" stroke-width="1.2"/>
<text x="603.7" y="419.6" font-size="8.9" text-anchor="middle" font-weight="normal" fill="#3a3a3a" >0</text>
<line x1="646.7" y1="408.3" x2="646.7" y2="411" stroke="#333" stroke-width="1.2"/>
<text x="646.7" y="419.6" font-size="8.9" text-anchor="middle" font-weight="normal" fill="#3a3a3a" >4</text>
<text x="579.2" y="431.5" font-size="11" textLength="37.9" lengthAdjust="spacingAndGlyphs">UMAP_1</text>
<text x="502.4" y="350" font-size="11.2" textLength="38" lengthAdjust="spacingAndGlyphs" transform="rotate(-90 502.4 350)">UMAP_2</text>
<text x="567.4" y="251.2" font-size="10.9" font-weight="bold" textLength="60.2" lengthAdjust="spacingAndGlyphs">IL7R (CD127)</text>
<path d="M617.1 532.3h0M623.8 552.7h0M637.9 575.1h0M627.1 558.5h0M632.2 561.4h0M626.2 534.4h0M607.2 547.0h0M623.4 525.3h0M635.3 584.7h0M622.3 519.6h0M626.0 524.2h0M663.4 546.7h0M628.9 584.0h0M634.9 532.7h0M608.5 539.3h0M609.1 579.5h0M621.2 563.8h0M615.9 565.3h0M630.1 568.0h0M620.5 538.8h0M622.5 530.9h0M608.9 571.3h0M604.1 551.9h0M648.3 555.6h0M655.3 548.3h0M629.7 518.9h0M645.2 549.6h0M610.0 541.4h0M618.3 567.9h0M646.3 546.1h0M626.1 585.3h0M620.9 581.7h0M627.5 534.0h0M633.8 520.9h0M630.5 575.9h0M652.2 541.6h0M659.2 541.6h0M621.0 588.1h0M612.6 560.5h0M622.1 587.5h0M648.8 578.6h0M633.4 552.9h0M614.8 532.2h0M623.4 544.9h0M646.3 566.5h0M634.4 587.7h0M618.1 536.2h0M636.7 526.0h0M624.1 590.8h0M645.9 576.1h0M641.5 539.8h0M656.7 545.1h0M643.2 569.0h0M606.8 579.5h0M589.9 511.9h0M658.5 550.7h0M648.3 538.0h0M627.3 522.4h0M610.1 535.4h0M605.3 553.0h0M610.4 563.7h0M654.9 533.7h0M638.7 525.7h0M618.6 561.6h0M618.2 542.4h0M594.7 531.6h0M606.3 582.9h0M654.5 546.6h0M655.5 541.1h0M643.8 580.0h0M637.4 592.7h0M609.4 569.9h0M623.8 580.1h0M610.5 532.0h0M632.9 552.0h0M618.2 533.4h0M609.6 558.2h0M626.0 584.4h0M653.5 554.4h0M648.2 542.6h0M617.8 575.1h0M617.8 519.6h0M658.1 546.5h0M621.1 526.3h0M627.5 573.4h0M630.2 566.0h0M617.3 572.1h0M634.4 545.2h0M652.5 552.0h0M644.3 545.9h0M637.5 531.0h0M616.9 552.1h0M639.4 531.6h0M617.7 580.7h0M628.0 531.7h0M629.2 581.3h0M625.9 559.5h0M610.2 559.2h0M614.6 589.0h0M621.8 549.1h0M615.7 577.8h0M632.0 534.5h0M624.0 523.6h0M621.5 542.3h0M608.0 565.7h0M617.6 533.8h0M602.5 554.8h0M633.8 594.3h0M609.7 553.6h0M646.0 543.5h0M629.4 535.9h0M615.6 564.6h0M647.8 543.1h0M620.7 587.7h0M610.9 531.6h0M640.5 526.3h0M622.1 554.1h0M657.0 547.0h0M615.4 559.0h0M622.3 532.3h0M645.5 571.1h0M641.0 547.0h0M617.3 539.9h0M606.2 542.8h0M633.7 540.6h0M627.1 584.7h0M623.7 533.3h0M611.4 548.2h0M632.4 554.0h0M636.9 541.5h0M625.8 575.9h0M635.0 586.5h0M635.5 561.5h0M616.6 589.8h0M629.3 585.0h0M618.7 524.4h0M580.4 516.8h0M628.1 561.0h0M642.8 567.3h0M629.6 533.9h0M607.5 535.2h0M628.5 527.7h0M611.7 563.7h0M637.5 566.0h0M594.8 546.2h0M630.7 579.7h0M634.2 531.7h0M608.0 551.6h0M625.0 522.3h0M639.3 537.0h0M648.1 540.7h0M651.9 541.1h0M631.5 528.9h0M610.1 549.7h0M613.2 561.9h0M642.8 540.8h0M620.9 537.7h0M641.5 573.0h0M631.0 534.7h0M623.7 541.7h0M607.5 568.1h0M645.6 535.1h0M611.1 569.4h0M635.7 564.5h0M638.7 553.5h0M635.2 581.7h0M629.5 528.4h0M606.5 573.7h0M629.7 569.0h0M609.1 575.9h0M642.9 573.4h0M623.9 573.4h0M631.0 558.0h0M659.7 551.7h0M606.5 572.0h0M637.6 577.2h0M610.4 577.7h0M638.3 588.2h0M618.6 536.4h0M621.9 585.2h0M613.2 581.8h0M607.7 532.9h0M640.1 561.3h0M611.0 561.9h0M636.5 576.3h0M618.3 543.7h0M614.0 529.6h0M616.7 590.8h0M627.9 595.1h0M645.7 559.0h0M640.0 575.2h0M599.9 545.4h0M608.6 580.3h0M634.2 536.7h0M616.7 545.7h0M608.3 569.3h0M621.2 573.3h0M624.5 573.2h0M636.0 575.6h0M610.0 560.3h0M615.1 574.7h0M618.9 541.7h0M620.2 583.9h0M637.1 578.2h0M637.0 543.8h0M644.5 550.0h0M632.1 591.8h0M625.0 523.7h0M624.8 556.8h0M618.2 590.2h0M602.7 586.2h0M611.9 538.9h0M636.8 576.0h0M645.0 571.4h0M613.3 581.7h0M634.8 558.2h0M603.0 547.1h0M656.3 547.8h0M637.0 522.2h0M621.3 565.4h0M626.0 570.2h0M612.9 551.1h0M631.5 539.9h0M634.1 523.0h0M625.6 566.7h0M619.5 567.5h0M655.5 557.0h0M613.6 565.5h0M631.5 529.7h0M615.7 521.7h0M647.3 550.2h0M622.3 546.1h0M608.9 571.4h0M646.7 553.5h0M635.1 587.2h0M622.9 525.3h0M612.7 587.7h0M612.7 555.1h0M640.4 561.5h0M624.4 553.5h0M651.5 554.9h0M622.6 589.1h0M650.6 541.1h0M609.1 570.9h0M564.6 520.2h0M614.9 564.8h0M646.7 549.4h0M645.4 573.6h0M616.6 579.1h0M627.0 545.4h0M617.9 529.5h0M631.6 558.5h0M640.1 557.0h0M635.3 529.5h0M623.4 548.5h0M615.1 562.7h0M636.0 516.2h0M642.1 543.6h0M618.2 568.6h0M585.6 517.5h0M636.4 522.5h0M634.0 550.5h0M648.9 555.1h0M613.4 534.9h0M622.8 527.1h0M634.1 593.8h0M631.2 585.1h0M633.5 549.7h0M631.9 583.7h0M652.9 548.3h0M610.2 568.7h0M637.6 561.4h0M617.8 527.3h0M659.1 541.8h0M609.8 539.5h0M634.4 583.7h0M635.1 569.2h0M620.7 564.1h0M619.9 543.7h0M636.5 533.7h0M625.7 557.8h0M616.3 542.1h0M629.1 545.2h0M651.4 538.6h0M638.3 524.3h0M616.4 536.8h0M636.3 594.2h0M597.6 539.5h0M619.2 558.6h0M643.2 579.2h0M636.7 544.9h0M651.5 557.8h0M653.7 544.1h0M614.6 579.9h0M640.9 557.9h0M633.3 525.3h0M612.4 563.9h0M620.4 573.2h0M640.8 546.6h0M654.7 547.2h0M642.8 571.7h0M650.2 550.8h0M632.7 524.6h0M624.9 525.2h0M619.3 545.1h0M633.9 538.1h0M633.9 529.9h0M642.4 564.5h0M636.8 538.3h0M625.5 530.9h0M629.3 524.9h0M644.4 552.4h0M599.5 553.8h0M637.3 525.1h0M618.3 527.6h0M614.9 592.0h0M627.6 543.1h0M633.7 541.6h0M632.5 558.9h0M622.2 551.2h0M639.8 555.5h0M641.6 566.6h0M613.9 563.8h0M626.7 548.6h0M610.9 559.5h0M654.3 546.0h0M637.4 559.6h0M630.2 569.9h0M633.0 550.0h0M644.4 534.9h0M637.7 565.0h0M627.4 564.2h0M636.0 567.2h0M641.4 537.7h0M624.6 539.2h0M628.7 563.1h0M636.4 571.4h0M646.6 561.0h0M626.9 593.7h0M628.2 570.5h0M612.3 590.4h0M618.5 567.4h0M649.8 543.5h0M619.8 574.2h0M627.8 539.3h0M621.4 582.9h0M622.2 568.0h0M615.0 565.8h0M610.6 569.4h0M637.2 581.6h0M628.3 587.2h0M603.1 571.5h0M650.0 547.6h0M614.9 584.9h0M633.6 530.7h0M635.0 574.8h0M625.3 551.4h0M618.1 539.8h0M634.8 525.3h0M638.9 518.6h0M644.9 574.4h0M632.2 560.3h0M620.4 535.4h0M654.4 542.5h0M642.4 580.9h0M615.8 585.8h0M626.5 558.8h0M633.8 591.0h0M613.5 563.8h0M615.5 562.8h0M628.2 554.8h0M606.6 545.6h0M612.6 569.0h0M630.3 572.8h0M614.3 589.9h0M609.2 567.7h0M628.9 590.1h0M636.2 521.5h0M605.1 544.6h0M610.0 548.1h0M613.2 562.8h0M625.0 554.5h0M647.4 540.5h0M609.9 592.1h0M626.3 529.6h0M654.5 559.1h0M618.5 583.8h0M627.4 562.1h0M661.1 545.3h0M599.6 527.3h0M621.2 550.7h0M632.1 573.0h0M662.4 553.3h0M623.3 522.5h0M664.1 544.0h0M608.9 560.0h0M634.5 585.0h0M617.0 572.5h0M653.0 551.3h0M654.3 538.1h0M622.6 527.0h0M636.1 590.0h0M610.3 568.7h0M621.9 539.3h0M618.3 578.9h0M648.1 550.0h0M618.2 585.3h0M629.7 559.0h0M654.3 552.3h0M631.2 569.5h0M658.2 548.1h0M653.8 542.5h0M612.0 540.7h0M630.2 549.4h0M626.3 541.3h0M652.8 536.1h0M612.2 579.6h0M637.3 525.5h0M625.6 562.7h0M612.9 547.8h0M615.5 555.5h0M622.2 541.0h0M631.4 515.8h0M618.8 589.4h0M640.1 559.2h0M635.5 524.0h0M636.8 569.5h0M612.6 571.2h0M640.4 546.0h0M634.7 529.0h0M629.1 547.0h0M625.1 530.3h0M617.4 569.5h0M623.6 550.0h0M638.6 537.9h0M617.5 530.2h0M632.0 570.3h0M622.1 589.5h0M640.5 568.2h0M622.7 571.5h0M632.4 563.5h0M626.7 557.5h0M637.6 554.1h0M664.6 546.8h0M636.8 579.4h0M610.7 555.3h0M633.7 553.5h0M619.6 581.3h0M607.2 557.7h0M630.1 575.2h0M627.3 589.2h0M640.5 541.9h0M612.6 543.2h0M611.9 561.4h0M614.4 588.5h0M640.2 564.0h0M620.5 559.7h0M635.0 521.1h0M621.3 569.8h0M643.7 556.7h0M612.5 572.4h0M664.0 548.2h0M636.6 576.1h0M623.3 584.7h0M660.3 541.9h0M639.8 555.6h0M661.0 553.5h0M622.2 594.5h0M625.6 589.9h0M636.1 523.3h0M622.2 588.4h0M614.4 571.3h0M659.3 538.4h0M607.5 576.2h0M636.1 528.9h0M626.4 545.6h0M620.9 545.8h0M640.8 573.8h0M612.1 563.8h0M618.5 567.5h0M641.8 574.5h0M659.0 544.9h0M621.7 536.9h0M641.5 545.2h0M600.8 520.2h0M657.2 549.4h0M624.9 549.0h0M619.9 539.2h0M635.8 540.3h0M610.9 539.4h0M634.0 577.3h0M653.3 543.1h0M644.1 553.8h0M609.2 579.3h0M625.6 565.2h0M618.2 572.3h0M637.5 537.5h0M620.1 579.5h0M625.9 525.8h0M658.3 544.2h0M635.1 528.6h0M649.8 536.4h0M651.0 537.7h0M627.5 549.0h0M638.7 564.0h0M637.6 518.5h0M604.3 545.0h0M622.3 570.9h0M649.1 563.8h0M612.2 575.3h0M608.0 553.2h0M632.8 558.8h0M622.6 551.9h0M634.8 528.1h0M627.7 564.1h0M634.7 530.7h0M625.4 554.6h0M626.9 523.5h0M613.4 569.8h0M599.6 522.5h0M642.3 565.4h0M636.3 554.7h0M641.2 568.4h0M613.7 538.5h0M608.6 564.1h0M652.0 537.8h0M599.6 535.3h0M636.9 562.3h0M608.0 566.7h0M625.7 519.2h0M625.1 584.6h0M616.3 535.0h0M631.7 548.9h0M619.8 525.4h0M620.6 536.9h0M653.9 551.4h0M629.7 580.4h0M655.8 557.0h0M645.4 557.7h0M606.7 540.6h0M627.3 583.2h0M625.1 532.5h0M624.5 561.8h0M619.2 576.5h0M628.5 581.1h0M614.3 544.1h0M612.6 576.3h0M608.9 540.9h0M622.3 553.2h0M601.2 544.2h0M627.8 521.7h0M615.8 551.4h0M626.6 530.2h0M620.1 570.4h0M640.1 570.0h0M621.6 560.6h0M624.0 520.6h0M605.8 546.6h0M611.7 540.8h0M640.0 538.7h0M615.6 583.2h0M631.4 548.7h0M621.5 525.6h0M646.6 565.9h0M635.6 520.3h0M613.4 552.9h0M625.9 540.8h0M637.9 534.9h0M629.4 542.3h0M616.3 576.7h0M618.1 565.1h0M615.8 526.4h0M618.8 561.8h0M621.7 578.9h0M616.9 567.9h0M622.3 562.1h0M624.4 584.4h0M636.5 543.6h0M624.3 562.0h0M618.8 577.7h0M604.0 562.9h0M627.2 571.7h0" stroke="#d3d3d3" stroke-width="2.5" stroke-linecap="round" fill="none"/>
<path d="M628.4 565.5h0M646.3 563.8h0M624.6 548.3h0M636.7 531.6h0M615.0 561.1h0M610.4 567.3h0M633.9 541.7h0M647.6 570.2h0M614.3 555.4h0M627.0 521.3h0M638.4 587.4h0M644.7 556.4h0M639.7 546.9h0M640.3 577.1h0M654.2 537.1h0M645.2 565.3h0M639.9 560.7h0M627.3 560.8h0M643.5 547.9h0M624.0 523.5h0M611.9 533.6h0M652.5 546.8h0M595.2 541.3h0M619.0 532.1h0M605.1 541.2h0M616.4 572.2h0M615.8 564.7h0M626.8 563.9h0M635.3 563.5h0M570.3 518.4h0M631.9 543.0h0M642.6 581.4h0M616.9 561.5h0M586.1 519.6h0M616.6 570.5h0M657.0 556.7h0M641.6 541.1h0M617.7 575.5h0M617.0 520.2h0M647.0 560.8h0M626.0 543.0h0M630.9 560.5h0M611.0 564.6h0M614.4 584.2h0M641.3 566.9h0M638.7 585.9h0M631.2 561.1h0M631.8 565.5h0M634.9 587.2h0M620.1 550.3h0M635.6 539.4h0M640.7 563.2h0M621.9 575.0h0M631.6 530.1h0M636.8 547.1h0M625.2 564.0h0M604.9 545.1h0M618.3 578.0h0M620.2 584.9h0M616.1 529.8h0M659.4 550.1h0M641.0 551.8h0M658.0 548.6h0M640.9 568.7h0M633.7 584.9h0M641.8 575.2h0M625.5 518.0h0M647.5 546.5h0M626.6 547.1h0M643.6 549.9h0M619.9 574.9h0M634.1 553.5h0M629.8 561.4h0M617.6 582.5h0M638.8 537.9h0M635.8 561.6h0M644.1 567.3h0M552.4 519.7h0M615.3 535.8h0M625.9 576.6h0M607.8 552.2h0M621.1 581.5h0M611.9 559.7h0M627.0 568.2h0M628.4 533.4h0M612.9 569.6h0M606.4 563.9h0M629.7 548.9h0M619.8 578.2h0M602.0 545.7h0M631.7 568.6h0M609.0 541.2h0M608.6 542.8h0M636.8 526.7h0M621.8 543.2h0M626.9 577.6h0M611.5 552.0h0M625.9 581.8h0M626.6 544.2h0M617.2 568.9h0M650.2 546.0h0M616.3 564.9h0M658.0 552.0h0M664.5 544.7h0M619.4 577.1h0M565.5 503.4h0M611.1 573.9h0M646.1 576.4h0M655.9 545.4h0M632.9 543.1h0M616.0 540.1h0M617.7 578.1h0M622.0 521.3h0M638.5 556.6h0M619.4 571.0h0M628.9 560.9h0M635.4 523.6h0M617.2 576.5h0M621.2 566.2h0M623.2 555.3h0M609.9 529.5h0M633.5 552.8h0M625.9 531.5h0" stroke="#cfcad6" stroke-width="2.5" stroke-linecap="round" fill="none"/>
<path d="M567.2 527.9h0M582.2 516.7h0M566.9 511.9h0M590.0 509.6h0M564.7 504.7h0M569.4 504.8h0M565.1 527.9h0" stroke="#cac1d9" stroke-width="2.5" stroke-linecap="round" fill="none"/>
<path d="M590.8 515.7h0M571.4 521.0h0M575.6 522.0h0M586.7 513.1h0M569.4 506.4h0" stroke="#c6b7db" stroke-width="2.5" stroke-linecap="round" fill="none"/>
<path d="M631.1 583.1h0M587.7 517.9h0M621.1 576.2h0M628.4 581.5h0M628.8 591.7h0M625.0 579.0h0M646.8 551.7h0M637.0 549.1h0M621.7 537.6h0M637.7 571.1h0M617.9 565.4h0M567.3 505.4h0M607.4 586.2h0M642.3 550.1h0M650.6 538.0h0M636.5 543.1h0M619.3 594.1h0M636.6 569.3h0M582.3 518.8h0M631.4 522.6h0M626.6 532.1h0M630.7 578.9h0M621.7 578.7h0M629.8 578.4h0M621.8 561.5h0M569.6 523.5h0M585.8 506.4h0M655.8 556.5h0M621.3 566.9h0M570.7 517.0h0M570.0 516.8h0M559.0 518.0h0" stroke="#c1aede" stroke-width="2.5" stroke-linecap="round" fill="none"/>
<path d="M650.1 552.2h0M625.7 586.6h0M618.4 576.4h0M616.3 569.8h0M639.1 533.0h0M613.9 577.2h0M626.0 543.7h0M621.6 576.7h0M647.1 567.2h0M587.1 517.3h0M576.0 522.6h0M604.1 552.4h0M658.9 544.2h0M657.9 545.7h0M611.0 538.6h0M638.5 582.0h0M643.8 570.3h0M624.9 526.6h0M652.1 538.9h0M634.6 583.4h0M616.4 528.2h0M557.8 524.6h0M639.8 562.0h0M625.6 527.1h0M550.6 538.5h0M638.0 587.4h0M626.9 559.7h0M620.7 529.6h0M640.8 543.8h0M610.2 533.1h0M618.3 544.0h0M613.6 585.2h0M617.5 587.0h0M607.9 543.0h0M655.4 547.6h0M618.4 596.7h0M608.6 557.3h0M613.6 556.0h0M616.5 548.8h0M623.3 543.5h0M633.3 528.9h0M631.3 587.9h0M635.7 594.2h0M566.3 522.5h0M636.7 576.7h0M627.7 581.6h0M646.9 536.7h0" stroke="#bba5e0" stroke-width="2.5" stroke-linecap="round" fill="none"/>
<path d="M628.2 540.0h0M616.3 538.5h0M611.4 579.2h0M631.8 549.1h0M626.5 585.4h0M634.7 550.1h0M616.8 542.9h0M614.3 579.4h0M639.0 545.3h0M635.4 538.7h0M613.7 570.1h0M641.0 579.6h0M613.3 587.6h0M610.4 558.1h0M626.8 553.2h0M611.5 583.3h0M652.2 553.0h0M633.6 549.1h0M625.2 581.3h0M620.8 546.0h0M644.3 546.2h0M643.8 544.3h0M638.1 543.5h0M636.2 582.9h0M619.7 579.8h0M624.6 517.1h0M618.8 539.0h0M618.6 576.4h0M627.7 529.2h0M613.6 537.8h0M647.0 541.5h0M625.0 575.0h0M606.6 560.2h0M619.5 534.8h0M643.2 576.0h0M574.2 507.3h0M630.3 545.3h0M610.8 585.1h0M634.9 547.3h0M625.3 547.2h0M635.7 563.3h0M660.2 537.4h0M616.9 578.5h0M619.9 573.8h0M636.6 585.5h0M627.3 523.6h0M650.6 548.1h0M618.1 585.9h0M627.4 568.0h0M641.0 555.5h0M635.3 551.4h0M615.6 542.9h0M625.8 566.4h0M611.1 575.0h0M609.0 568.0h0M616.9 593.0h0M627.9 537.4h0M636.8 556.5h0M652.1 543.3h0M651.9 552.4h0M648.6 556.6h0M646.1 539.6h0M635.2 537.9h0M610.7 570.1h0" stroke="#b69ce3" stroke-width="2.5" stroke-linecap="round" fill="none"/>
<path d="M644.6 584.9h0M644.6 548.4h0M611.0 575.1h0M619.0 532.4h0M626.0 560.1h0M643.1 538.2h0M663.1 541.1h0M647.2 545.3h0M622.4 538.4h0M612.2 550.1h0M628.6 518.7h0M607.1 537.1h0M639.5 583.2h0M631.8 595.8h0M595.3 543.8h0M649.2 570.9h0M622.0 568.1h0M642.7 568.7h0M646.5 570.5h0M638.1 526.0h0M627.8 577.8h0M641.1 583.7h0M627.4 584.6h0M623.4 553.7h0M619.1 574.0h0M610.1 582.3h0M622.2 574.6h0M622.7 525.0h0M596.8 524.2h0M625.2 576.9h0M613.6 524.2h0M624.5 552.1h0M618.5 575.9h0M649.0 546.0h0M626.6 577.1h0M653.0 549.6h0M629.4 594.0h0" stroke="#b093e5" stroke-width="2.5" stroke-linecap="round" fill="none"/>
<path d="M587.6 520.2h0M598.6 536.3h0M599.0 539.3h0M603.8 543.0h0" stroke="#aa89e7" stroke-width="2.5" stroke-linecap="round" fill="none"/>
<path d="M588.1 523.1h0M600.3 543.9h0M598.6 527.3h0M588.3 517.7h0M602.5 547.2h0M588.2 522.7h0M596.9 526.3h0" stroke="#a480ea" stroke-width="2.5" stroke-linecap="round" fill="none"/>
<path d="M566.8 525.0h0M592.9 523.4h0M603.9 541.9h0M551.1 526.0h0M580.1 518.2h0M567.0 513.0h0M586.1 529.1h0M602.9 535.6h0M545.6 542.2h0M569.7 514.3h0M556.0 531.6h0M558.6 527.5h0M559.9 526.1h0M551.1 520.5h0M559.5 546.4h0M588.1 516.4h0M567.1 522.2h0M590.9 535.3h0M545.8 543.4h0M552.8 544.9h0M598.3 538.7h0M571.8 502.9h0M594.0 525.7h0M596.4 535.2h0M582.5 514.2h0M556.4 523.8h0M552.5 517.9h0M556.1 533.0h0M593.5 520.3h0M565.1 514.7h0M574.6 521.5h0M566.9 502.8h0M551.5 524.0h0M581.4 509.1h0M570.9 520.7h0M564.0 510.3h0M596.4 539.1h0M587.9 508.5h0M580.3 511.1h0M571.7 502.4h0M547.8 531.2h0M556.8 522.8h0M551.7 527.8h0M551.5 516.5h0M582.8 517.6h0M578.7 506.4h0M558.7 528.5h0M611.8 542.0h0M561.9 519.4h0M556.5 529.6h0M590.4 510.4h0M557.8 528.5h0M600.2 540.8h0M584.7 511.4h0M552.8 530.2h0M574.0 514.0h0M586.9 521.0h0" stroke="#9d77ec" stroke-width="2.5" stroke-linecap="round" fill="none"/>
<path d="M565.0 486.5h0M565.6 532.5h0M561.8 525.7h0M587.0 513.3h0M562.6 474.8h0M563.7 489.5h0M578.3 506.1h0M581.5 526.9h0M590.0 524.6h0M560.2 522.0h0M571.3 502.4h0M583.0 517.7h0M553.1 491.1h0M549.7 517.6h0M549.5 515.9h0M560.3 504.0h0M553.7 537.3h0M571.1 513.6h0M548.1 521.0h0M584.7 508.2h0M599.0 519.5h0M551.9 530.6h0M571.4 508.0h0M588.5 520.5h0M551.6 493.0h0M564.7 479.7h0M555.7 474.8h0M581.3 525.8h0M588.6 517.1h0M549.6 539.9h0M583.0 520.0h0M558.5 481.6h0M587.3 510.0h0M558.3 542.7h0M571.2 525.9h0M584.8 521.2h0M573.4 509.1h0M566.1 526.4h0M561.8 528.7h0M589.7 515.1h0M569.1 533.6h0M549.7 546.2h0M544.5 539.8h0M553.8 529.2h0M548.6 487.4h0M585.4 517.1h0M555.9 490.5h0M566.4 494.4h0M553.9 535.3h0M555.6 532.1h0M552.8 519.1h0M579.2 520.4h0M588.7 519.2h0M577.4 527.1h0M565.3 522.5h0M579.7 515.9h0M570.0 509.1h0M549.7 490.2h0M562.4 471.9h0M564.5 481.4h0M575.6 510.1h0M561.3 506.5h0M582.9 522.0h0M560.1 482.5h0M561.2 501.2h0M565.1 518.3h0M562.4 507.7h0M557.7 522.2h0M606.2 547.9h0M556.1 522.6h0M589.9 513.2h0M570.4 513.3h0M553.6 537.3h0M556.4 514.1h0M563.9 530.2h0M561.0 512.2h0M556.8 535.6h0M563.5 485.3h0M593.1 518.8h0M585.9 510.4h0M543.7 532.6h0M548.9 519.2h0M561.6 528.4h0M551.0 490.4h0M576.6 514.5h0M566.0 490.5h0M554.9 492.9h0M569.6 526.3h0M570.2 518.8h0M557.3 533.5h0M555.4 538.0h0M570.5 521.6h0M564.0 473.6h0M565.6 512.2h0M547.0 521.8h0M602.4 543.0h0M549.5 476.8h0M555.1 517.2h0M586.9 519.8h0M548.0 539.0h0M579.0 527.5h0M567.2 518.0h0M576.0 522.1h0M558.4 533.4h0M589.9 510.4h0M556.8 518.5h0M563.7 515.6h0M555.5 515.5h0M554.3 540.2h0M562.7 487.1h0M584.1 516.3h0M597.0 540.8h0M573.2 520.5h0M557.8 513.5h0M572.0 533.6h0M565.1 499.5h0M586.5 518.5h0M567.1 473.9h0M563.9 528.7h0M572.1 526.8h0M573.0 512.9h0M553.8 496.4h0M549.9 538.6h0" stroke="#966eee" stroke-width="2.5" stroke-linecap="round" fill="none"/>
<path d="M550.4 485.5h0M581.1 504.0h0M578.3 524.0h0M567.1 486.7h0M544.2 495.1h0M562.3 522.7h0M573.9 529.5h0M566.6 506.2h0M548.0 493.6h0M554.9 534.8h0M580.8 506.7h0M560.5 523.6h0M573.1 509.0h0M559.6 491.5h0M568.5 505.9h0M574.1 519.8h0M562.5 482.9h0M552.8 519.7h0M583.3 513.1h0M577.1 519.7h0M560.4 531.5h0M547.5 496.6h0M547.4 475.7h0M578.1 508.3h0M558.1 492.4h0M555.5 529.5h0M560.5 482.1h0M550.2 525.6h0M567.0 490.3h0M572.4 515.8h0M549.9 491.8h0M573.7 503.1h0M562.3 530.0h0M569.7 482.9h0M556.8 522.3h0M544.8 488.5h0M551.9 476.9h0M569.2 490.4h0M584.8 511.3h0M561.5 530.4h0M573.8 510.7h0M545.3 539.4h0M549.6 536.4h0M552.7 476.4h0M559.7 510.5h0M554.9 526.1h0M556.3 531.5h0M552.5 487.8h0M553.9 484.0h0M567.1 527.7h0M537.6 497.5h0M546.8 487.3h0M568.5 504.3h0M551.5 478.1h0M558.9 523.9h0M565.3 533.1h0M575.9 510.1h0M557.1 551.0h0M570.2 517.2h0M583.8 524.2h0M567.7 508.8h0M574.0 511.2h0M564.3 527.8h0M564.4 521.5h0M547.3 484.1h0M545.0 496.2h0M559.0 471.6h0M550.7 477.7h0M558.8 533.6h0M555.2 475.2h0M554.4 517.9h0M562.6 487.5h0M558.5 473.2h0M562.0 487.4h0M565.0 529.9h0M562.1 485.9h0M545.1 527.2h0M540.8 495.4h0M563.5 500.3h0M556.2 528.0h0M550.3 479.1h0M552.2 518.3h0M548.2 519.6h0M554.6 497.7h0M550.7 526.8h0M560.5 531.5h0M559.2 514.5h0M590.6 516.8h0M586.7 512.0h0M555.4 475.1h0M579.6 503.5h0M562.5 517.8h0M542.3 495.5h0M566.0 492.8h0M556.0 500.2h0M554.2 499.5h0M547.5 473.5h0M577.2 502.6h0M577.3 516.3h0M544.7 496.9h0M590.3 518.2h0M582.4 504.6h0M569.1 509.6h0M549.5 529.2h0M553.7 474.7h0M561.6 513.9h0M568.2 509.5h0M559.6 497.8h0M547.8 538.1h0M552.4 472.7h0M569.4 490.3h0M562.3 483.2h0M561.9 492.4h0M559.1 528.0h0M557.4 492.9h0M580.9 500.8h0M562.5 530.3h0M558.4 493.9h0M559.9 527.0h0M555.6 528.2h0M584.7 509.0h0M563.4 503.6h0M565.4 505.5h0M553.5 519.9h0M557.0 533.3h0M576.1 523.1h0M564.9 494.7h0M550.7 488.9h0M562.4 488.3h0M564.5 477.1h0M548.5 495.3h0M556.6 489.3h0M558.8 484.1h0M587.4 509.5h0M556.2 514.6h0M563.8 510.1h0M546.7 539.3h0M545.2 529.4h0M565.5 483.4h0M577.6 509.6h0M570.7 504.4h0M546.2 494.7h0M549.5 494.5h0M554.4 496.8h0M558.0 536.6h0M567.0 520.8h0M558.8 524.6h0M555.7 486.1h0M555.3 497.2h0M575.3 521.9h0M554.9 498.5h0M547.3 482.3h0M565.4 520.8h0M555.5 518.7h0M548.8 542.0h0M556.2 483.6h0M584.4 514.7h0M564.8 525.8h0M565.8 479.7h0M560.1 519.9h0M574.3 521.5h0M585.5 514.4h0M553.6 548.4h0M575.9 524.3h0M578.5 510.9h0M558.0 478.4h0M562.0 494.6h0M546.1 533.4h0M564.2 508.0h0M583.1 513.4h0M548.0 528.8h0M565.4 480.4h0M545.6 482.5h0M577.6 523.4h0M557.8 473.2h0M553.4 480.7h0M552.8 512.5h0M565.7 489.4h0M574.2 525.7h0M565.0 501.0h0M548.2 534.3h0M575.0 524.1h0M563.9 482.5h0M555.6 527.2h0M549.5 489.4h0" stroke="#8e65f0" stroke-width="2.5" stroke-linecap="round" fill="none"/>
<path d="M553.2 525.4h0M571.2 510.6h0M553.6 483.8h0M567.5 487.0h0M554.2 476.3h0M559.7 497.0h0M563.8 506.2h0M562.3 499.8h0M576.9 508.9h0M578.6 524.7h0M561.3 532.5h0M559.0 538.6h0M562.5 489.0h0M559.3 512.0h0M556.0 497.9h0M556.4 528.1h0M551.8 474.1h0M562.2 518.6h0M555.2 529.6h0M550.2 473.4h0M564.2 489.9h0M586.7 515.7h0M565.0 504.5h0M562.7 475.6h0M558.3 493.8h0M578.8 528.2h0M561.2 520.8h0M556.4 530.6h0M551.2 535.1h0M559.4 514.0h0M556.3 472.9h0M566.6 505.9h0M567.2 504.8h0M547.8 525.8h0M559.9 489.5h0M546.9 493.1h0M557.3 476.6h0M572.9 528.1h0M552.2 490.0h0M557.8 470.9h0M569.0 528.7h0M557.0 488.0h0M566.7 481.3h0M562.7 526.0h0M575.3 507.2h0M566.6 501.5h0M547.1 479.6h0M567.0 516.3h0M565.7 483.5h0M578.7 509.8h0M569.7 515.6h0M554.8 522.2h0M560.0 534.8h0M578.5 520.4h0M557.1 512.2h0M558.0 528.7h0M557.9 496.7h0M551.6 482.3h0M583.6 517.7h0M548.2 473.4h0M582.2 516.5h0M565.1 496.0h0M560.0 520.2h0M580.5 512.0h0M562.3 522.6h0M559.3 497.8h0M562.7 478.5h0M563.1 505.4h0M566.9 521.2h0M548.4 483.4h0M565.6 487.8h0M556.6 486.8h0M562.5 475.6h0M565.1 513.2h0M566.6 499.1h0M544.4 530.1h0M552.5 495.1h0M588.1 512.5h0M583.4 516.1h0M550.3 525.7h0M586.3 516.2h0M565.5 490.1h0M570.5 527.4h0M551.7 524.5h0M569.7 513.4h0M548.5 493.2h0M552.6 544.5h0M552.4 543.8h0M568.1 519.9h0M566.7 473.8h0M581.8 515.6h0M578.1 526.2h0M551.2 534.0h0M574.4 524.3h0M554.8 545.5h0M560.1 533.1h0M553.5 479.8h0M561.4 471.1h0M553.9 536.1h0M565.3 502.0h0M555.1 493.5h0M589.4 522.2h0M558.1 497.5h0M583.9 510.3h0M557.7 472.1h0M575.9 515.4h0M549.0 522.6h0M558.3 513.2h0M548.3 485.5h0M550.9 476.5h0M566.5 488.7h0M569.1 487.8h0M567.5 493.2h0M563.3 494.3h0M571.1 529.0h0M552.3 479.0h0M556.8 486.9h0M562.4 530.3h0M584.2 514.5h0M565.7 528.9h0M559.8 526.9h0M584.1 510.1h0M570.9 502.8h0M556.6 542.1h0M577.3 506.7h0M558.6 496.9h0M566.6 521.4h0M557.5 527.5h0M568.2 519.8h0M559.2 490.5h0M547.0 523.1h0M552.3 537.1h0M566.0 485.8h0M559.2 523.2h0M576.4 518.8h0M554.5 485.1h0M562.4 478.7h0M566.3 485.6h0M579.6 509.7h0M583.3 521.4h0M566.2 524.1h0M560.5 514.5h0M558.0 513.3h0M564.0 501.5h0M590.7 520.3h0M563.0 474.7h0M568.7 492.9h0M569.9 512.3h0M550.2 518.4h0M567.8 521.5h0M554.7 497.9h0M549.3 490.3h0M555.5 531.3h0M585.8 507.1h0M565.7 500.5h0M558.6 512.9h0M547.0 524.3h0M558.1 499.4h0M542.6 494.7h0M551.4 473.2h0M568.3 501.0h0M581.7 528.6h0M568.2 510.2h0M552.4 517.6h0M591.0 515.7h0M563.3 534.3h0M557.9 524.9h0M559.4 499.2h0M577.4 517.1h0M563.5 511.9h0M581.1 508.2h0M588.4 515.9h0M574.4 524.6h0M552.5 481.7h0M563.9 480.8h0M550.5 474.3h0M569.0 526.2h0M564.1 508.9h0" stroke="#855bf2" stroke-width="2.5" stroke-linecap="round" fill="none"/>
<path d="M551.7 517.6h0M537.9 495.0h0M552.9 489.9h0M565.0 492.6h0M552.2 520.3h0M563.2 488.2h0M559.9 533.0h0M561.7 487.2h0M549.9 493.8h0M547.7 483.9h0M560.9 512.8h0M593.4 518.7h0M590.8 513.9h0M551.4 473.8h0M566.0 510.0h0M562.4 483.8h0M552.8 493.8h0M550.4 475.6h0M556.3 481.1h0M555.1 521.9h0M564.1 494.3h0M549.0 488.9h0M549.9 494.8h0M566.2 500.6h0M550.8 477.6h0M562.5 499.1h0M556.2 499.2h0M590.0 522.5h0M560.6 486.2h0M557.7 492.5h0M552.5 474.5h0M560.1 527.9h0M550.6 478.8h0" stroke="#7c51f4" stroke-width="2.5" stroke-linecap="round" fill="none"/>
<path d="M552.0 494.5h0M550.6 484.3h0M566.0 486.4h0M558.4 493.3h0M553.4 485.5h0M567.5 492.5h0M556.7 485.5h0M558.8 498.5h0M552.4 487.3h0M551.4 474.3h0M552.2 496.7h0M559.0 501.3h0" stroke="#673df8" stroke-width="2.5" stroke-linecap="round" fill="none"/>
<line x1="521.5" y1="461.3" x2="521.5" y2="613.3" stroke="#333" stroke-width="1.2"/>
<line x1="520.9" y1="612.7" x2="675" y2="612.7" stroke="#333" stroke-width="1.2"/>
<line x1="518.8" y1="468.4" x2="521.5" y2="468.4" stroke="#333" stroke-width="1.2"/>
<text x="517" y="471.8" font-size="9.0" text-anchor="end" font-weight="normal" fill="#3a3a3a" >5.0</text>
<line x1="518.8" y1="503.1" x2="521.5" y2="503.1" stroke="#333" stroke-width="1.2"/>
<text x="517" y="506.5" font-size="9.0" text-anchor="end" font-weight="normal" fill="#3a3a3a" >2.5</text>
<line x1="518.8" y1="537.8" x2="521.5" y2="537.8" stroke="#333" stroke-width="1.2"/>
<text x="517" y="541.2" font-size="9.0" text-anchor="end" font-weight="normal" fill="#3a3a3a" >0.0</text>
<line x1="518.8" y1="572.5" x2="521.5" y2="572.5" stroke="#333" stroke-width="1.2"/>
<text x="514.8" y="575.9" font-size="9.0" text-anchor="end" font-weight="normal" fill="#3a3a3a" >2.5</text>
<line x1="500.2" y1="573.1" x2="503.4" y2="573.1" stroke="#3a3a3a" stroke-width="0.9"/>
<line x1="518.8" y1="607.2" x2="521.5" y2="607.2" stroke="#333" stroke-width="1.2"/>
<text x="514.8" y="610.6" font-size="9.0" text-anchor="end" font-weight="normal" fill="#3a3a3a" >6.0</text>
<line x1="500.2" y1="607.8" x2="503.4" y2="607.8" stroke="#3a3a3a" stroke-width="0.9"/>
<line x1="560.3" y1="612.7" x2="560.3" y2="615.4" stroke="#333" stroke-width="1.2"/>
<text x="560.3" y="624" font-size="8.9" text-anchor="middle" font-weight="normal" fill="#3a3a3a" >-4</text>
<line x1="603.7" y1="612.7" x2="603.7" y2="615.4" stroke="#333" stroke-width="1.2"/>
<text x="603.7" y="624" font-size="8.9" text-anchor="middle" font-weight="normal" fill="#3a3a3a" >0</text>
<line x1="646.7" y1="612.7" x2="646.7" y2="615.4" stroke="#333" stroke-width="1.2"/>
<text x="646.7" y="624" font-size="8.9" text-anchor="middle" font-weight="normal" fill="#3a3a3a" >4</text>
<text x="579.2" y="635.9" font-size="11" textLength="37.9" lengthAdjust="spacingAndGlyphs">UMAP_1</text>
<text x="502.4" y="545.4" font-size="11.2" textLength="38" lengthAdjust="spacingAndGlyphs" transform="rotate(-90 502.4 545.4)">UMAP_2</text>
<text x="563.0" y="456.8" font-size="10.6" font-weight="bold" textLength="74.6" lengthAdjust="spacingAndGlyphs">KLRD1 (CD94)</text>
</svg></body></html>
